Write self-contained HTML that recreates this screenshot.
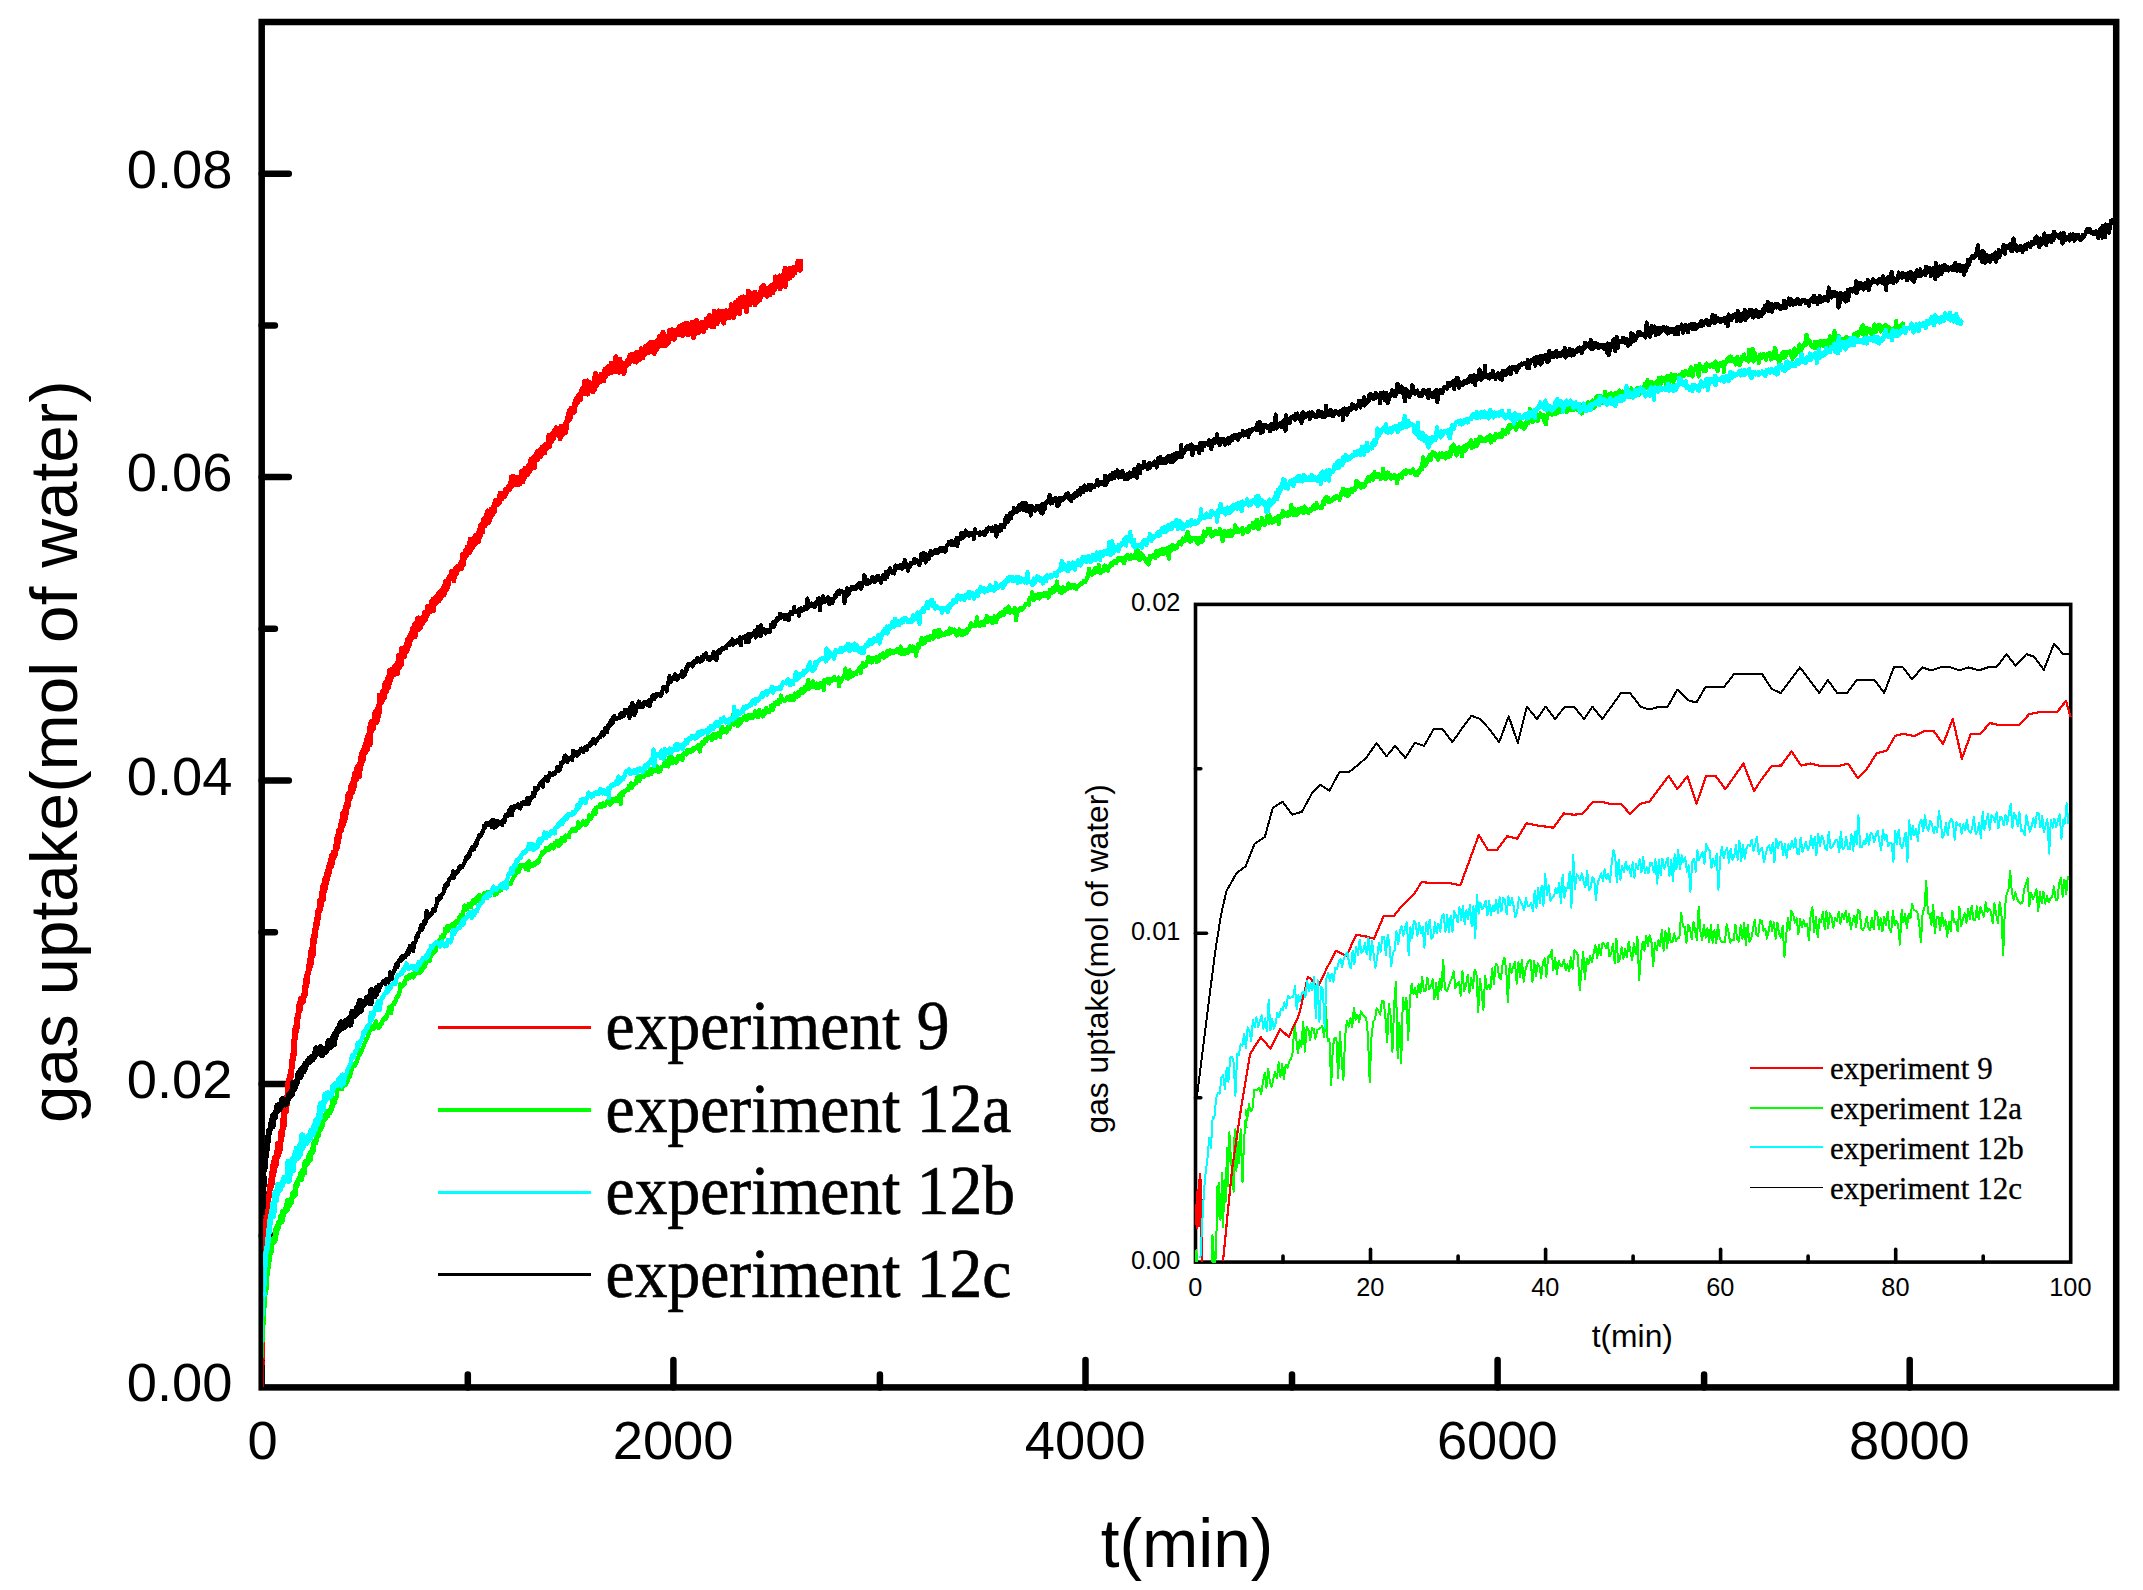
<!DOCTYPE html>
<html lang="en"><head><meta charset="utf-8"><title>gas uptake vs t(min)</title>
<style>html,body{margin:0;padding:0;background:#fff;}body{width:2143px;height:1590px;overflow:hidden;}svg{display:block;}</style>
</head><body>
<svg width="2143" height="1590" viewBox="0 0 2143 1590" role="img" aria-label="gas uptake versus time chart">
<rect x="0" y="0" width="2143" height="1590" fill="#fff"/>
<defs><clipPath id="cm"><rect x="263.2" y="22.0" width="1854.5" height="1366.4"/></clipPath><clipPath id="ci"><rect x="1195.0" y="604.4" width="877.2" height="658.9"/></clipPath></defs>
<g stroke="#000" fill="none" stroke-width="6.5">
<rect x="261.7" y="22.0" width="1854.5" height="1365.4" stroke-linejoin="miter"/>
<g stroke-linecap="round">
<line x1="673.4" y1="1387.4" x2="673.4" y2="1360.0"/>
<line x1="1085.5" y1="1387.4" x2="1085.5" y2="1360.0"/>
<line x1="1497.6" y1="1387.4" x2="1497.6" y2="1360.0"/>
<line x1="1909.7" y1="1387.4" x2="1909.7" y2="1360.0"/>
<line x1="467.8" y1="1387.4" x2="467.8" y2="1374.5"/>
<line x1="879.9" y1="1387.4" x2="879.9" y2="1374.5"/>
<line x1="1292.0" y1="1387.4" x2="1292.0" y2="1374.5"/>
<line x1="1704.1" y1="1387.4" x2="1704.1" y2="1374.5"/>
<line x1="261.7" y1="1084.0" x2="288.8" y2="1084.0"/>
<line x1="261.7" y1="780.6" x2="288.8" y2="780.6"/>
<line x1="261.7" y1="477.1" x2="288.8" y2="477.1"/>
<line x1="261.7" y1="173.7" x2="288.8" y2="173.7"/>
<line x1="261.7" y1="1235.7" x2="274.9" y2="1235.7"/>
<line x1="261.7" y1="932.3" x2="274.9" y2="932.3"/>
<line x1="261.7" y1="628.8" x2="274.9" y2="628.8"/>
<line x1="261.7" y1="325.4" x2="274.9" y2="325.4"/>
</g></g>
<g shape-rendering="crispEdges" clip-path="url(#cm)">
<polyline points="262.0,1387.0 263.2,1384.8 263.2,1380.8 263.3,1376.7 263.3,1372.6 263.3,1368.6 263.4,1364.5 263.4,1360.5 263.5,1356.5 263.5,1352.4 263.5,1348.3 263.6,1344.3 263.6,1340.2 263.6,1336.2 263.7,1332.2 263.7,1328.1 263.7,1324.0 263.8,1320.0 263.8,1316.0 263.9,1311.9 263.9,1307.9 263.9,1303.8 264.8,1299.8 263.8,1295.7 264.1,1291.6" fill="none" stroke="#ff0000" stroke-width="2.2" stroke-linejoin="round" />
<polyline points="265.0,1267.2 264.9,1263.1 264.4,1259.0 264.7,1255.0 265.1,1250.9 264.8,1246.8 264.9,1242.7 264.3,1238.7 265.4,1234.6 265.3,1230.5 265.6,1226.5 264.9,1222.5 266.7,1218.4 266.2,1214.4 271.2,1179.0 271.5,1185.2 271.8,1177.5 272.1,1172.5 272.4,1174.0 272.7,1166.8 273.0,1175.0 273.3,1169.3 273.6,1166.7 273.9,1171.1 274.2,1161.4 274.5,1166.9 274.8,1158.0 275.1,1161.2 275.4,1158.5 275.7,1165.3 276.0,1164.6 276.3,1156.2 276.6,1158.6 276.9,1153.7 277.2,1154.9 277.5,1149.7 277.8,1155.5 278.1,1144.1 278.4,1149.7 278.7,1153.6 279.0,1146.6 279.3,1143.5 279.6,1149.9 279.9,1144.1 280.2,1142.3 280.5,1141.4 280.8,1139.6 281.1,1137.2 281.4,1131.8 281.7,1136.0 282.0,1131.7 282.3,1133.4 282.6,1126.8 282.9,1120.1 283.2,1124.1 283.5,1127.6 283.8,1119.6 284.1,1115.5 284.4,1112.4 284.7,1110.6 285.0,1110.8 285.3,1106.1 285.6,1111.9 285.9,1104.6 286.2,1104.4 286.5,1106.1 286.8,1103.8 287.1,1096.9 287.4,1096.8 287.7,1095.8 288.0,1091.2 288.3,1083.3 288.6,1083.6 288.9,1087.2 289.2,1084.6 289.5,1078.6 289.8,1079.4 290.1,1076.0 290.4,1074.6 290.7,1077.0 291.0,1075.1 291.3,1070.2 291.6,1068.2 291.9,1065.8 292.2,1061.3 292.5,1059.0 292.8,1054.6 293.1,1054.0 293.4,1058.4 293.7,1051.7 294.0,1044.6 294.3,1042.2 294.6,1038.4 294.9,1039.2 295.2,1036.5 295.5,1028.2 295.8,1031.6 296.1,1026.2 296.4,1029.8 296.7,1023.6 297.0,1027.0 297.3,1018.3 297.6,1017.1 297.9,1016.6 298.2,1017.1 298.5,1013.7 298.8,1006.2 299.1,1009.2 299.4,1007.0 299.7,1003.5 300.0,1003.2 300.3,1009.2 300.6,1001.5 300.9,998.7 301.2,1003.1 301.5,1000.9 301.8,999.7 302.1,1002.0 302.4,1000.4 302.7,999.5 303.0,1001.3 303.3,998.5 303.6,995.4 303.9,995.4 304.2,994.2 304.5,996.2 304.8,990.8 305.1,987.0 305.4,990.2 305.7,983.9 306.0,980.1 306.3,985.4 306.6,980.6 306.9,982.7 307.2,977.9 307.5,974.6 307.8,972.7 308.1,973.6 308.4,971.9 308.7,969.0 309.0,969.8 309.3,964.9 309.6,967.6 309.9,960.1 310.2,963.2 310.5,964.8 310.8,964.2 311.1,963.3 311.4,950.3 311.7,955.5 312.0,956.1 312.3,952.9 312.6,945.1 312.9,947.4 313.2,953.8 313.5,938.5 313.8,942.0 314.1,942.1 314.4,934.6 314.7,937.0 315.0,930.4 315.3,929.9 315.6,927.5 315.9,928.2 316.2,923.7 316.5,926.5 316.8,918.7 317.1,919.3 317.4,921.1 317.7,917.9 318.0,911.4 318.3,915.9 318.6,910.7 318.9,912.1 319.2,909.9 319.5,911.0 319.8,907.0 320.1,900.6 320.4,901.0 320.7,905.7 321.0,901.8 321.3,904.8 321.6,901.2 321.9,895.5 322.2,899.6 322.5,891.5 322.8,888.1 323.1,898.7 323.4,885.8 323.7,892.2 324.0,891.4 324.3,887.7 324.6,881.3 324.9,888.2 325.2,879.6 325.5,878.8 325.8,880.6 326.1,883.1 326.4,880.4 326.7,880.2 327.0,875.2 327.3,875.0 327.6,871.6 327.9,872.5 328.2,874.8 328.5,870.7 328.8,872.6 329.1,867.3 329.4,866.0 329.7,865.9 330.0,863.7 330.3,865.0 330.6,863.0 330.9,866.5 331.2,859.8 331.5,858.5 331.8,855.8 332.1,857.8 332.4,862.9 332.7,855.3 333.0,856.0 333.3,857.5 333.6,853.8 333.9,852.2 334.2,855.9 334.5,853.0 334.8,852.8 335.1,853.9 335.4,852.5 335.7,847.1 336.0,845.7 336.3,847.1 336.6,845.0 336.9,839.0 337.2,847.2 337.5,842.0 337.8,842.5 338.1,835.3 338.4,841.3 338.7,835.0 339.0,835.6 339.3,830.2 339.6,832.9 339.9,831.1 340.2,830.4 340.5,830.4 340.8,828.5 341.1,830.0 341.4,824.6 341.7,821.7 342.0,823.0 342.3,823.8 342.6,825.9 342.9,822.3 343.2,813.7 343.5,819.6 343.8,822.1 344.1,816.4 344.4,814.0 344.7,814.9 345.0,811.2 345.3,817.7 345.6,810.3 345.9,813.4 346.2,810.2 346.5,805.3 346.8,807.9 347.1,807.4 347.4,803.1 347.7,802.4 348.0,795.8 348.3,804.4 348.6,799.5 348.9,793.6 349.2,793.3 349.5,796.8 349.8,798.4 350.1,794.3 350.4,794.3 350.7,788.6 351.0,786.8 351.3,793.3 351.6,790.9 351.9,788.3 352.2,791.9 352.5,783.6 352.8,784.6 353.1,787.7 353.4,788.8 353.7,781.6 354.0,786.7 354.3,778.5 354.6,780.5 354.9,778.8 355.2,774.0 355.5,778.7 355.8,779.8 356.1,775.3 356.4,774.9 356.7,778.2 357.0,769.6 357.3,768.4 357.6,769.5 357.9,767.2 358.2,774.3 358.5,770.3 358.8,765.7 359.1,766.3 359.4,775.9 359.7,764.7 360.0,763.2 360.3,765.5 360.6,765.6 360.9,763.6 361.2,758.7 361.5,756.6 361.8,760.8 362.1,758.0 362.4,752.3 362.7,760.3 363.0,758.4 363.3,754.9 363.6,754.2 363.9,754.0 364.2,750.7 364.5,748.6 364.8,752.9 365.1,746.6 365.4,750.6 365.7,744.3 366.0,746.9 366.3,745.1 366.6,750.1 366.9,741.0 367.2,738.9 367.5,740.1 367.8,737.5 368.1,738.8 368.4,741.1 368.7,741.0 369.0,742.6 369.3,734.5 369.6,744.1 369.9,741.0 370.2,733.0 370.5,726.0 370.8,731.6 371.1,730.4 371.4,722.3 371.7,728.3 372.0,726.4 372.3,723.8 372.6,727.3 372.9,728.3 373.2,723.2 373.5,724.9 373.8,721.1 374.1,719.9 374.4,721.3 374.7,721.4 375.0,717.7 375.3,712.8 375.6,720.5 375.9,713.2 376.2,717.7 376.5,722.1 376.8,715.7 377.1,711.2 377.4,709.7 377.7,717.3 378.0,712.8 378.3,712.8 378.6,713.4 378.9,709.6 379.2,707.5 379.5,704.3 379.8,695.6 380.1,699.2 380.4,702.7 380.7,701.8 381.0,702.7 381.3,700.0 381.6,699.9 381.9,701.0 382.2,695.5 382.5,696.6 382.8,692.3 383.1,698.4 383.4,694.9 383.7,695.6 384.0,697.6 384.3,695.5 384.6,691.1 384.9,692.4 385.2,684.5 385.5,689.6 385.8,688.2 386.1,682.7 386.4,691.1 386.7,684.4 387.0,687.3 387.3,683.2 387.6,686.7 387.9,688.0 388.2,680.6 388.5,677.4 388.8,680.6 389.1,683.4 389.4,678.9 389.7,678.0 390.0,680.5 390.3,670.6 390.6,675.7 390.9,672.8 391.2,677.6 391.5,673.8 391.8,671.7 392.1,674.1 392.4,669.6 392.7,673.0 393.0,671.0 393.3,672.1 393.6,670.5 393.9,674.3 394.2,670.1 394.5,671.1 394.8,670.4 395.1,666.5 395.4,670.5 395.7,669.7 396.0,668.8 396.3,666.4 396.6,666.0 396.9,669.4 397.2,673.0 397.5,663.1 397.8,667.1 398.1,664.4 398.4,667.1 398.7,665.6 399.0,667.3 399.3,655.7 399.6,662.3 399.9,660.5 400.2,663.0 400.5,659.9 400.8,658.5 401.1,661.6 401.4,664.1 401.7,649.3 402.0,656.1 402.3,657.4 402.6,655.9 402.9,654.3 403.2,651.1 403.5,651.6 403.8,655.7 404.1,656.3 404.4,653.1 404.7,649.3 405.0,652.0 405.3,650.5 405.6,652.0 405.9,649.9 406.2,646.6 406.5,648.6 406.8,643.8 407.1,649.8 407.4,649.1 407.7,640.7 408.0,644.6 408.3,639.9 408.6,645.2 408.9,643.7 409.2,639.7 409.5,642.5 409.8,637.7 410.1,636.7 410.4,636.6 410.7,636.5 411.0,635.0 411.3,635.9 411.6,633.0 411.9,636.4 412.2,637.0 412.5,632.0 412.8,629.0 413.1,635.3 413.4,636.0 413.7,632.0 414.0,628.3 414.3,632.5 414.6,636.3 414.9,624.9 415.2,630.8 415.5,627.5 415.8,625.8 416.1,629.4 416.4,623.4 416.7,627.3 417.0,629.2 417.3,625.5 417.6,621.9 417.9,619.0 418.2,620.5 418.5,618.5 418.8,628.9 419.1,622.8 419.4,620.5 419.7,619.5" fill="none" stroke="#ff0000" stroke-width="6.0" stroke-linejoin="round" />
<polyline points="263.8,1295.7 264.1,1291.6 264.4,1287.5 263.8,1283.5 264.3,1279.4 264.4,1275.3 263.6,1271.2 265.0,1267.2 264.9,1263.1 264.4,1259.0 264.7,1255.0 265.1,1250.9 264.8,1246.8 264.9,1242.7 264.3,1238.7 265.4,1234.6 265.3,1230.5 265.6,1226.5 264.9,1222.5 266.7,1218.4 266.2,1214.4 271.2,1179.0 271.5,1185.2 271.8,1177.5 272.1,1172.5 272.4,1174.0 272.7,1166.8 273.0,1175.0 273.3,1169.3 273.6,1166.7 273.9,1171.1 274.2,1161.4 274.5,1166.9 274.8,1158.0 275.1,1161.2 275.4,1158.5 275.7,1165.3 276.0,1164.6 276.3,1156.2 276.6,1158.6 276.9,1153.7 277.2,1154.9 277.5,1149.7 277.8,1155.5 278.1,1144.1 278.4,1149.7 278.7,1153.6 279.0,1146.6 279.3,1143.5 279.6,1149.9 279.9,1144.1 280.2,1142.3 280.5,1141.4 280.8,1139.6 281.1,1137.2 281.4,1131.8 281.7,1136.0 282.0,1131.7 282.3,1133.4 282.6,1126.8 282.9,1120.1 283.2,1124.1 283.5,1127.6 283.8,1119.6 284.1,1115.5 284.4,1112.4 284.7,1110.6 285.0,1110.8 285.3,1106.1 285.6,1111.9 285.9,1104.6 286.2,1104.4 286.5,1106.1 286.8,1103.8 287.1,1096.9 287.4,1096.8 287.7,1095.8 288.0,1091.2 288.3,1083.3 288.6,1083.6 288.9,1087.2 289.2,1084.6 289.5,1078.6 289.8,1079.4 290.1,1076.0 290.4,1074.6 290.7,1077.0 291.0,1075.1 291.3,1070.2 291.6,1068.2 291.9,1065.8 292.2,1061.3 292.5,1059.0 292.8,1054.6 293.1,1054.0 293.4,1058.4 293.7,1051.7 294.0,1044.6 294.3,1042.2 294.6,1038.4 294.9,1039.2 295.2,1036.5 295.5,1028.2 295.8,1031.6 296.1,1026.2 296.4,1029.8 296.7,1023.6 297.0,1027.0 297.3,1018.3 297.6,1017.1 297.9,1016.6 298.2,1017.1 298.5,1013.7 298.8,1006.2 299.1,1009.2 299.4,1007.0 299.7,1003.5 300.0,1003.2 300.3,1009.2 300.6,1001.5 300.9,998.7 301.2,1003.1 301.5,1000.9 301.8,999.7 302.1,1002.0 302.4,1000.4 302.7,999.5 303.0,1001.3 303.3,998.5 303.6,995.4 303.9,995.4 304.2,994.2 304.5,996.2 304.8,990.8 305.1,987.0 305.4,990.2 305.7,983.9 306.0,980.1 306.3,985.4 306.6,980.6 306.9,982.7 307.2,977.9 307.5,974.6 307.8,972.7 308.1,973.6 308.4,971.9 308.7,969.0 309.0,969.8 309.3,964.9 309.6,967.6 309.9,960.1 310.2,963.2 310.5,964.8 310.8,964.2 311.1,963.3 311.4,950.3 311.7,955.5 312.0,956.1 312.3,952.9 312.6,945.1 312.9,947.4 313.2,953.8 313.5,938.5 313.8,942.0 314.1,942.1 314.4,934.6 314.7,937.0 315.0,930.4 315.3,929.9 315.6,927.5 315.9,928.2 316.2,923.7 316.5,926.5 316.8,918.7 317.1,919.3 317.4,921.1 317.7,917.9 318.0,911.4 318.3,915.9 318.6,910.7 318.9,912.1 319.2,909.9 319.5,911.0 319.8,907.0 320.1,900.6 320.4,901.0 320.7,905.7 321.0,901.8 321.3,904.8 321.6,901.2 321.9,895.5 322.2,899.6 322.5,891.5 322.8,888.1 323.1,898.7 323.4,885.8 323.7,892.2 324.0,891.4 324.3,887.7 324.6,881.3 324.9,888.2 325.2,879.6 325.5,878.8 325.8,880.6 326.1,883.1 326.4,880.4 326.7,880.2 327.0,875.2 327.3,875.0 327.6,871.6 327.9,872.5 328.2,874.8 328.5,870.7 328.8,872.6 329.1,867.3 329.4,866.0 329.7,865.9 330.0,863.7 330.3,865.0 330.6,863.0 330.9,866.5 331.2,859.8 331.5,858.5 331.8,855.8 332.1,857.8 332.4,862.9 332.7,855.3 333.0,856.0 333.3,857.5 333.6,853.8 333.9,852.2 334.2,855.9 334.5,853.0 334.8,852.8 335.1,853.9 335.4,852.5 335.7,847.1 336.0,845.7 336.3,847.1 336.6,845.0 336.9,839.0 337.2,847.2 337.5,842.0 337.8,842.5 338.1,835.3 338.4,841.3 338.7,835.0 339.0,835.6 339.3,830.2 339.6,832.9 339.9,831.1 340.2,830.4 340.5,830.4 340.8,828.5 341.1,830.0 341.4,824.6 341.7,821.7 342.0,823.0 342.3,823.8 342.6,825.9 342.9,822.3 343.2,813.7 343.5,819.6 343.8,822.1 344.1,816.4 344.4,814.0 344.7,814.9 345.0,811.2 345.3,817.7 345.6,810.3 345.9,813.4 346.2,810.2 346.5,805.3 346.8,807.9 347.1,807.4 347.4,803.1 347.7,802.4 348.0,795.8 348.3,804.4 348.6,799.5 348.9,793.6 349.2,793.3 349.5,796.8 349.8,798.4 350.1,794.3 350.4,794.3 350.7,788.6 351.0,786.8 351.3,793.3 351.6,790.9 351.9,788.3 352.2,791.9 352.5,783.6 352.8,784.6 353.1,787.7 353.4,788.8 353.7,781.6 354.0,786.7 354.3,778.5 354.6,780.5 354.9,778.8 355.2,774.0 355.5,778.7 355.8,779.8 356.1,775.3 356.4,774.9 356.7,778.2 357.0,769.6 357.3,768.4 357.6,769.5 357.9,767.2 358.2,774.3 358.5,770.3 358.8,765.7 359.1,766.3 359.4,775.9 359.7,764.7 360.0,763.2 360.3,765.5 360.6,765.6 360.9,763.6 361.2,758.7 361.5,756.6 361.8,760.8 362.1,758.0 362.4,752.3 362.7,760.3 363.0,758.4 363.3,754.9 363.6,754.2 363.9,754.0 364.2,750.7 364.5,748.6 364.8,752.9 365.1,746.6 365.4,750.6 365.7,744.3 366.0,746.9 366.3,745.1 366.6,750.1 366.9,741.0 367.2,738.9 367.5,740.1 367.8,737.5 368.1,738.8 368.4,741.1 368.7,741.0 369.0,742.6 369.3,734.5 369.6,744.1 369.9,741.0 370.2,733.0 370.5,726.0 370.8,731.6 371.1,730.4 371.4,722.3 371.7,728.3 372.0,726.4 372.3,723.8 372.6,727.3 372.9,728.3 373.2,723.2 373.5,724.9 373.8,721.1 374.1,719.9 374.4,721.3 374.7,721.4 375.0,717.7 375.3,712.8 375.6,720.5 375.9,713.2 376.2,717.7 376.5,722.1 376.8,715.7 377.1,711.2 377.4,709.7 377.7,717.3 378.0,712.8 378.3,712.8 378.6,713.4 378.9,709.6 379.2,707.5 379.5,704.3 379.8,695.6 380.1,699.2 380.4,702.7 380.7,701.8 381.0,702.7 381.3,700.0 381.6,699.9 381.9,701.0 382.2,695.5 382.5,696.6 382.8,692.3 383.1,698.4 383.4,694.9 383.7,695.6 384.0,697.6 384.3,695.5 384.6,691.1 384.9,692.4 385.2,684.5 385.5,689.6 385.8,688.2 386.1,682.7 386.4,691.1 386.7,684.4 387.0,687.3 387.3,683.2 387.6,686.7 387.9,688.0 388.2,680.6 388.5,677.4 388.8,680.6 389.1,683.4 389.4,678.9 389.7,678.0 390.0,680.5 390.3,670.6 390.6,675.7 390.9,672.8 391.2,677.6 391.5,673.8 391.8,671.7 392.1,674.1 392.4,669.6 392.7,673.0 393.0,671.0 393.3,672.1 393.6,670.5 393.9,674.3 394.2,670.1 394.5,671.1 394.8,670.4 395.1,666.5 395.4,670.5 395.7,669.7 396.0,668.8 396.3,666.4 396.6,666.0 396.9,669.4 397.2,673.0 397.5,663.1 397.8,667.1 398.1,664.4 398.4,667.1 398.7,665.6 399.0,667.3 399.3,655.7 399.6,662.3 399.9,660.5 400.2,663.0 400.5,659.9 400.8,658.5 401.1,661.6 401.4,664.1 401.7,649.3 402.0,656.1 402.3,657.4 402.6,655.9 402.9,654.3 403.2,651.1 403.5,651.6 403.8,655.7 404.1,656.3 404.4,653.1 404.7,649.3 405.0,652.0 405.3,650.5 405.6,652.0 405.9,649.9 406.2,646.6 406.5,648.6 406.8,643.8 407.1,649.8 407.4,649.1 407.7,640.7 408.0,644.6 408.3,639.9 408.6,645.2 408.9,643.7 409.2,639.7 409.5,642.5 409.8,637.7 410.1,636.7 410.4,636.6 410.7,636.5 411.0,635.0 411.3,635.9 411.6,633.0 411.9,636.4 412.2,637.0 412.5,632.0 412.8,629.0 413.1,635.3 413.4,636.0 413.7,632.0 414.0,628.3 414.3,632.5 414.6,636.3 414.9,624.9 415.2,630.8 415.5,627.5 415.8,625.8 416.1,629.4 416.4,623.4 416.7,627.3 417.0,629.2 417.3,625.5 417.6,621.9 417.9,619.0 418.2,620.5 418.5,618.5 418.8,628.9 419.1,622.8 419.4,620.5 419.7,619.5 420.0,619.5 420.3,621.3 420.6,618.9 420.9,626.7 421.2,618.7 421.5,618.0 421.8,620.9 422.1,624.0 422.4,624.0 422.7,618.0 423.0,620.1 423.3,619.1 423.6,619.3 423.9,618.0 424.2,613.9 424.5,612.8 424.8,617.3 425.1,612.5 425.4,620.2 425.7,615.4 426.0,612.5 426.3,613.5 426.6,612.3 426.9,613.1 427.2,615.7 427.5,607.7 427.8,606.3 428.1,612.1 428.4,610.5 428.7,610.5 429.0,611.4 429.3,609.4 429.6,612.1 429.9,607.0 430.2,609.3 430.5,606.1 430.8,605.2 431.1,609.5 431.4,608.8 431.7,600.7 432.0,602.6 432.3,606.3 432.6,607.1 432.9,601.5 433.2,602.6 433.5,599.0 433.8,610.6 434.1,603.8 434.4,604.5 434.7,603.0 435.0,603.2 435.3,601.5 435.6,598.7 435.9,601.7 436.2,599.5 436.5,602.6 436.8,595.9 437.1,596.3 437.4,599.1 437.7,600.7 438.0,597.3 438.3,594.0 438.6,595.3 438.9,593.3 439.2,600.7 439.5,597.5 439.8,598.5 440.1,595.0 440.4,591.6 440.7,596.3 441.0,597.8 441.3,594.8 441.6,592.8 441.9,595.6 442.2,590.9 442.5,594.2 442.8,588.8 443.1,587.9 443.4,591.6 443.7,590.6 444.0,595.1 444.3,588.1 444.6,588.5 444.9,585.1 445.2,582.2 445.5,581.8 445.8,587.6 446.1,582.2 446.4,589.0 446.7,589.3 447.0,582.9 447.3,588.4 447.6,583.9 447.9,585.7 448.2,581.1 448.5,584.2 448.8,577.7 449.1,578.6 449.4,578.4 449.7,578.4 450.0,575.6 450.3,576.9 450.6,576.4 450.9,578.9 451.2,578.6 451.5,571.2 451.8,577.3 452.1,577.5 452.4,573.3 452.7,577.1 453.0,571.6 453.3,579.5 453.6,573.7 453.9,580.7 454.2,576.7 454.5,572.7 454.8,574.4 455.1,569.7 455.4,570.5 455.7,567.7 456.0,570.5 456.3,574.1 456.6,570.9 456.9,572.9 457.2,567.0 457.5,566.1 457.8,566.4 458.1,569.1 458.4,568.0 458.7,567.3 459.0,568.4 459.3,565.6 459.6,565.5 459.9,569.1 460.2,563.8 460.5,565.6 460.8,568.7 461.1,564.4 461.4,565.9 461.7,560.9 462.0,567.9 462.3,554.7 462.6,557.7 462.9,557.8 463.2,565.3 463.5,560.7 463.8,558.0 464.1,554.4 464.4,558.9 464.7,557.9 465.0,554.1 465.3,550.8 465.6,551.8 465.9,556.0 466.2,556.2 466.5,554.0 466.8,553.3 467.1,547.1 467.4,552.1 467.7,548.5 468.0,552.1 468.3,552.4 468.6,549.1 468.9,547.6 469.2,552.9 469.5,549.6 469.8,545.7 470.1,538.9 470.4,547.3 470.7,549.2 471.0,550.5 471.3,544.6 471.6,544.6 471.9,544.8 472.2,548.1 472.5,541.4 472.8,543.8 473.1,541.1 473.4,544.1 473.7,538.6 474.0,543.8 474.3,540.3 474.6,539.9 474.9,542.0 475.2,544.4 475.5,535.4 475.8,542.1 476.1,540.6 476.4,537.2 476.7,542.1 477.0,538.1 477.3,541.1 477.6,535.0 477.9,533.5 478.2,539.7 478.5,541.8 478.8,537.1 479.1,537.1 479.4,532.5 479.7,529.1 480.0,532.2 480.3,536.5 480.6,525.5 480.9,529.5 481.2,524.8 481.5,530.3 481.8,531.6 482.1,527.3 482.4,526.8 482.7,531.7 483.0,526.6 483.3,522.8 483.6,521.3 483.9,518.7 484.2,526.1 484.5,521.3 484.8,526.0 485.1,525.9 485.4,520.8 485.7,520.8 486.0,523.2 486.3,520.2 486.6,520.5 486.9,513.9 487.2,521.5 487.5,515.4 487.8,510.9 488.1,515.0 488.4,517.8 488.7,522.6 489.0,515.1 489.3,511.5 489.6,520.8 489.9,514.7 490.2,513.0 490.5,510.4 490.8,509.6 491.1,516.9 491.4,511.1 491.7,509.4 492.0,508.8 492.3,515.0 492.6,508.1 492.9,511.4 493.2,509.8 493.5,509.1 493.8,505.8 494.1,510.0 494.4,511.7 494.7,505.7 495.0,502.4 495.3,500.7 495.6,505.0 495.9,502.1 496.2,502.5 496.5,502.9 496.8,502.0 497.1,504.7 497.4,502.3 497.7,500.9 498.0,501.1 498.3,503.5 498.6,500.9 498.9,498.1 499.2,503.2 499.5,498.0 499.8,496.1 500.1,493.2 500.4,497.7 500.7,494.7 501.0,495.8 501.3,498.4 501.6,496.7 501.9,498.8 502.2,497.1 502.5,494.7 502.8,495.2 503.1,494.6 503.4,497.1 503.7,494.6 504.0,493.2 504.3,496.9 504.6,494.5 504.9,492.4 505.2,489.7 505.5,494.3 505.8,493.2 506.1,491.7 506.4,490.3 506.7,488.8 507.0,490.6 507.3,491.4 507.6,488.8 507.9,488.1 508.2,486.8 508.5,488.9 508.8,488.6 509.1,485.8 509.4,489.7 509.7,489.8 510.0,488.7 510.3,485.8 510.6,484.3 510.9,481.3 511.2,485.7 511.5,476.9 511.8,482.5 512.1,482.3 512.4,485.8 512.7,483.4 513.0,478.9 513.3,476.4 513.6,478.3 513.9,480.1 514.2,479.6 514.5,479.9 514.8,479.0 515.1,480.5 515.4,483.5 515.7,477.2 516.0,480.6 516.3,485.0 516.6,482.3 516.9,478.1 517.2,481.9 517.5,477.3 517.8,479.8 518.1,484.1 518.4,484.6 518.7,482.9 519.0,480.4 519.3,484.0 519.6,477.6 519.9,480.4 520.2,483.8 520.5,476.9 520.8,479.5 521.1,477.9 521.4,471.3 521.7,477.8 522.0,476.5 522.3,479.4 522.6,481.9 522.9,477.7 523.2,475.0 523.5,477.1 523.8,476.1 524.1,478.8 524.4,471.3 524.7,471.5 525.0,468.5 525.3,476.1 525.6,473.9 525.9,472.3 526.2,471.1 526.5,471.3 526.8,469.6 527.1,470.0 527.4,469.3 527.7,474.5 528.0,470.2 528.3,465.6 528.6,466.2 528.9,471.9 529.2,467.3 529.5,468.1 529.8,469.2 530.1,471.0 530.4,461.9 530.7,463.2 531.0,459.2 531.3,466.0 531.6,463.0 531.9,462.2 532.2,460.6 532.5,465.0 532.8,462.0 533.1,460.6 533.4,465.0 533.7,457.2 534.0,456.6 534.3,467.8 534.6,458.7 534.9,457.9 535.2,457.1 535.5,457.7 535.8,459.8 536.1,459.0 536.4,458.8 536.7,456.4 537.0,451.8 537.3,456.0 537.6,459.5 537.9,457.9 538.2,454.3 538.5,456.1 538.8,452.9 539.1,453.6 539.4,450.3 539.7,452.8 540.0,453.6 540.3,451.9 540.6,455.0 540.9,456.5 541.2,455.0 541.5,450.1 541.8,448.1 542.1,448.4 542.4,447.0 542.7,449.1 543.0,449.8 543.3,449.1 543.6,448.8 543.9,448.0 544.2,447.1 544.5,445.3 544.8,452.9 545.1,450.6 545.4,445.0 545.7,444.3 546.0,444.7 546.3,445.6 546.6,448.9 546.9,447.9 547.2,447.7 547.5,446.8 547.8,444.7 548.1,444.8 548.4,443.3 548.7,439.9 549.0,435.3 549.3,440.2 549.6,446.4 549.9,438.5 550.2,437.4 550.5,441.6 550.8,438.1 551.1,436.3 551.4,442.0 551.7,439.1 552.0,438.7 552.3,433.9 552.6,437.1 552.9,433.2 553.2,437.8 553.5,438.4 553.8,438.2 554.1,434.4 554.4,435.3 554.7,429.7 555.0,434.5 555.3,433.9 555.6,430.1 555.9,429.5 556.2,431.2 556.5,427.7 556.8,432.1 557.1,432.8 557.4,428.8 557.7,432.0 558.0,435.2 558.3,435.1 558.6,434.7 558.9,430.3 559.2,429.7 559.5,430.2 559.8,433.1 560.1,439.0 560.4,434.0 560.7,436.8 561.0,435.5 561.3,426.2 561.6,430.3 561.9,429.7 562.2,434.0 562.5,434.3 562.8,426.8 563.1,428.6 563.4,430.0 563.7,427.3 564.0,426.1 564.3,426.1 564.6,430.4 564.9,424.4 565.2,429.1 565.5,432.4 565.8,428.1 566.1,430.0 566.4,422.9 566.7,421.5 567.0,423.7 567.3,418.3 567.6,418.7 567.9,418.6 568.2,418.4 568.5,413.4 568.8,415.6 569.1,418.5 569.4,420.0 569.7,409.9 570.0,418.9 570.3,416.9 570.6,410.5 570.9,408.5 571.2,413.6 571.5,410.3 571.8,411.0 572.1,412.3 572.4,408.7 572.7,409.8 573.0,409.9 573.3,410.6 573.6,412.3 573.9,411.3 574.2,406.3 574.5,403.7 574.8,411.0 575.1,405.6 575.4,404.7 575.7,399.6 576.0,405.3 576.3,399.8 576.6,400.9 576.9,398.2 577.2,400.3 577.5,402.2 577.8,396.7 578.1,398.2 578.4,400.1 578.7,395.7 579.0,395.1 579.3,396.1 579.6,394.1 579.9,399.9 580.2,394.4 580.5,399.1 580.8,399.1 581.1,392.0 581.4,395.2 581.7,392.3 582.0,389.4 582.3,391.2 582.6,390.9 582.9,393.6 583.2,393.9 583.5,387.9 583.8,388.9 584.1,392.2 584.4,393.6 584.7,381.2 585.0,388.9 585.3,388.0 585.6,392.9 585.9,386.7 586.2,385.6 586.5,386.9 586.8,391.2 587.1,388.2 587.4,381.0 587.7,394.2 588.0,383.3 588.3,385.0 588.6,384.9 588.9,382.2 589.2,384.3 589.5,384.7 589.8,386.0 590.1,387.3 590.4,387.0 590.7,383.5 591.0,387.5 591.3,390.3 591.6,389.4 591.9,386.9 592.2,388.8 592.5,389.5 592.8,390.0 593.1,391.6 593.4,385.1 593.7,390.3 594.0,390.0 594.3,389.8 594.6,389.7 594.9,376.7 595.2,382.5 595.5,373.3 595.8,384.7 596.1,381.9 596.4,382.2 596.7,381.3 597.0,385.3 597.3,379.5 597.6,383.2 597.9,381.8 598.2,381.3 598.5,381.7 598.8,380.3 599.1,376.3 599.4,381.5 599.7,381.5 600.0,378.6 600.3,380.8 600.6,381.2 600.9,374.3 601.2,377.5 601.5,376.4 601.8,374.3 602.1,378.3 602.4,374.8 602.7,375.3 603.0,376.7 603.3,376.5 603.6,375.9 603.9,380.9 604.2,372.5 604.5,374.4 604.8,369.4 605.1,374.8 605.4,376.4 605.7,376.5 606.0,370.1 606.3,370.4 606.6,374.3 606.9,370.4 607.2,373.7 607.5,367.5 607.8,374.2 608.1,373.0 608.4,370.7 608.7,366.5 609.0,368.6 609.3,369.0 609.6,369.5 609.9,368.3 610.2,367.9 610.5,369.0 610.8,372.8 611.1,362.9 611.4,364.9 611.7,363.6 612.0,366.1 612.3,363.3 612.6,369.6 612.9,367.5 613.2,366.2 613.5,365.2 613.8,367.1 614.1,371.7 614.4,367.4 614.7,364.2 615.0,368.4 615.3,361.8 615.6,369.7 615.9,356.7 616.2,364.7 616.5,363.0 616.8,369.1 617.1,361.8 617.4,371.3 617.7,360.6 618.0,371.6 618.3,367.2 618.6,366.0 618.9,367.4 619.2,372.3 619.5,368.1 619.8,359.2 620.1,369.1 620.4,366.5 620.7,361.5 621.0,368.0 621.3,361.6 621.6,366.3 621.9,366.7 622.2,364.6 622.5,369.0 622.8,363.6 623.1,367.9 623.4,366.0 623.7,367.3 624.0,373.5 624.3,367.6 624.6,363.4 624.9,365.5 625.2,367.8 625.5,364.8 625.8,365.1 626.1,364.4 626.4,363.5 626.7,361.6 627.0,363.5 627.3,365.0 627.6,360.1 627.9,360.9 628.2,360.6 628.5,364.0 628.8,363.9 629.1,358.2 629.4,360.3 629.7,355.5 630.0,356.2 630.3,358.3 630.6,360.3 630.9,361.5 631.2,357.8 631.5,354.6 631.8,359.9 632.1,357.2 632.4,358.4 632.7,357.3 633.0,359.3 633.3,359.0 633.6,359.5 633.9,354.9 634.2,359.2 634.5,354.7 634.8,356.6 635.1,361.7 635.4,357.9 635.7,352.7 636.0,360.9 636.3,362.1 636.6,358.4 636.9,355.7 637.2,355.8 637.5,352.2 637.8,352.1 638.1,359.7 638.4,353.6 638.7,352.9 639.0,353.4 639.3,359.9 639.6,357.8 639.9,353.3 640.2,354.0 640.5,355.9 640.8,356.7 641.1,348.8 641.4,355.6 641.7,352.0 642.0,350.8 642.3,351.4 642.6,354.3 642.9,357.7 643.2,353.0 643.5,354.3 643.8,349.9 644.1,353.3 644.4,354.6 644.7,347.5 645.0,350.1 645.3,353.7 645.6,346.1 645.9,350.4 646.2,353.1 646.5,345.9 646.8,349.1 647.1,350.1 647.4,352.4 647.7,345.8 648.0,352.8 648.3,350.0 648.6,352.4 648.9,352.4 649.2,349.7 649.5,349.9 649.8,343.0 650.1,343.8 650.4,344.8 650.7,346.9 651.0,350.5 651.3,342.0 651.6,346.4 651.9,343.6 652.2,343.3 652.5,351.6 652.8,347.6 653.1,351.8 653.4,350.5 653.7,344.8 654.0,342.2 654.3,353.5 654.6,346.3 654.9,345.5 655.2,348.1 655.5,345.3 655.8,342.4 656.1,342.8 656.4,343.5 656.7,343.1 657.0,349.5 657.3,340.7 657.6,340.3 657.9,342.9 658.2,342.2 658.5,344.3 658.8,339.8 659.1,339.4 659.4,336.5 659.7,344.5 660.0,336.1 660.3,340.5 660.6,337.7 660.9,341.5 661.2,343.6 661.5,336.2 661.8,340.7 662.1,336.6 662.4,345.8 662.7,340.1 663.0,332.1 663.3,338.7 663.6,345.0 663.9,345.4 664.2,344.2 664.5,338.9 664.8,340.3 665.1,346.0 665.4,338.8 665.7,340.1 666.0,338.3 666.3,337.8 666.6,345.0 666.9,343.8 667.2,342.7 667.5,342.4 667.8,342.8 668.1,343.2 668.4,338.7 668.7,336.8 669.0,334.0 669.3,340.3 669.6,330.2 669.9,332.3 670.2,334.7 670.5,334.9 670.8,336.7 671.1,337.1 671.4,331.9 671.7,329.7 672.0,333.7 672.3,332.4 672.6,335.4 672.9,337.2 673.2,336.2 673.5,331.1 673.8,331.8 674.1,339.4 674.4,332.8 674.7,338.1 675.0,337.2 675.3,333.2 675.6,330.6 675.9,334.6 676.2,331.6 676.5,333.1 676.8,333.9 677.1,331.8 677.4,333.6 677.7,332.7 678.0,329.7 678.3,332.6 678.6,330.6 678.9,327.6 679.2,331.0 679.5,331.2 679.8,330.5 680.1,326.1 680.4,334.7 680.7,333.2 681.0,333.0 681.3,331.9 681.6,327.1 681.9,330.5 682.2,325.4 682.5,335.9 682.8,328.2 683.1,331.3 683.4,324.4 683.7,325.3 684.0,326.9 684.3,331.2 684.6,331.2 684.9,330.4 685.2,323.6 685.5,332.1 685.8,324.9 686.1,332.4 686.4,333.1 686.7,329.7 687.0,329.6 687.3,323.2 687.6,334.9 687.9,327.7 688.2,330.5 688.5,324.8 688.8,327.7 689.1,324.0 689.4,326.7 689.7,327.0 690.0,327.9 690.3,331.1 690.6,328.4 690.9,327.7 691.2,326.7 691.5,333.5 691.8,326.1 692.1,331.2 692.4,322.0 692.7,325.3 693.0,328.9 693.3,327.9 693.6,337.6 693.9,336.5 694.2,324.3 694.5,325.7 694.8,328.7 695.1,334.3 695.4,332.4 695.7,329.9 696.0,323.9 696.3,325.4 696.6,320.3 696.9,324.3 697.2,330.1 697.5,330.7 697.8,324.8 698.1,328.5 698.4,332.5 698.7,327.4 699.0,325.1 699.3,328.6 699.6,328.3 699.9,325.6 700.2,323.4 700.5,323.0 700.8,324.9 701.1,322.7 701.4,328.0 701.7,327.0 702.0,328.3 702.3,330.7 702.6,329.3 702.9,328.4 703.2,325.7 703.5,324.0 703.8,331.5 704.1,322.2 704.4,323.0 704.7,322.1 705.0,325.8 705.3,326.7 705.6,327.9 705.9,323.9 706.2,319.3 706.5,324.8 706.8,326.6 707.1,323.7 707.4,322.3 707.7,324.2 708.0,325.9 708.3,321.9 708.6,317.5 708.9,319.4 709.2,323.2 709.5,315.5 709.8,323.1 710.1,318.9 710.4,322.6 710.7,321.4 711.0,320.5 711.3,326.5 711.6,320.2 711.9,320.2 712.2,322.7 712.5,323.7 712.8,321.8 713.1,317.8 713.4,322.4 713.7,322.7 714.0,326.7 714.3,311.1 714.6,320.7 714.9,319.2 715.2,316.2 715.5,321.1 715.8,322.6 716.1,317.2 716.4,318.3 716.7,316.4 717.0,324.0 717.3,317.8 717.6,321.4 717.9,316.7 718.2,319.1 718.5,316.3 718.8,310.9 719.1,318.2 719.4,319.1 719.7,311.8 720.0,317.3 720.3,316.3 720.6,313.9 720.9,316.6 721.2,311.4 721.5,317.5 721.8,320.0 722.1,312.8 722.4,316.2 722.7,321.0 723.0,317.3 723.3,316.1 723.6,323.2 723.9,317.3 724.2,316.0 724.5,318.0 724.8,311.3 725.1,318.7 725.4,314.4 725.7,316.8 726.0,312.5 726.3,310.8 726.6,313.2 726.9,311.8 727.2,313.4 727.5,316.2 727.8,317.5 728.1,314.5 728.4,312.4 728.7,312.9 729.0,316.7 729.3,317.9 729.6,313.6 729.9,315.3 730.2,312.0 730.5,314.3 730.8,316.3 731.1,304.7 731.4,313.9 731.7,311.0 732.0,305.9 732.3,313.6 732.6,312.0 732.9,313.3 733.2,307.5 733.5,317.4 733.8,311.3 734.1,309.6 734.4,314.4 734.7,312.0 735.0,312.1 735.3,312.2 735.6,302.3 735.9,313.0 736.2,306.8 736.5,307.9 736.8,309.5 737.1,303.7 737.4,306.0 737.7,307.2 738.0,304.4 738.3,306.5 738.6,299.7 738.9,300.9 739.2,300.3 739.5,305.3 739.8,313.6 740.1,304.0 740.4,297.9 740.7,302.7 741.0,306.7 741.3,306.2 741.6,300.1 741.9,306.7 742.2,303.7 742.5,305.9 742.8,297.1 743.1,298.2 743.4,304.1 743.7,296.9 744.0,303.1 744.3,302.8 744.6,301.9 744.9,302.1 745.2,302.6 745.5,303.1 745.8,300.7 746.1,302.8 746.4,311.4 746.7,305.6 747.0,303.1 747.3,301.7 747.6,298.4 747.9,300.6 748.2,291.4 748.5,301.6 748.8,295.9 749.1,292.2 749.4,296.9 749.7,301.0 750.0,305.1 750.3,301.3 750.6,295.3 750.9,297.1 751.2,295.3 751.5,297.5 751.8,295.5 752.1,293.2 752.4,299.8 752.7,299.2 753.0,297.5 753.3,298.5 753.6,303.1 753.9,297.6 754.2,296.2 754.5,299.9 754.8,292.1 755.1,305.1 755.4,294.4 755.7,294.4 756.0,297.4 756.3,302.6 756.6,295.9 756.9,300.6 757.2,299.8 757.5,294.9 757.8,301.6 758.1,296.3 758.4,294.3 758.7,295.9 759.0,295.5 759.3,299.3 759.6,296.8 759.9,300.1 760.2,296.4 760.5,292.6 760.8,290.7 761.1,295.1 761.4,287.9 761.7,287.6 762.0,291.0 762.3,295.0 762.6,293.6 762.9,293.1 763.2,291.9 763.5,285.6 763.8,290.7 764.1,286.4 764.4,294.3 764.7,291.7 765.0,291.5 765.3,292.5 765.6,292.4 765.9,293.1 766.2,294.0 766.5,290.5 766.8,288.4 767.1,293.2 767.4,296.3 767.7,294.7 768.0,290.5 768.3,292.1 768.6,289.0 768.9,290.9 769.2,287.6 769.5,289.5 769.8,295.0 770.1,291.0 770.4,293.0 770.7,285.9 771.0,286.1 771.3,288.1 771.6,290.4 771.9,288.2 772.2,291.5 772.5,286.9 772.8,292.8 773.1,291.2 773.4,284.5 773.7,288.4 774.0,286.4 774.3,289.9 774.6,285.6 774.9,287.3 775.2,286.7 775.5,276.8 775.8,278.9 776.1,284.8 776.4,283.5 776.7,287.1 777.0,284.4 777.3,279.6 777.6,284.4 777.9,280.8 778.2,282.0 778.5,281.5 778.8,283.9 779.1,278.4 779.4,279.3 779.7,275.9 780.0,289.0 780.3,280.1 780.6,280.7 780.9,279.0 781.2,279.3 781.5,279.4 781.8,281.3 782.1,278.7 782.4,278.6 782.7,275.3 783.0,276.8 783.3,280.7 783.6,277.8 783.9,278.3 784.2,270.9 784.5,278.5 784.8,278.0 785.1,286.5 785.4,268.1 785.7,275.1 786.0,274.8 786.3,275.1 786.6,273.5 786.9,276.5 787.2,278.5 787.5,276.4 787.8,275.5 788.1,274.9 788.4,274.2 788.7,275.0 789.0,272.9 789.3,268.5 789.6,278.2 789.9,268.2 790.2,273.6 790.5,269.7 790.8,272.1 791.1,269.5 791.4,271.5 791.7,269.3 792.0,268.2 792.3,272.7 792.6,275.6 792.9,271.7 793.2,271.3 793.5,267.5 793.8,271.0 794.1,272.0 794.4,268.5 794.7,273.2 795.0,270.3 795.3,271.1 795.6,268.6 795.9,268.3 796.2,269.9 796.5,269.4 796.8,269.4 797.1,264.7 797.4,265.3 797.7,266.9 798.0,261.0 798.3,269.0 798.6,267.4 798.9,266.8 799.2,264.2 799.5,268.3 799.8,264.7 800.1,270.3 800.4,265.5 800.7,259.2" fill="none" stroke="#ff0000" stroke-width="5.0" stroke-linejoin="round" />
<polyline points="262.3,1360.0 262.6,1355.8 262.8,1351.7 263.1,1347.5 263.3,1343.3 263.6,1339.2 263.8,1335.0 264.0,1331.0 264.3,1327.0 264.5,1323.0 264.7,1319.0 265.0,1315.0 265.2,1310.9 265.5,1306.9 265.7,1302.9 265.7,1298.9 265.8,1294.9 266.1,1290.9" fill="none" stroke="#00ff00" stroke-width="2.2" stroke-linejoin="round" />
<polyline points="270.7,1253.3 271.4,1245.5 272.1,1242.8 272.8,1241.4 273.5,1238.9 274.2,1241.5 274.9,1240.5 275.6,1236.6 276.3,1227.8 277.0,1227.4 277.7,1228.5 278.4,1223.3 279.1,1222.4 279.8,1222.5 280.5,1219.4 281.2,1215.9 281.9,1221.5 282.6,1212.1 283.3,1215.6 284.0,1211.6 284.7,1211.7 285.4,1208.9 286.1,1207.9 286.8,1210.3 287.5,1200.7 288.2,1203.0 288.9,1203.7 289.6,1205.0 290.3,1203.2 291.0,1202.4 291.7,1199.1 292.4,1196.6 293.1,1193.2 293.8,1193.3 294.5,1192.2 295.2,1194.8 295.9,1185.6 296.6,1186.3 297.3,1182.3 298.0,1180.9 298.7,1179.6 299.4,1177.8 300.1,1178.5 300.8,1173.4 301.5,1179.2 302.2,1171.6 302.9,1172.7 303.6,1170.2 304.3,1173.1 305.0,1163.2 305.7,1161.8 306.4,1163.3 307.1,1163.9 307.8,1162.4 308.5,1158.7 309.2,1155.3 309.9,1160.2 310.6,1155.0 311.3,1151.7 312.0,1151.3 312.7,1152.0 313.4,1145.9 314.1,1142.7 314.8,1143.0 315.5,1142.9 316.2,1140.3 316.9,1135.8 317.6,1135.3 318.3,1135.4 319.0,1128.9 319.7,1128.3 320.4,1128.8 321.1,1127.4 321.8,1126.1 322.5,1124.7 323.2,1116.7 323.9,1120.0 324.6,1115.9 325.3,1117.6 326.0,1117.4 326.7,1113.5 327.4,1115.8 328.1,1111.3 328.8,1111.2 329.5,1112.1 330.2,1112.1 330.9,1109.8 331.6,1108.0 332.3,1105.1 333.0,1100.5 333.7,1098.6 334.4,1103.4" fill="none" stroke="#00ff00" stroke-width="5.6" stroke-linejoin="round" />
<polyline points="265.8,1294.9 266.1,1290.9 266.9,1286.9 266.9,1282.9 266.8,1278.8 267.6,1274.8 270.7,1253.3 271.4,1245.5 272.1,1242.8 272.8,1241.4 273.5,1238.9 274.2,1241.5 274.9,1240.5 275.6,1236.6 276.3,1227.8 277.0,1227.4 277.7,1228.5 278.4,1223.3 279.1,1222.4 279.8,1222.5 280.5,1219.4 281.2,1215.9 281.9,1221.5 282.6,1212.1 283.3,1215.6 284.0,1211.6 284.7,1211.7 285.4,1208.9 286.1,1207.9 286.8,1210.3 287.5,1200.7 288.2,1203.0 288.9,1203.7 289.6,1205.0 290.3,1203.2 291.0,1202.4 291.7,1199.1 292.4,1196.6 293.1,1193.2 293.8,1193.3 294.5,1192.2 295.2,1194.8 295.9,1185.6 296.6,1186.3 297.3,1182.3 298.0,1180.9 298.7,1179.6 299.4,1177.8 300.1,1178.5 300.8,1173.4 301.5,1179.2 302.2,1171.6 302.9,1172.7 303.6,1170.2 304.3,1173.1 305.0,1163.2 305.7,1161.8 306.4,1163.3 307.1,1163.9 307.8,1162.4 308.5,1158.7 309.2,1155.3 309.9,1160.2 310.6,1155.0 311.3,1151.7 312.0,1151.3 312.7,1152.0 313.4,1145.9 314.1,1142.7 314.8,1143.0 315.5,1142.9 316.2,1140.3 316.9,1135.8 317.6,1135.3 318.3,1135.4 319.0,1128.9 319.7,1128.3 320.4,1128.8 321.1,1127.4 321.8,1126.1 322.5,1124.7 323.2,1116.7 323.9,1120.0 324.6,1115.9 325.3,1117.6 326.0,1117.4 326.7,1113.5 327.4,1115.8 328.1,1111.3 328.8,1111.2 329.5,1112.1 330.2,1112.1 330.9,1109.8 331.6,1108.0 332.3,1105.1 333.0,1100.5 333.7,1098.6 334.4,1103.4 335.1,1100.5 335.8,1098.8 336.5,1096.9 337.2,1092.8 337.9,1086.7 338.6,1084.2 339.3,1086.6 340.0,1085.5 340.7,1083.6 341.4,1082.2 342.1,1089.5 342.8,1086.7 343.5,1083.2 344.2,1083.7 344.9,1084.0 345.6,1082.7 346.3,1084.7 347.0,1081.0 347.7,1081.2 348.4,1077.4 349.1,1077.0 349.8,1077.0 350.5,1074.1 351.2,1070.4 351.9,1069.4 352.6,1066.5 353.3,1065.0 354.0,1064.2 354.7,1065.9 355.4,1062.8 356.1,1063.0 356.8,1061.3 357.5,1058.8 358.2,1057.8 358.9,1055.7 359.6,1052.4 360.3,1054.6 361.0,1049.9 361.7,1051.0 362.4,1048.5 363.1,1047.5 363.8,1045.5 364.5,1043.4 365.2,1042.5 365.9,1039.9 366.6,1039.6 367.3,1038.0 368.0,1036.6 368.7,1033.5 369.4,1032.0 370.1,1029.3 370.8,1028.7 371.5,1027.1 372.2,1029.1 372.9,1028.9 373.6,1029.1 374.3,1025.4 375.0,1027.8 375.7,1021.3 376.4,1025.5 377.1,1025.2 377.8,1027.4 378.5,1025.6 379.2,1027.8 379.9,1025.9 380.6,1023.4 381.3,1023.3 382.0,1024.0 382.7,1019.7 383.4,1018.5 384.1,1020.0 384.8,1017.4 385.5,1016.6 386.2,1018.5 386.9,1014.9 387.6,1014.0 388.3,1012.7 389.0,1007.3 389.7,1011.7 390.4,1008.7 391.1,1013.4 391.8,1008.2 392.5,1004.9 393.2,1004.2 393.9,1002.2 394.6,1003.7 395.3,1000.5 396.0,1000.9 396.7,996.3 397.4,996.7 398.1,996.6 398.8,994.7 399.5,992.2 400.2,984.3 400.9,987.2 401.6,987.1 402.3,986.7 403.0,984.8 403.7,982.6 404.4,983.9 405.1,983.1 405.8,977.8 406.5,977.1 407.2,977.9 407.9,978.7 408.6,976.3 409.3,975.2 410.0,977.8 410.7,977.1 411.4,976.0 412.1,976.2 412.8,973.7 413.5,977.4 414.2,973.6 414.9,973.0 415.6,974.2 416.3,972.6 417.0,971.5 417.7,971.9 418.4,969.4 419.1,971.0 419.8,972.9 420.5,968.7 421.2,969.0 421.9,971.1 422.6,965.0 423.3,964.6 424.0,964.9 424.7,967.4 425.4,961.4 426.1,963.6 426.8,960.1 427.5,961.4 428.2,959.6 428.9,959.7 429.6,961.2 430.3,957.3 431.0,956.9 431.7,954.4 432.4,952.2 433.1,950.9 433.8,953.3 434.5,946.8 435.2,948.2 435.9,951.0 436.6,946.8 437.3,945.7 438.0,943.9 438.7,941.2 439.4,941.2 440.1,940.8 440.8,937.2 441.5,937.6 442.2,939.5 442.9,935.1 443.6,935.1 444.3,936.4 445.0,928.5 445.7,931.1 446.4,928.9 447.1,926.0 447.8,930.7 448.5,929.2 449.2,928.1 449.9,928.2 450.6,926.6 451.3,924.6 452.0,924.6 452.7,924.0 453.4,923.9 454.1,926.9 454.8,926.3 455.5,921.5 456.2,923.4 456.9,922.7 457.6,922.8 458.3,920.5 459.0,917.1 459.7,916.9 460.4,916.9 461.1,914.8 461.8,915.9 462.5,916.3 463.2,911.3 463.9,910.2 464.6,905.6 465.3,909.4 466.0,909.8 466.7,906.2 467.4,908.9 468.1,907.2 468.8,903.9 469.5,905.1 470.2,905.8 470.9,907.2 471.6,903.1 472.3,904.3 473.0,900.3 473.7,902.9 474.4,901.0 475.1,902.9 475.8,898.8 476.5,898.3 477.2,897.2 477.9,901.2 478.6,897.3 479.3,895.0 480.0,895.7 480.7,899.3 481.4,898.0 482.1,897.8 482.8,895.3 483.5,896.5 484.2,893.3 484.9,892.9 485.6,896.3 486.3,896.6 487.0,894.8 487.7,892.3 488.4,893.2 489.1,893.5 489.8,895.9 490.5,891.7 491.2,891.1 491.9,890.8 492.6,890.2 493.3,891.6 494.0,892.1 494.7,894.9 495.4,891.5 496.1,889.5 496.8,893.7 497.5,890.7 498.2,890.7 498.9,890.2 499.6,891.0 500.3,890.0 501.0,890.2 501.7,888.4 502.4,887.8 503.1,885.2 503.8,884.7 504.5,884.9 505.2,885.4 505.9,883.2 506.6,883.1 507.3,885.8 508.0,884.5 508.7,884.4 509.4,884.4 510.1,883.1 510.8,883.6 511.5,881.4 512.2,880.2 512.9,878.8 513.6,877.5 514.3,876.5 515.0,874.5 515.7,874.2 516.4,872.5 517.1,870.3 517.8,872.0 518.5,872.1 519.2,865.7 519.9,869.0 520.6,865.2 521.3,865.8 522.0,864.7 522.7,865.6 523.4,864.8 524.1,866.2 524.8,865.4 525.5,868.9 526.2,864.7 526.9,864.0 527.6,863.2 528.3,870.4 529.0,861.4 529.7,865.1 530.4,865.8 531.1,863.9 531.8,864.9 532.5,865.7 533.2,864.7 533.9,863.2 534.6,864.7 535.3,863.0 536.0,862.6 536.7,863.2 537.4,860.5 538.1,862.9 538.8,861.7 539.5,858.1 540.2,857.6 540.9,855.2 541.6,854.8 542.3,851.8 543.0,853.0 543.7,853.0 544.4,851.0 545.1,851.6 545.8,848.0 546.5,849.2 547.2,849.5 547.9,849.6 548.6,847.5 549.3,849.5 550.0,848.2 550.7,847.7 551.4,844.7 552.1,845.9 552.8,845.1 553.5,848.4 554.2,845.9 554.9,843.1 555.6,844.6 556.3,844.6 557.0,840.8 557.7,842.6 558.4,846.0 559.1,841.9 559.8,840.9 560.5,844.4 561.2,840.1 561.9,837.6 562.6,837.7 563.3,839.6 564.0,840.1 564.7,840.9 565.4,835.6 566.1,837.9 566.8,836.5 567.5,835.7 568.2,834.8 568.9,837.2 569.6,833.1 570.3,832.0 571.0,831.4 571.7,831.3 572.4,828.8 573.1,829.0 573.8,831.2 574.5,830.0 575.2,830.5 575.9,830.8 576.6,829.5 577.3,828.4 578.0,822.2 578.7,828.0 579.4,827.1 580.1,826.1 580.8,825.5 581.5,824.0 582.2,824.2 582.9,821.5 583.6,823.4 584.3,823.9 585.0,822.7 585.7,824.8 586.4,821.4 587.1,823.0 587.8,821.6 588.5,820.1 589.2,815.2 589.9,818.1 590.6,816.8 591.3,818.5 592.0,815.2 592.7,814.7 593.4,811.7 594.1,810.3 594.8,811.4 595.5,813.9 596.2,807.5 596.9,807.2 597.6,807.3 598.3,807.1 599.0,806.9 599.7,807.2 600.4,804.2 601.1,805.8 601.8,806.8 602.5,804.0 603.2,803.3 603.9,804.7 604.6,806.1 605.3,805.1 606.0,803.1 606.7,802.5 607.4,801.4 608.1,801.6 608.8,803.5 609.5,802.6 610.2,804.6 610.9,801.2 611.6,803.2 612.3,801.8 613.0,798.9 613.7,798.7 614.4,800.9 615.1,799.9 615.8,798.5 616.5,800.8 617.2,797.5 617.9,797.3 618.6,798.1 619.3,794.8 620.0,795.9 620.7,803.8 621.4,792.5 622.1,795.7 622.8,795.4 623.5,793.3 624.2,791.4 624.9,791.6 625.6,790.9 626.3,790.0 627.0,790.2 627.7,788.7 628.4,790.3 629.1,785.5 629.8,786.4 630.5,785.2 631.2,783.3 631.9,787.9 632.6,786.5 633.3,784.6 634.0,784.3 634.7,784.3 635.4,783.4 636.1,783.1 636.8,777.4 637.5,781.1 638.2,775.5 638.9,781.3 639.6,779.7 640.3,777.6 641.0,777.2 641.7,777.2 642.4,774.4 643.1,777.0 643.8,772.8 644.5,776.1 645.2,775.5 645.9,773.6 646.6,773.1 647.3,774.6 648.0,775.3 648.7,771.6 649.4,771.1 650.1,769.5 650.8,772.1 651.5,774.0 652.2,769.6 652.9,769.0 653.6,767.4 654.3,768.0 655.0,767.4 655.7,771.1 656.4,769.3 657.1,766.2 657.8,769.7 658.5,771.9 659.2,771.6 659.9,768.8 660.6,770.7 661.3,767.5 662.0,766.9 662.7,766.3 663.4,765.7 664.1,766.2 664.8,760.8 665.5,762.2 666.2,761.1 666.9,766.4 667.6,761.6 668.3,766.6 669.0,762.9 669.7,754.8 670.4,763.4 671.1,762.5 671.8,757.2 672.5,760.0 673.2,762.9 673.9,758.5 674.6,760.5 675.3,760.2 676.0,762.8 676.7,761.5 677.4,758.4 678.1,755.9 678.8,758.6 679.5,758.3 680.2,758.0 680.9,757.6 681.6,756.0 682.3,760.4 683.0,754.9 683.7,753.5 684.4,754.1 685.1,752.8 685.8,752.3 686.5,754.5 687.2,750.4 687.9,751.0 688.6,752.4 689.3,750.1 690.0,751.6 690.7,752.3 691.4,751.6 692.1,751.0 692.8,748.3 693.5,748.4 694.2,749.7 694.9,748.4 695.6,748.2 696.3,747.8 697.0,746.4 697.7,748.6 698.4,744.9 699.1,749.5 699.8,751.4 700.5,747.1 701.2,745.6 701.9,744.0 702.6,741.8 703.3,741.7 704.0,743.8 704.7,742.3 705.4,738.7 706.1,741.2 706.8,738.6 707.5,737.3 708.2,738.7 708.9,737.6 709.6,737.4 710.3,738.4 711.0,737.5 711.7,739.8 712.4,735.2 713.1,738.5 713.8,733.6 714.5,735.0 715.2,737.1 715.9,737.9 716.6,734.9 717.3,735.5 718.0,733.1 718.7,732.7 719.4,734.1 720.1,737.1 720.8,731.2 721.5,728.9 722.2,726.9 722.9,730.6 723.6,731.9 724.3,730.1 725.0,730.6 725.7,729.1 726.4,732.6 727.1,731.6 727.8,726.7 728.5,727.6 729.2,729.3 729.9,726.6 730.6,721.7 731.3,723.7 732.0,723.4 732.7,714.5 733.4,723.7 734.1,724.8 734.8,721.4 735.5,720.4 736.2,721.4 736.9,722.2 737.6,725.8 738.3,723.3 739.0,719.3 739.7,720.8 740.4,723.7 741.1,718.7 741.8,719.5 742.5,720.0 743.2,718.4 743.9,717.0 744.6,719.0 745.3,718.9 746.0,716.0 746.7,720.3 747.4,715.4 748.1,716.6 748.8,716.2 749.5,715.2 750.2,715.0 750.9,718.2 751.6,716.3 752.3,715.0 753.0,717.7 753.7,716.9 754.4,714.6 755.1,711.3 755.8,712.0 756.5,715.3 757.2,712.3 757.9,717.4 758.6,713.3 759.3,709.9 760.0,711.2 760.7,714.4 761.4,711.8 762.1,712.9 762.8,716.5 763.5,711.2 764.2,713.5 764.9,714.0 765.6,712.0 766.3,707.8 767.0,711.5 767.7,711.7 768.4,711.2 769.1,712.4 769.8,709.4 770.5,708.7 771.2,705.5 771.9,707.1 772.6,710.3 773.3,705.9 774.0,706.1 774.7,703.3 775.4,704.7 776.1,702.5 776.8,704.0 777.5,703.8 778.2,704.0 778.9,699.6 779.6,700.9 780.3,701.9 781.0,695.5 781.7,699.3 782.4,700.3 783.1,699.2 783.8,700.3 784.5,700.9 785.2,699.9 785.9,700.0 786.6,698.3 787.3,699.1 788.0,696.7 788.7,698.6 789.4,698.1 790.1,700.2 790.8,696.0 791.5,698.2 792.2,696.7 792.9,696.4 793.6,700.2 794.3,695.0 795.0,693.6 795.7,695.9 796.4,697.1 797.1,695.6 797.8,695.6 798.5,692.0 799.2,695.5 799.9,692.2 800.6,690.2 801.3,693.1 802.0,688.8 802.7,690.6 803.4,692.8 804.1,688.9 804.8,687.2 805.5,690.3 806.2,689.1 806.9,689.3 807.6,683.3 808.3,680.1 809.0,688.9 809.7,684.5 810.4,685.4 811.1,686.3 811.8,686.7 812.5,685.1 813.2,681.2 813.9,686.7 814.6,684.0 815.3,687.0 816.0,688.0 816.7,683.6 817.4,685.1 818.1,687.5 818.8,687.8 819.5,685.7 820.2,683.2 820.9,685.3 821.6,683.3 822.3,686.8 823.0,684.3 823.7,689.8 824.4,679.9 825.1,682.1 825.8,681.4 826.5,680.8 827.2,679.5 827.9,681.8 828.6,678.8 829.3,683.6 830.0,679.5 830.7,679.8 831.4,678.7 832.1,680.6 832.8,680.4 833.5,678.3 834.2,676.9 834.9,679.4 835.6,678.5 836.3,680.0 837.0,678.8 837.7,679.9 838.4,677.5 839.1,686.4 839.8,679.9 840.5,682.6 841.2,679.9 841.9,679.6 842.6,677.6 843.3,677.0 844.0,675.4 844.7,675.5 845.4,668.6 846.1,676.5 846.8,678.3 847.5,676.6 848.2,678.6 848.9,678.0 849.6,670.3 850.3,677.1 851.0,675.1 851.7,676.2 852.4,674.1 853.1,675.6 853.8,672.8 854.5,672.7 855.2,674.1 855.9,674.4 856.6,672.1 857.3,671.7 858.0,670.6 858.7,669.3 859.4,670.8 860.1,667.5 860.8,673.4 861.5,668.4 862.2,666.0 862.9,662.8 863.6,663.9 864.3,666.6 865.0,664.1 865.7,666.2 866.4,663.2 867.1,661.2 867.8,662.2 868.5,656.8 869.2,662.4 869.9,660.2 870.6,661.9 871.3,658.3 872.0,662.5 872.7,661.1 873.4,659.9 874.1,657.6 874.8,658.2 875.5,659.5 876.2,656.8 876.9,662.0 877.6,659.3 878.3,660.0 879.0,660.5 879.7,655.6 880.4,655.9 881.1,656.1 881.8,656.5 882.5,653.4 883.2,653.3 883.9,657.8 884.6,654.5 885.3,655.4 886.0,655.6 886.7,655.8 887.4,651.2 888.1,653.2 888.8,653.3 889.5,653.7 890.2,650.3 890.9,653.3 891.6,652.7 892.3,652.2 893.0,652.5 893.7,650.9 894.4,652.7 895.1,651.1 895.8,652.1 896.5,650.7 897.2,648.7 897.9,650.4 898.6,650.9 899.3,652.9 900.0,649.9 900.7,646.5 901.4,654.2 902.1,652.2 902.8,654.2 903.5,650.3 904.2,649.8 904.9,653.7 905.6,651.6 906.3,651.4 907.0,651.2 907.7,652.9 908.4,648.7 909.1,651.4 909.8,646.3 910.5,647.7 911.2,651.3 911.9,650.8 912.6,646.6 913.3,648.5 914.0,651.4 914.7,647.5 915.4,649.2 916.1,655.6 916.8,649.0 917.5,646.9 918.2,644.1 918.9,648.1 919.6,645.3 920.3,643.6 921.0,641.9 921.7,637.8 922.4,644.0 923.1,642.2 923.8,638.9 924.5,643.3 925.2,641.1 925.9,637.9 926.6,637.5 927.3,639.8 928.0,639.5 928.7,637.0 929.4,640.1 930.1,638.0 930.8,635.7 931.5,636.9 932.2,636.9 932.9,638.7 933.6,637.2 934.3,631.4 935.0,632.8 935.7,636.5 936.4,630.7 937.1,632.9 937.8,633.0 938.5,636.8 939.2,629.6 939.9,636.5 940.6,635.8 941.3,632.6 942.0,633.6 942.7,634.8 943.4,634.1 944.1,634.3 944.8,635.2 945.5,632.4 946.2,632.1 946.9,632.7 947.6,631.3 948.3,631.2 949.0,634.0 949.7,628.6 950.4,632.9 951.1,630.7 951.8,629.4 952.5,631.2 953.2,631.9 953.9,631.9 954.6,629.5 955.3,632.4 956.0,634.2 956.7,635.5 957.4,634.2 958.1,632.8 958.8,632.6 959.5,629.3 960.2,634.0 960.9,633.0 961.6,635.3 962.3,634.3 963.0,630.8 963.7,634.5 964.4,634.0 965.1,632.9 965.8,630.9 966.5,629.7 967.2,632.5 967.9,628.7 968.6,630.4 969.3,628.9 970.0,625.9 970.7,624.4 971.4,623.3 972.1,625.9 972.8,624.6 973.5,625.6 974.2,625.3 974.9,625.7 975.6,626.2 976.3,621.6 977.0,617.3 977.7,623.4 978.4,623.2 979.1,623.1 979.8,626.0 980.5,625.2 981.2,622.2 981.9,622.3 982.6,624.3 983.3,622.7 984.0,625.4 984.7,620.3 985.4,622.7 986.1,620.3 986.8,616.1 987.5,622.4 988.2,619.2 988.9,621.0 989.6,619.0 990.3,621.5 991.0,617.8 991.7,617.7 992.4,623.3 993.1,621.8 993.8,619.5 994.5,616.3 995.2,619.5 995.9,622.3 996.6,619.8 997.3,617.3 998.0,615.3 998.7,617.0 999.4,615.9 1000.1,613.0 1000.8,613.6 1001.5,615.6 1002.2,612.1 1002.9,614.2 1003.6,615.2 1004.3,614.4 1005.0,609.3 1005.7,609.0 1006.4,609.8 1007.1,608.2 1007.8,611.7 1008.5,606.6 1009.2,609.0 1009.9,612.6 1010.6,611.1 1011.3,609.8 1012.0,611.5 1012.7,610.5 1013.4,612.0 1014.1,612.4 1014.8,608.1 1015.5,613.4 1016.2,620.4 1016.9,610.1 1017.6,610.0 1018.3,609.5 1019.0,609.2 1019.7,610.5 1020.4,608.0 1021.1,609.5 1021.8,610.3 1022.5,607.8 1023.2,607.8 1023.9,607.7 1024.6,606.2 1025.3,605.5 1026.0,603.6 1026.7,604.0 1027.4,603.5 1028.1,603.7 1028.8,604.8 1029.5,598.0 1030.2,598.9 1030.9,598.5 1031.6,597.3 1032.3,592.2 1033.0,599.9 1033.7,600.2 1034.4,596.6 1035.1,595.2 1035.8,598.5 1036.5,597.9 1037.2,595.2 1037.9,597.4 1038.6,594.1 1039.3,598.5 1040.0,595.6 1040.7,596.8 1041.4,594.3 1042.1,595.7 1042.8,595.5 1043.5,596.0 1044.2,593.4 1044.9,593.2 1045.6,594.7 1046.3,596.3 1047.0,593.4 1047.7,593.8 1048.4,597.7 1049.1,595.5 1049.8,589.6 1050.5,590.4 1051.2,591.8 1051.9,592.8 1052.6,588.0 1053.3,587.9 1054.0,591.6 1054.7,586.7 1055.4,589.6 1056.1,589.9 1056.8,581.5 1057.5,589.0 1058.2,588.8 1058.9,587.3 1059.6,591.9 1060.3,589.2 1061.0,590.2 1061.7,593.2 1062.4,590.5 1063.1,587.4 1063.8,591.4 1064.5,589.6 1065.2,590.3 1065.9,587.9 1066.6,588.2 1067.3,588.9 1068.0,584.7 1068.7,583.7 1069.4,587.8 1070.1,585.8 1070.8,588.2 1071.5,585.2 1072.2,585.7 1072.9,587.0 1073.6,586.3 1074.3,585.4 1075.0,588.1 1075.7,585.4 1076.4,589.3 1077.1,586.3 1077.8,587.0 1078.5,585.5 1079.2,585.2 1079.9,584.9 1080.6,584.0 1081.3,582.8 1082.0,583.9 1082.7,583.3 1083.4,581.4 1084.1,581.8 1084.8,582.3 1085.5,581.0 1086.2,580.8 1086.9,578.0 1087.6,577.0 1088.3,575.6 1089.0,568.9 1089.7,574.1 1090.4,573.5 1091.1,574.0 1091.8,574.7 1092.5,571.8 1093.2,571.7 1093.9,571.0 1094.6,572.7 1095.3,568.2 1096.0,571.8 1096.7,570.5 1097.4,571.4 1098.1,570.4 1098.8,564.8 1099.5,571.8 1100.2,571.0 1100.9,572.9 1101.6,571.9 1102.3,571.5 1103.0,569.9 1103.7,570.9 1104.4,565.4 1105.1,567.5 1105.8,566.1 1106.5,569.5 1107.2,568.8 1107.9,570.7 1108.6,567.9 1109.3,566.6 1110.0,565.9 1110.7,565.9 1111.4,563.0 1112.1,565.4 1112.8,563.6 1113.5,563.4 1114.2,561.2 1114.9,563.3 1115.6,560.7 1116.3,562.9 1117.0,561.2 1117.7,560.4 1118.4,557.7 1119.1,559.6 1119.8,560.0 1120.5,559.1 1121.2,558.4 1121.9,560.5 1122.6,560.9 1123.3,558.2 1124.0,563.5 1124.7,560.2 1125.4,559.9 1126.1,556.7 1126.8,557.1 1127.5,555.0 1128.2,557.2 1128.9,557.8 1129.6,558.8 1130.3,555.5 1131.0,555.4 1131.7,558.5 1132.4,556.9 1133.1,558.0 1133.8,557.3 1134.5,555.4 1135.2,556.3 1135.9,551.1 1136.6,558.2 1137.3,548.8 1138.0,553.5 1138.7,555.8 1139.4,560.3 1140.1,558.0 1140.8,552.8 1141.5,553.8 1142.2,557.8 1142.9,555.1 1143.6,557.6 1144.3,557.7 1145.0,558.0 1145.7,561.6 1146.4,559.9 1147.1,560.3 1147.8,559.0 1148.5,564.5 1149.2,559.3 1149.9,556.2 1150.6,558.7 1151.3,555.8 1152.0,556.5 1152.7,556.7 1153.4,555.2 1154.1,554.8 1154.8,554.8 1155.5,558.0 1156.2,551.3 1156.9,556.4 1157.6,551.1 1158.3,552.5 1159.0,552.5 1159.7,554.5 1160.4,553.2 1161.1,549.7 1161.8,549.4 1162.5,551.7 1163.2,554.2 1163.9,551.9 1164.6,549.3 1165.3,549.5 1166.0,552.8 1166.7,548.4 1167.4,550.3 1168.1,551.2 1168.8,558.7 1169.5,546.8 1170.2,551.3 1170.9,550.9 1171.6,549.6 1172.3,544.8 1173.0,547.0 1173.7,547.9 1174.4,548.9 1175.1,545.7 1175.8,546.8 1176.5,548.1 1177.2,545.1 1177.9,544.4 1178.6,544.0 1179.3,542.0 1180.0,542.9 1180.7,542.4 1181.4,544.4 1182.1,540.3 1182.8,538.5 1183.5,540.1 1184.2,539.0 1184.9,540.7 1185.6,538.7 1186.3,535.7 1187.0,539.0 1187.7,531.7 1188.4,539.5 1189.1,540.0 1189.8,541.6 1190.5,537.4 1191.2,541.0 1191.9,538.7 1192.6,538.6 1193.3,538.3 1194.0,537.9 1194.7,538.5 1195.4,538.0 1196.1,540.3 1196.8,542.5 1197.5,538.2 1198.2,543.6 1198.9,542.5 1199.6,538.0 1200.3,540.0 1201.0,540.0 1201.7,541.7 1202.4,537.0 1203.1,540.7 1203.8,531.5 1204.5,535.3 1205.2,536.0 1205.9,534.5 1206.6,533.8 1207.3,533.6 1208.0,528.7 1208.7,532.5 1209.4,531.8 1210.1,529.0 1210.8,533.2 1211.5,536.6 1212.2,536.2 1212.9,535.4 1213.6,532.1 1214.3,534.3 1215.0,531.9 1215.7,530.8 1216.4,532.0 1217.1,534.1 1217.8,532.0 1218.5,531.7 1219.2,532.4 1219.9,528.9 1220.6,534.0 1221.3,535.1 1222.0,535.7 1222.7,541.0 1223.4,531.9 1224.1,532.9 1224.8,530.9 1225.5,532.7 1226.2,536.0 1226.9,531.6 1227.6,534.8 1228.3,535.7 1229.0,530.7 1229.7,536.1 1230.4,530.4 1231.1,531.1 1231.8,535.9 1232.5,533.3 1233.2,533.2 1233.9,531.0 1234.6,529.2 1235.3,525.2 1236.0,528.8 1236.7,531.8 1237.4,528.3 1238.1,532.0 1238.8,532.2 1239.5,530.9 1240.2,530.2 1240.9,530.1 1241.6,530.8 1242.3,527.9 1243.0,533.9 1243.7,530.2 1244.4,530.5 1245.1,529.6 1245.8,529.5 1246.5,530.5 1247.2,532.1 1247.9,528.9 1248.6,530.9 1249.3,526.1 1250.0,527.0 1250.7,527.1 1251.4,526.0 1252.1,527.2 1252.8,523.2 1253.5,527.9 1254.2,526.3 1254.9,523.9 1255.6,522.2 1256.3,524.2 1257.0,519.8 1257.7,523.4 1258.4,529.4 1259.1,526.6 1259.8,522.6 1260.5,525.4 1261.2,523.4 1261.9,518.0 1262.6,519.7 1263.3,521.0 1264.0,524.6 1264.7,525.3 1265.4,521.6 1266.1,521.4 1266.8,521.4 1267.5,515.6 1268.2,522.0 1268.9,522.9 1269.6,515.3 1270.3,517.6 1271.0,518.5 1271.7,519.8 1272.4,522.7 1273.1,522.0 1273.8,518.7 1274.5,521.0 1275.2,517.8 1275.9,518.1 1276.6,518.2 1277.3,518.1 1278.0,516.1 1278.7,524.1 1279.4,517.7 1280.1,516.5 1280.8,517.1 1281.5,514.2 1282.2,516.5 1282.9,511.2 1283.6,512.7 1284.3,515.6 1285.0,513.9 1285.7,513.2 1286.4,513.0 1287.1,514.8 1287.8,516.2 1288.5,512.3 1289.2,514.0 1289.9,514.5 1290.6,510.1 1291.3,505.1 1292.0,513.6 1292.7,514.7 1293.4,510.8 1294.1,508.8 1294.8,514.5 1295.5,514.7 1296.2,510.8 1296.9,513.0 1297.6,514.6 1298.3,508.7 1299.0,509.7 1299.7,510.4 1300.4,512.3 1301.1,508.4 1301.8,508.9 1302.5,512.4 1303.2,512.5 1303.9,512.6 1304.6,506.5 1305.3,511.1 1306.0,508.6 1306.7,511.3 1307.4,510.1 1308.1,513.1 1308.8,509.9 1309.5,510.4 1310.2,511.0 1310.9,509.1 1311.6,510.2 1312.3,508.1 1313.0,507.0 1313.7,505.4 1314.4,507.5 1315.1,508.8 1315.8,507.8 1316.5,503.2 1317.2,507.5 1317.9,507.3 1318.6,506.7 1319.3,507.1 1320.0,507.0 1320.7,508.3 1321.4,507.7 1322.1,507.5 1322.8,503.6 1323.5,500.9 1324.2,504.4 1324.9,498.2 1325.6,501.6 1326.3,497.1 1327.0,498.2 1327.7,501.2 1328.4,498.2 1329.1,502.4 1329.8,501.2 1330.5,499.9 1331.2,501.2 1331.9,501.0 1332.6,499.8 1333.3,497.7 1334.0,499.4 1334.7,496.7 1335.4,497.6 1336.1,498.0 1336.8,496.2 1337.5,496.7 1338.2,497.6 1338.9,497.5 1339.6,499.7 1340.3,497.5 1341.0,493.9 1341.7,492.6 1342.4,491.5 1343.1,488.8 1343.8,494.3 1344.5,493.5 1345.2,495.2 1345.9,490.1 1346.6,490.1 1347.3,490.1 1348.0,495.9 1348.7,495.2 1349.4,491.8 1350.1,491.6 1350.8,492.3 1351.5,488.9 1352.2,492.0 1352.9,489.0 1353.6,490.2 1354.3,490.2 1355.0,489.5 1355.7,485.9 1356.4,481.2 1357.1,486.9 1357.8,484.4 1358.5,482.5 1359.2,484.7 1359.9,485.6 1360.6,486.6 1361.3,487.8 1362.0,486.4 1362.7,484.3 1363.4,487.1 1364.1,486.4 1364.8,486.1 1365.5,483.0 1366.2,481.6 1366.9,481.8 1367.6,477.9 1368.3,477.4 1369.0,481.3 1369.7,478.0 1370.4,476.6 1371.1,476.2 1371.8,478.9 1372.5,475.2 1373.2,479.6 1373.9,476.8 1374.6,472.3 1375.3,475.3 1376.0,474.1 1376.7,476.8 1377.4,476.3 1378.1,474.0 1378.8,474.1 1379.5,476.8 1380.2,475.2 1380.9,478.9 1381.6,475.6 1382.3,478.1 1383.0,468.8 1383.7,477.9 1384.4,476.1 1385.1,477.3 1385.8,479.0 1386.5,476.9 1387.2,472.5 1387.9,472.8 1388.6,476.9 1389.3,475.4 1390.0,474.7 1390.7,478.7 1391.4,476.2 1392.1,477.7 1392.8,477.8 1393.5,476.2 1394.2,477.3 1394.9,475.0 1395.6,477.9 1396.3,477.1 1397.0,483.1 1397.7,478.7 1398.4,476.0 1399.1,475.0 1399.8,476.7 1400.5,476.8 1401.2,477.2 1401.9,477.5 1402.6,472.6 1403.3,472.0 1404.0,474.4 1404.7,471.1 1405.4,474.1 1406.1,470.5 1406.8,473.1 1407.5,471.8 1408.2,471.3 1408.9,470.8 1409.6,472.5 1410.3,473.1 1411.0,472.6 1411.7,471.8 1412.4,470.4 1413.1,469.4 1413.8,471.5 1414.5,473.6 1415.2,474.5 1415.9,475.2 1416.6,475.0 1417.3,475.0 1418.0,471.4 1418.7,471.0 1419.4,471.8 1420.1,470.5 1420.8,467.8 1421.5,466.5 1422.2,469.3 1422.9,457.3 1423.6,465.9 1424.3,460.9 1425.0,465.8 1425.7,460.0 1426.4,464.4 1427.1,460.6 1427.8,459.6 1428.5,458.0 1429.2,456.2 1429.9,454.9 1430.6,460.0 1431.3,454.3 1432.0,454.6 1432.7,452.0 1433.4,453.9 1434.1,454.3 1434.8,453.1 1435.5,456.3 1436.2,455.5 1436.9,455.7 1437.6,458.2 1438.3,459.7 1439.0,456.1 1439.7,453.4 1440.4,457.4 1441.1,453.9 1441.8,454.4 1442.5,453.4 1443.2,456.9 1443.9,453.6 1444.6,453.7 1445.3,458.5 1446.0,454.8 1446.7,453.2 1447.4,456.2 1448.1,457.4 1448.8,452.5 1449.5,452.0 1450.2,456.4 1450.9,454.0 1451.6,446.5 1452.3,451.2 1453.0,450.5 1453.7,444.5 1454.4,451.6 1455.1,450.7 1455.8,450.8 1456.5,455.4 1457.2,448.3 1457.9,449.7 1458.6,451.1 1459.3,447.3 1460.0,447.6 1460.7,447.6 1461.4,452.3 1462.1,456.2 1462.8,449.9 1463.5,447.4 1464.2,446.3 1464.9,449.3 1465.6,450.3 1466.3,444.9 1467.0,445.0 1467.7,447.0 1468.4,444.0 1469.1,443.3 1469.8,442.5 1470.5,445.7 1471.2,440.4 1471.9,447.9 1472.6,447.4 1473.3,446.8 1474.0,444.0 1474.7,442.6 1475.4,444.2 1476.1,439.8 1476.8,446.1 1477.5,439.8 1478.2,443.3 1478.9,441.8 1479.6,436.7 1480.3,439.5 1481.0,437.4 1481.7,438.6 1482.4,440.7 1483.1,441.0 1483.8,439.6 1484.5,440.8 1485.2,439.2 1485.9,441.0 1486.6,440.2 1487.3,437.2 1488.0,437.2 1488.7,439.5 1489.4,437.8 1490.1,435.3 1490.8,442.5 1491.5,439.9 1492.2,439.8 1492.9,437.4 1493.6,438.7 1494.3,440.2 1495.0,438.1 1495.7,434.1 1496.4,435.6 1497.1,436.5 1497.8,435.2 1498.5,437.1 1499.2,434.3 1499.9,436.0 1500.6,437.3 1501.3,435.2 1502.0,436.8 1502.7,430.2 1503.4,432.0 1504.1,434.2 1504.8,434.4 1505.5,432.8 1506.2,432.0 1506.9,432.2 1507.6,428.2 1508.3,432.5 1509.0,425.4 1509.7,425.7 1510.4,425.5 1511.1,427.9 1511.8,425.2 1512.5,427.0 1513.2,425.0 1513.9,423.4 1514.6,424.5 1515.3,426.1 1516.0,429.6 1516.7,427.1 1517.4,424.4 1518.1,426.9 1518.8,425.7 1519.5,425.7 1520.2,421.0 1520.9,425.3 1521.6,422.9 1522.3,427.4 1523.0,427.9 1523.7,425.9 1524.4,428.8 1525.1,425.1 1525.8,425.9 1526.5,421.6 1527.2,422.1 1527.9,423.3 1528.6,419.2 1529.3,421.2 1530.0,409.1 1530.7,418.6 1531.4,419.4 1532.1,421.1 1532.8,422.1 1533.5,415.8 1534.2,418.7 1534.9,418.8 1535.6,418.8 1536.3,418.8 1537.0,420.2 1537.7,421.0 1538.4,414.8 1539.1,415.7 1539.8,417.3 1540.5,413.3 1541.2,416.9 1541.9,415.3 1542.6,417.1 1543.3,414.8 1544.0,415.6 1544.7,422.6 1545.4,416.6 1546.1,424.3 1546.8,415.4 1547.5,415.3 1548.2,411.2 1548.9,414.2 1549.6,412.0 1550.3,407.5 1551.0,407.0 1551.7,413.2 1552.4,414.7 1553.1,411.3 1553.8,409.5 1554.5,409.4 1555.2,414.0 1555.9,407.6 1556.6,412.9 1557.3,413.3 1558.0,408.6 1558.7,409.0 1559.4,410.3 1560.1,409.3 1560.8,412.2 1561.5,410.5 1562.2,408.9 1562.9,411.3 1563.6,411.5 1564.3,407.5 1565.0,407.0 1565.7,410.9 1566.4,412.3 1567.1,411.5 1567.8,410.6 1568.5,408.4 1569.2,409.9 1569.9,408.6 1570.6,408.3 1571.3,407.6 1572.0,410.0 1572.7,409.1 1573.4,404.6 1574.1,409.6 1574.8,406.3 1575.5,408.5 1576.2,408.7 1576.9,409.5 1577.6,407.7 1578.3,408.3 1579.0,407.4 1579.7,407.0 1580.4,405.1 1581.1,409.0 1581.8,413.5 1582.5,407.4 1583.2,406.5 1583.9,407.2 1584.6,407.8 1585.3,404.7 1586.0,406.6 1586.7,406.5 1587.4,402.9 1588.1,402.1 1588.8,404.3 1589.5,405.5 1590.2,402.8 1590.9,403.1 1591.6,401.5 1592.3,405.0 1593.0,400.5 1593.7,402.9 1594.4,407.7 1595.1,400.5 1595.8,399.7 1596.5,396.6 1597.2,396.1 1597.9,403.5 1598.6,399.0 1599.3,397.3 1600.0,397.9 1600.7,396.1 1601.4,403.2 1602.1,397.8 1602.8,400.7 1603.5,402.5 1604.2,400.0 1604.9,391.7 1605.6,398.1 1606.3,401.3 1607.0,395.0 1607.7,396.0 1608.4,396.9 1609.1,394.5 1609.8,396.6 1610.5,394.3 1611.2,393.4 1611.9,395.9 1612.6,394.1 1613.3,395.2 1614.0,396.1 1614.7,393.4 1615.4,401.1 1616.1,395.8 1616.8,393.2 1617.5,396.6 1618.2,395.5 1618.9,393.6 1619.6,390.6 1620.3,395.9 1621.0,392.8 1621.7,394.2 1622.4,391.5 1623.1,395.2 1623.8,393.2 1624.5,394.5 1625.2,394.9 1625.9,392.5 1626.6,391.8 1627.3,393.1 1628.0,391.6 1628.7,392.7 1629.4,397.4 1630.1,395.6 1630.8,394.3 1631.5,388.3 1632.2,395.6 1632.9,394.0 1633.6,392.6 1634.3,392.3 1635.0,392.2 1635.7,395.4 1636.4,388.8 1637.1,389.8 1637.8,388.0 1638.5,395.2 1639.2,394.9 1639.9,392.0 1640.6,390.2 1641.3,390.3 1642.0,389.9 1642.7,388.2 1643.4,387.1 1644.1,390.9 1644.8,383.7 1645.5,387.9 1646.2,385.3 1646.9,387.2 1647.6,380.2 1648.3,385.7 1649.0,387.8 1649.7,386.8 1650.4,385.5 1651.1,381.6 1651.8,383.8 1652.5,383.1 1653.2,383.7 1653.9,386.5 1654.6,384.6 1655.3,382.6 1656.0,384.4 1656.7,384.3 1657.4,384.1 1658.1,382.0 1658.8,378.1 1659.5,379.9 1660.2,382.3 1660.9,383.7 1661.6,377.4 1662.3,379.2 1663.0,378.3 1663.7,380.1 1664.4,381.3 1665.1,378.5 1665.8,381.5 1666.5,389.3 1667.2,376.1 1667.9,380.5 1668.6,385.8 1669.3,380.4 1670.0,381.1 1670.7,380.7 1671.4,374.3 1672.1,374.7 1672.8,378.5 1673.5,381.8 1674.2,374.7 1674.9,376.6 1675.6,377.8 1676.3,375.5 1677.0,376.0 1677.7,376.1 1678.4,377.6 1679.1,375.2 1679.8,375.1 1680.5,378.7 1681.2,377.2 1681.9,373.7 1682.6,372.1 1683.3,374.7 1684.0,376.0 1684.7,374.0 1685.4,371.3 1686.1,371.2 1686.8,372.0 1687.5,373.8 1688.2,374.4 1688.9,375.2 1689.6,370.6 1690.3,369.8 1691.0,367.4 1691.7,369.3 1692.4,376.5 1693.1,370.3 1693.8,370.3 1694.5,370.6 1695.2,368.9 1695.9,366.0 1696.6,369.9 1697.3,370.5 1698.0,367.7 1698.7,376.6 1699.4,364.2 1700.1,366.0 1700.8,368.4 1701.5,368.4 1702.2,366.9 1702.9,369.5 1703.6,370.9 1704.3,369.5 1705.0,369.0 1705.7,370.8 1706.4,363.6 1707.1,365.9 1707.8,365.7 1708.5,365.8 1709.2,366.5 1709.9,366.6 1710.6,366.4 1711.3,364.4 1712.0,364.4 1712.7,365.5 1713.4,366.8 1714.1,366.7 1714.8,367.3 1715.5,361.4 1716.2,365.1 1716.9,364.0 1717.6,370.9 1718.3,366.1 1719.0,366.6 1719.7,364.3 1720.4,363.4 1721.1,364.1 1721.8,364.1 1722.5,363.7 1723.2,361.9 1723.9,371.9 1724.6,364.1 1725.3,364.2 1726.0,362.2 1726.7,361.1 1727.4,358.5 1728.1,360.6 1728.8,357.8 1729.5,356.9 1730.2,361.3 1730.9,356.5 1731.6,357.9 1732.3,358.6 1733.0,360.5 1733.7,360.2 1734.4,359.3 1735.1,362.2 1735.8,364.5 1736.5,360.5 1737.2,356.8 1737.9,362.5 1738.6,364.6 1739.3,360.1 1740.0,364.7 1740.7,360.8 1741.4,357.4 1742.1,358.9 1742.8,357.3 1743.5,357.7 1744.2,354.5 1744.9,359.0 1745.6,358.3 1746.3,359.8 1747.0,357.8 1747.7,358.6 1748.4,361.4 1749.1,349.8 1749.8,356.6 1750.5,357.9 1751.2,356.5 1751.9,359.9 1752.6,348.7 1753.3,361.5 1754.0,360.0 1754.7,353.3 1755.4,359.6 1756.1,356.5 1756.8,356.5 1757.5,358.4 1758.2,358.4 1758.9,363.1 1759.6,356.6 1760.3,354.5 1761.0,356.6 1761.7,358.3 1762.4,354.5 1763.1,356.3 1763.8,354.4 1764.5,355.1 1765.2,356.9 1765.9,359.6 1766.6,355.0 1767.3,354.3 1768.0,355.6 1768.7,353.5 1769.4,354.3 1770.1,353.2 1770.8,359.5 1771.5,355.2 1772.2,354.9 1772.9,354.6 1773.6,358.3 1774.3,352.1 1775.0,348.0 1775.7,350.3 1776.4,358.0 1777.1,357.4 1777.8,355.7 1778.5,360.6 1779.2,362.8 1779.9,359.5 1780.6,359.0 1781.3,355.9 1782.0,353.7 1782.7,352.7 1783.4,358.0 1784.1,352.0 1784.8,355.0 1785.5,356.7 1786.2,355.5 1786.9,351.7 1787.6,352.2 1788.3,351.9 1789.0,351.7 1789.7,352.8 1790.4,351.4 1791.1,355.3 1791.8,354.7 1792.5,358.9 1793.2,353.6 1793.9,354.3 1794.6,348.6 1795.3,355.8 1796.0,354.9 1796.7,351.5 1797.4,350.8 1798.1,350.8 1798.8,351.5 1799.5,344.4 1800.2,346.5 1800.9,353.0 1801.6,348.9 1802.3,347.0 1803.0,345.1 1803.7,345.8 1804.4,345.5 1805.1,345.2 1805.8,340.2 1806.5,334.8 1807.2,343.6 1807.9,343.3 1808.6,339.8 1809.3,342.6 1810.0,341.5 1810.7,344.1 1811.4,346.1 1812.1,347.1 1812.8,347.3 1813.5,347.5 1814.2,345.6 1814.9,342.2 1815.6,348.2 1816.3,343.9 1817.0,342.0 1817.7,344.4 1818.4,347.0 1819.1,348.3 1819.8,344.8 1820.5,341.0 1821.2,343.7 1821.9,341.5 1822.6,344.7 1823.3,341.1 1824.0,346.3 1824.7,343.4 1825.4,344.0 1826.1,341.1 1826.8,347.7 1827.5,341.6 1828.2,344.5 1828.9,339.4 1829.6,339.5 1830.3,336.3 1831.0,342.6 1831.7,340.2 1832.4,343.5 1833.1,337.3 1833.8,343.9 1834.5,331.1 1835.2,339.8 1835.9,341.9 1836.6,338.4 1837.3,337.8 1838.0,343.6 1838.7,336.2 1839.4,340.7 1840.1,343.5 1840.8,340.8 1841.5,343.8 1842.2,339.1 1842.9,339.1 1843.6,342.6 1844.3,342.2 1845.0,339.3 1845.7,342.5 1846.4,336.7 1847.1,342.0 1847.8,338.2 1848.5,339.5 1849.2,341.0 1849.9,340.1 1850.6,340.3 1851.3,341.6 1852.0,341.9 1852.7,338.1 1853.4,337.1 1854.1,334.1 1854.8,339.6 1855.5,336.6 1856.2,333.0 1856.9,334.0 1857.6,336.5 1858.3,332.0 1859.0,333.6 1859.7,332.5 1860.4,331.4 1861.1,330.2 1861.8,326.8 1862.5,334.4 1863.2,325.2 1863.9,332.2 1864.6,328.4 1865.3,336.9 1866.0,333.6 1866.7,328.0 1867.4,331.7 1868.1,332.1 1868.8,330.0 1869.5,329.1 1870.2,329.4 1870.9,330.9 1871.6,334.3 1872.3,336.0 1873.0,335.0 1873.7,331.0 1874.4,324.5 1875.1,329.9 1875.8,332.3 1876.5,326.2 1877.2,328.8 1877.9,328.1 1878.6,324.7 1879.3,326.7 1880.0,325.3 1880.7,331.5 1881.4,328.4 1882.1,327.6 1882.8,329.8 1883.5,329.7 1884.2,326.9 1884.9,325.4 1885.6,324.9 1886.3,325.8 1887.0,330.2 1887.7,331.4 1888.4,333.6 1889.1,327.2 1889.8,330.3 1890.5,333.1 1891.2,335.2 1891.9,329.6 1892.6,329.3 1893.3,328.6 1894.0,330.4 1894.7,330.9 1895.4,331.6 1896.1,321.1 1896.8,332.2 1897.5,325.8 1898.2,329.3 1898.9,330.5 1899.6,329.8 1900.3,327.3 1901.0,325.5 1901.7,326.2 1902.4,323.6 1903.1,323.8 1903.8,331.1 1904.5,327.8" fill="none" stroke="#00ff00" stroke-width="4.2" stroke-linejoin="round" />
<polyline points="262.3,1345.0 262.5,1340.9 262.6,1336.8 262.8,1332.7 263.0,1328.6 263.1,1324.5 263.3,1320.5 263.4,1316.4 263.6,1312.3 263.8,1308.2 263.9,1304.1 264.1,1300.0 264.6,1295.8 264.4,1291.7" fill="none" stroke="#00ffff" stroke-width="2.2" stroke-linejoin="round" />
<polyline points="265.2,1266.5 265.4,1262.2 265.0,1257.9 265.6,1253.5 266.9,1249.2 267.5,1244.9 270.7,1215.6 271.4,1214.3 272.1,1211.4 272.8,1203.3 273.5,1216.3 274.2,1207.0 274.9,1193.4 275.6,1191.5 276.3,1200.5 277.0,1193.6 277.7,1185.0 278.4,1190.4 279.1,1190.2 279.8,1190.0 280.5,1185.0 281.2,1184.8 281.9,1185.7 282.6,1184.1 283.3,1180.3 284.0,1177.9 284.7,1181.4 285.4,1177.8 286.1,1178.0 286.8,1176.7 287.5,1175.3 288.2,1161.3 288.9,1181.1 289.6,1178.8 290.3,1163.2 291.0,1163.3 291.7,1170.9 292.4,1158.9 293.1,1170.8 293.8,1160.2 294.5,1161.5 295.2,1154.0 295.9,1151.8 296.6,1148.4 297.3,1156.0 298.0,1158.0 298.7,1155.0 299.4,1146.1 300.1,1154.5 300.8,1150.3 301.5,1138.7 302.2,1134.9 302.9,1147.6 303.6,1140.0 304.3,1138.9 305.0,1141.3 305.7,1139.0 306.4,1143.6 307.1,1140.7 307.8,1136.1 308.5,1138.7 309.2,1139.2 309.9,1134.0 310.6,1137.5 311.3,1130.4 312.0,1132.4 312.7,1134.6 313.4,1127.5 314.1,1125.6 314.8,1130.2 315.5,1123.9 316.2,1119.9 316.9,1122.2 317.6,1124.0 318.3,1117.6 319.0,1118.4 319.7,1107.4 320.4,1116.8 321.1,1103.4 321.8,1109.4 322.5,1107.4 323.2,1109.4 323.9,1101.4 324.6,1099.4 325.3,1094.7 326.0,1099.7 326.7,1093.9 327.4,1093.9 328.1,1093.2 328.8,1094.4 329.5,1096.9 330.2,1093.7 330.9,1095.6 331.6,1093.0 332.3,1091.7 333.0,1086.1 333.7,1088.1 334.4,1085.1" fill="none" stroke="#00ffff" stroke-width="5.6" stroke-linejoin="round" />
<polyline points="264.6,1295.8 264.4,1291.7 264.2,1287.5 264.9,1283.3 265.3,1279.1 265.2,1275.0 264.4,1270.8 265.2,1266.5 265.4,1262.2 265.0,1257.9 265.6,1253.5 266.9,1249.2 267.5,1244.9 270.7,1215.6 271.4,1214.3 272.1,1211.4 272.8,1203.3 273.5,1216.3 274.2,1207.0 274.9,1193.4 275.6,1191.5 276.3,1200.5 277.0,1193.6 277.7,1185.0 278.4,1190.4 279.1,1190.2 279.8,1190.0 280.5,1185.0 281.2,1184.8 281.9,1185.7 282.6,1184.1 283.3,1180.3 284.0,1177.9 284.7,1181.4 285.4,1177.8 286.1,1178.0 286.8,1176.7 287.5,1175.3 288.2,1161.3 288.9,1181.1 289.6,1178.8 290.3,1163.2 291.0,1163.3 291.7,1170.9 292.4,1158.9 293.1,1170.8 293.8,1160.2 294.5,1161.5 295.2,1154.0 295.9,1151.8 296.6,1148.4 297.3,1156.0 298.0,1158.0 298.7,1155.0 299.4,1146.1 300.1,1154.5 300.8,1150.3 301.5,1138.7 302.2,1134.9 302.9,1147.6 303.6,1140.0 304.3,1138.9 305.0,1141.3 305.7,1139.0 306.4,1143.6 307.1,1140.7 307.8,1136.1 308.5,1138.7 309.2,1139.2 309.9,1134.0 310.6,1137.5 311.3,1130.4 312.0,1132.4 312.7,1134.6 313.4,1127.5 314.1,1125.6 314.8,1130.2 315.5,1123.9 316.2,1119.9 316.9,1122.2 317.6,1124.0 318.3,1117.6 319.0,1118.4 319.7,1107.4 320.4,1116.8 321.1,1103.4 321.8,1109.4 322.5,1107.4 323.2,1109.4 323.9,1101.4 324.6,1099.4 325.3,1094.7 326.0,1099.7 326.7,1093.9 327.4,1093.9 328.1,1093.2 328.8,1094.4 329.5,1096.9 330.2,1093.7 330.9,1095.6 331.6,1093.0 332.3,1091.7 333.0,1086.1 333.7,1088.1 334.4,1085.1 335.1,1083.4 335.8,1083.3 336.5,1086.2 337.2,1083.4 337.9,1079.5 338.6,1085.6 339.3,1077.5 340.0,1082.2 340.7,1078.7 341.4,1086.6 342.1,1074.5 342.8,1081.3 343.5,1084.2 344.2,1080.4 344.9,1076.9 345.6,1075.4 346.3,1074.2 347.0,1072.1 347.7,1068.5 348.4,1068.3 349.1,1067.1 349.8,1064.6 350.5,1064.4 351.2,1059.9 351.9,1055.4 352.6,1058.2 353.3,1057.0 354.0,1057.4 354.7,1052.2 355.4,1053.1 356.1,1050.4 356.8,1050.2 357.5,1043.3 358.2,1046.9 358.9,1046.1 359.6,1043.7 360.3,1041.2 361.0,1040.7 361.7,1039.0 362.4,1038.2 363.1,1032.0 363.8,1034.0 364.5,1033.7 365.2,1030.4 365.9,1030.5 366.6,1026.8 367.3,1025.9 368.0,1027.9 368.7,1024.5 369.4,1024.2 370.1,1022.1 370.8,1012.7 371.5,1020.0 372.2,1019.8 372.9,1015.1 373.6,1015.6 374.3,1012.1 375.0,1008.7 375.7,1006.5 376.4,1009.9 377.1,1003.9 377.8,1001.4 378.5,1006.8 379.2,1001.5 379.9,1010.1 380.6,1002.5 381.3,1000.0 382.0,997.5 382.7,997.8 383.4,996.8 384.1,994.9 384.8,993.5 385.5,993.1 386.2,992.6 386.9,988.0 387.6,992.4 388.3,990.2 389.0,986.2 389.7,988.7 390.4,988.1 391.1,986.8 391.8,984.6 392.5,983.8 393.2,984.0 393.9,982.0 394.6,981.6 395.3,983.9 396.0,982.9 396.7,977.0 397.4,977.2 398.1,974.8 398.8,975.3 399.5,974.5 400.2,974.6 400.9,972.8 401.6,973.8 402.3,971.1 403.0,969.6 403.7,970.7 404.4,967.5 405.1,966.0 405.8,964.9 406.5,963.4 407.2,967.2 407.9,967.9 408.6,969.2 409.3,968.6 410.0,967.0 410.7,968.1 411.4,966.8 412.1,965.8 412.8,968.6 413.5,968.4 414.2,969.0 414.9,968.3 415.6,966.3 416.3,970.1 417.0,967.1 417.7,967.4 418.4,962.3 419.1,963.2 419.8,964.6 420.5,962.9 421.2,961.5 421.9,960.5 422.6,958.3 423.3,957.8 424.0,957.7 424.7,957.4 425.4,956.5 426.1,958.5 426.8,954.8 427.5,953.4 428.2,956.9 428.9,952.9 429.6,949.6 430.3,950.7 431.0,945.8 431.7,947.1 432.4,947.9 433.1,945.6 433.8,944.8 434.5,944.0 435.2,942.8 435.9,942.3 436.6,942.3 437.3,942.9 438.0,943.8 438.7,944.0 439.4,945.2 440.1,946.5 440.8,942.7 441.5,945.7 442.2,941.3 442.9,944.0 443.6,944.1 444.3,946.5 445.0,946.2 445.7,945.2 446.4,943.2 447.1,945.7 447.8,939.7 448.5,940.7 449.2,941.9 449.9,941.1 450.6,942.5 451.3,940.6 452.0,937.8 452.7,929.9 453.4,932.9 454.1,934.1 454.8,933.2 455.5,929.7 456.2,929.5 456.9,929.6 457.6,928.2 458.3,928.3 459.0,927.0 459.7,927.7 460.4,924.9 461.1,924.7 461.8,922.0 462.5,924.9 463.2,919.3 463.9,924.1 464.6,920.2 465.3,919.4 466.0,917.6 466.7,916.7 467.4,917.4 468.1,913.9 468.8,915.5 469.5,913.2 470.2,915.9 470.9,912.0 471.6,917.9 472.3,914.1 473.0,911.1 473.7,910.7 474.4,914.9 475.1,913.1 475.8,910.5 476.5,911.6 477.2,911.2 477.9,905.8 478.6,907.2 479.3,905.8 480.0,904.9 480.7,902.9 481.4,903.6 482.1,902.5 482.8,902.2 483.5,898.5 484.2,897.5 484.9,898.3 485.6,898.2 486.3,895.4 487.0,898.1 487.7,893.6 488.4,895.7 489.1,895.9 489.8,893.1 490.5,893.6 491.2,893.5 491.9,890.2 492.6,888.3 493.3,886.6 494.0,888.1 494.7,890.1 495.4,888.2 496.1,888.7 496.8,890.0 497.5,888.4 498.2,887.5 498.9,887.5 499.6,887.1 500.3,885.0 501.0,885.7 501.7,884.3 502.4,888.1 503.1,886.6 503.8,883.2 504.5,887.6 505.2,884.1 505.9,881.7 506.6,888.5 507.3,879.0 508.0,876.6 508.7,873.9 509.4,873.7 510.1,874.1 510.8,870.5 511.5,868.0 512.2,869.1 512.9,873.1 513.6,867.9 514.3,865.1 515.0,865.8 515.7,866.0 516.4,860.3 517.1,860.8 517.8,861.1 518.5,858.5 519.2,858.2 519.9,857.6 520.6,857.8 521.3,855.0 522.0,854.9 522.7,854.1 523.4,852.4 524.1,851.6 524.8,852.9 525.5,851.2 526.2,851.4 526.9,849.2 527.6,849.4 528.3,846.1 529.0,843.6 529.7,846.8 530.4,845.6 531.1,849.2 531.8,847.7 532.5,843.9 533.2,848.4 533.9,850.1 534.6,846.7 535.3,845.3 536.0,847.7 536.7,844.4 537.4,847.5 538.1,841.3 538.8,842.0 539.5,838.9 540.2,843.1 540.9,842.0 541.6,840.7 542.3,839.3 543.0,838.2 543.7,835.4 544.4,832.3 545.1,835.4 545.8,836.7 546.5,838.0 547.2,833.4 547.9,834.6 548.6,835.4 549.3,835.8 550.0,833.9 550.7,834.1 551.4,830.9 552.1,831.1 552.8,830.8 553.5,830.4 554.2,830.6 554.9,833.5 555.6,827.3 556.3,827.5 557.0,826.8 557.7,826.8 558.4,824.0 559.1,825.5 559.8,823.1 560.5,823.2 561.2,821.2 561.9,820.9 562.6,823.7 563.3,819.3 564.0,820.4 564.7,819.0 565.4,817.0 566.1,816.5 566.8,819.2 567.5,817.1 568.2,814.4 568.9,814.1 569.6,815.0 570.3,815.0 571.0,814.6 571.7,814.8 572.4,812.4 573.1,811.9 573.8,811.9 574.5,813.5 575.2,811.1 575.9,810.0 576.6,810.2 577.3,805.2 578.0,806.6 578.7,808.3 579.4,807.3 580.1,802.7 580.8,800.1 581.5,803.0 582.2,798.8 582.9,802.3 583.6,800.4 584.3,798.7 585.0,799.0 585.7,802.8 586.4,797.5 587.1,798.6 587.8,795.8 588.5,792.5 589.2,794.0 589.9,795.7 590.6,796.2 591.3,797.4 592.0,794.3 592.7,793.9 593.4,796.0 594.1,793.5 594.8,794.5 595.5,793.2 596.2,794.3 596.9,792.0 597.6,792.0 598.3,792.6 599.0,794.0 599.7,790.6 600.4,789.1 601.1,793.3 601.8,791.5 602.5,793.4 603.2,789.6 603.9,791.9 604.6,791.3 605.3,794.3 606.0,790.9 606.7,792.5 607.4,791.1 608.1,788.5 608.8,797.9 609.5,789.2 610.2,787.9 610.9,785.8 611.6,784.8 612.3,786.3 613.0,784.2 613.7,784.7 614.4,783.7 615.1,784.6 615.8,783.9 616.5,781.0 617.2,781.7 617.9,784.1 618.6,776.6 619.3,781.2 620.0,781.6 620.7,781.1 621.4,778.4 622.1,778.0 622.8,779.5 623.5,778.6 624.2,776.7 624.9,775.4 625.6,771.8 626.3,771.6 627.0,770.7 627.7,772.1 628.4,769.7 629.1,769.2 629.8,773.1 630.5,774.0 631.2,773.5 631.9,771.2 632.6,773.0 633.3,773.0 634.0,770.3 634.7,771.4 635.4,769.7 636.1,772.3 636.8,773.4 637.5,769.1 638.2,771.5 638.9,771.4 639.6,769.2 640.3,768.3 641.0,769.6 641.7,770.1 642.4,772.6 643.1,770.1 643.8,767.9 644.5,766.2 645.2,769.3 645.9,765.0 646.6,764.4 647.3,765.5 648.0,766.9 648.7,762.5 649.4,763.1 650.1,762.0 650.8,760.7 651.5,758.8 652.2,763.5 652.9,760.3 653.6,749.6 654.3,766.0 655.0,757.6 655.7,756.2 656.4,754.7 657.1,754.2 657.8,756.0 658.5,754.3 659.2,754.1 659.9,755.5 660.6,757.8 661.3,750.5 662.0,756.9 662.7,755.4 663.4,759.2 664.1,754.4 664.8,749.2 665.5,754.8 666.2,753.5 666.9,752.8 667.6,751.0 668.3,753.5 669.0,749.6 669.7,748.7 670.4,749.3 671.1,753.1 671.8,751.6 672.5,751.1 673.2,749.6 673.9,750.1 674.6,746.9 675.3,744.6 676.0,750.1 676.7,746.2 677.4,744.2 678.1,749.8 678.8,746.6 679.5,746.9 680.2,747.4 680.9,745.0 681.6,747.4 682.3,744.8 683.0,749.0 683.7,743.8 684.4,744.0 685.1,744.8 685.8,740.1 686.5,742.7 687.2,743.0 687.9,740.5 688.6,739.5 689.3,737.8 690.0,739.3 690.7,739.1 691.4,736.9 692.1,735.7 692.8,737.7 693.5,737.5 694.2,736.4 694.9,738.6 695.6,736.8 696.3,734.9 697.0,737.9 697.7,733.2 698.4,732.2 699.1,735.5 699.8,735.4 700.5,734.6 701.2,731.4 701.9,730.9 702.6,733.8 703.3,732.5 704.0,731.4 704.7,732.2 705.4,731.4 706.1,730.1 706.8,732.5 707.5,733.3 708.2,729.0 708.9,727.9 709.6,731.2 710.3,728.9 711.0,726.0 711.7,728.5 712.4,725.8 713.1,729.4 713.8,726.7 714.5,727.1 715.2,722.7 715.9,726.0 716.6,722.0 717.3,722.2 718.0,723.2 718.7,726.0 719.4,722.8 720.1,722.5 720.8,719.1 721.5,722.1 722.2,721.2 722.9,718.1 723.6,717.4 724.3,720.1 725.0,720.2 725.7,722.5 726.4,720.9 727.1,719.7 727.8,721.5 728.5,723.6 729.2,721.9 729.9,718.5 730.6,718.5 731.3,719.6 732.0,720.0 732.7,719.2 733.4,719.6 734.1,706.7 734.8,712.8 735.5,717.7 736.2,716.6 736.9,716.4 737.6,712.3 738.3,711.4 739.0,713.8 739.7,714.3 740.4,711.9 741.1,712.3 741.8,710.3 742.5,709.4 743.2,712.1 743.9,706.6 744.6,708.2 745.3,708.7 746.0,706.1 746.7,707.7 747.4,705.8 748.1,705.9 748.8,706.5 749.5,705.9 750.2,704.4 750.9,705.4 751.6,703.4 752.3,701.4 753.0,700.6 753.7,700.1 754.4,701.5 755.1,703.5 755.8,699.0 756.5,700.7 757.2,699.2 757.9,701.1 758.6,700.1 759.3,698.7 760.0,697.7 760.7,696.8 761.4,695.4 762.1,693.3 762.8,697.2 763.5,695.5 764.2,694.7 764.9,692.5 765.6,691.6 766.3,691.0 767.0,694.7 767.7,691.7 768.4,691.6 769.1,691.5 769.8,691.2 770.5,691.1 771.2,688.6 771.9,686.8 772.6,689.3 773.3,692.8 774.0,688.3 774.7,689.3 775.4,688.6 776.1,688.5 776.8,689.2 777.5,688.8 778.2,688.2 778.9,687.4 779.6,688.8 780.3,687.4 781.0,688.5 781.7,685.4 782.4,684.3 783.1,682.2 783.8,683.2 784.5,682.8 785.2,683.2 785.9,683.4 786.6,683.5 787.3,680.3 788.0,679.6 788.7,681.9 789.4,680.3 790.1,685.2 790.8,682.4 791.5,681.6 792.2,682.6 792.9,684.2 793.6,680.4 794.3,680.1 795.0,679.7 795.7,672.3 796.4,680.1 797.1,676.1 797.8,678.7 798.5,675.4 799.2,674.2 799.9,676.6 800.6,673.8 801.3,674.4 802.0,673.4 802.7,674.4 803.4,675.1 804.1,670.8 804.8,672.0 805.5,670.6 806.2,671.7 806.9,670.5 807.6,668.8 808.3,665.5 809.0,667.7 809.7,662.3 810.4,664.9 811.1,669.2 811.8,668.7 812.5,670.9 813.2,667.3 813.9,668.1 814.6,669.4 815.3,662.2 816.0,665.2 816.7,663.6 817.4,662.2 818.1,661.4 818.8,660.3 819.5,659.5 820.2,659.4 820.9,658.8 821.6,658.4 822.3,659.2 823.0,658.4 823.7,658.3 824.4,659.5 825.1,658.3 825.8,661.6 826.5,648.5 827.2,659.0 827.9,654.8 828.6,658.5 829.3,651.3 830.0,657.0 830.7,653.0 831.4,655.5 832.1,653.7 832.8,655.6 833.5,654.5 834.2,658.8 834.9,651.4 835.6,650.3 836.3,651.9 837.0,651.8 837.7,651.8 838.4,651.4 839.1,651.2 839.8,650.3 840.5,648.2 841.2,652.4 841.9,651.8 842.6,650.3 843.3,647.7 844.0,650.3 844.7,648.3 845.4,647.4 846.1,648.6 846.8,645.8 847.5,649.4 848.2,643.7 848.9,648.4 849.6,651.2 850.3,647.8 851.0,644.9 851.7,645.3 852.4,648.9 853.1,646.3 853.8,645.8 854.5,643.5 855.2,650.4 855.9,645.3 856.6,645.0 857.3,649.2 858.0,650.3 858.7,650.8 859.4,647.9 860.1,652.5 860.8,652.6 861.5,650.5 862.2,647.8 862.9,650.5 863.6,652.9 864.3,649.4 865.0,646.6 865.7,645.0 866.4,646.3 867.1,644.6 867.8,642.8 868.5,645.6 869.2,641.9 869.9,639.9 870.6,643.0 871.3,640.6 872.0,643.7 872.7,642.8 873.4,638.5 874.1,640.2 874.8,638.6 875.5,641.0 876.2,640.7 876.9,641.0 877.6,637.4 878.3,634.8 879.0,636.0 879.7,643.5 880.4,640.6 881.1,635.0 881.8,635.4 882.5,632.7 883.2,631.5 883.9,633.5 884.6,629.3 885.3,630.5 886.0,631.5 886.7,626.4 887.4,633.5 888.1,627.2 888.8,626.4 889.5,629.1 890.2,626.4 890.9,625.3 891.6,624.9 892.3,622.4 893.0,624.5 893.7,626.9 894.4,626.0 895.1,618.9 895.8,622.4 896.5,625.3 897.2,622.6 897.9,622.5 898.6,621.2 899.3,624.9 900.0,623.8 900.7,620.7 901.4,622.3 902.1,619.5 902.8,622.5 903.5,621.5 904.2,617.8 904.9,618.8 905.6,619.8 906.3,618.6 907.0,619.5 907.7,622.0 908.4,620.6 909.1,620.2 909.8,620.8 910.5,622.3 911.2,618.9 911.9,622.0 912.6,621.5 913.3,615.3 914.0,616.6 914.7,618.2 915.4,619.0 916.1,617.3 916.8,617.9 917.5,612.6 918.2,614.8 918.9,615.5 919.6,623.8 920.3,614.4 921.0,611.4 921.7,611.6 922.4,609.8 923.1,608.0 923.8,612.2 924.5,609.0 925.2,607.6 925.9,605.7 926.6,604.6 927.3,601.9 928.0,608.1 928.7,603.4 929.4,604.8 930.1,601.5 930.8,605.2 931.5,605.6 932.2,599.6 932.9,605.8 933.6,605.9 934.3,602.9 935.0,608.7 935.7,606.8 936.4,607.3 937.1,606.4 937.8,608.0 938.5,607.7 939.2,608.5 939.9,608.1 940.6,607.8 941.3,608.8 942.0,612.7 942.7,607.8 943.4,610.2 944.1,607.8 944.8,608.7 945.5,609.0 946.2,609.4 946.9,609.6 947.6,611.9 948.3,606.3 949.0,605.5 949.7,607.7 950.4,603.9 951.1,605.1 951.8,603.7 952.5,604.4 953.2,599.8 953.9,601.9 954.6,599.8 955.3,599.7 956.0,602.2 956.7,599.9 957.4,596.4 958.1,595.4 958.8,598.4 959.5,599.0 960.2,599.4 960.9,599.4 961.6,595.7 962.3,596.3 963.0,596.8 963.7,599.5 964.4,599.9 965.1,595.3 965.8,594.7 966.5,595.0 967.2,597.2 967.9,595.7 968.6,591.9 969.3,598.2 970.0,592.2 970.7,594.7 971.4,594.9 972.1,593.0 972.8,595.9 973.5,595.2 974.2,598.6 974.9,595.1 975.6,594.3 976.3,592.9 977.0,591.1 977.7,595.7 978.4,590.9 979.1,591.9 979.8,591.8 980.5,587.2 981.2,590.9 981.9,589.3 982.6,589.3 983.3,587.8 984.0,589.5 984.7,592.5 985.4,588.8 986.1,589.1 986.8,590.3 987.5,591.2 988.2,588.3 988.9,590.2 989.6,589.8 990.3,585.2 991.0,590.5 991.7,589.1 992.4,587.5 993.1,587.5 993.8,588.8 994.5,590.6 995.2,588.8 995.9,583.0 996.6,587.3 997.3,587.8 998.0,588.0 998.7,587.3 999.4,586.4 1000.1,585.1 1000.8,586.3 1001.5,584.0 1002.2,584.1 1002.9,588.0 1003.6,583.3 1004.3,581.7 1005.0,585.0 1005.7,581.4 1006.4,579.8 1007.1,581.7 1007.8,578.1 1008.5,581.1 1009.2,577.3 1009.9,577.4 1010.6,579.9 1011.3,579.2 1012.0,580.6 1012.7,577.1 1013.4,577.8 1014.1,581.2 1014.8,578.7 1015.5,578.7 1016.2,577.2 1016.9,577.2 1017.6,583.1 1018.3,577.2 1019.0,577.2 1019.7,578.7 1020.4,582.0 1021.1,578.4 1021.8,579.6 1022.5,579.4 1023.2,580.0 1023.9,579.5 1024.6,582.5 1025.3,580.3 1026.0,579.6 1026.7,582.7 1027.4,572.2 1028.1,579.9 1028.8,581.6 1029.5,581.5 1030.2,581.7 1030.9,582.4 1031.6,582.4 1032.3,585.0 1033.0,581.7 1033.7,578.4 1034.4,583.6 1035.1,580.7 1035.8,578.9 1036.5,577.7 1037.2,576.4 1037.9,579.6 1038.6,578.3 1039.3,577.3 1040.0,579.4 1040.7,581.3 1041.4,578.3 1042.1,579.2 1042.8,583.5 1043.5,579.6 1044.2,577.9 1044.9,577.4 1045.6,576.4 1046.3,581.4 1047.0,575.3 1047.7,575.5 1048.4,576.0 1049.1,577.2 1049.8,575.3 1050.5,577.5 1051.2,576.0 1051.9,576.8 1052.6,574.7 1053.3,575.7 1054.0,574.9 1054.7,573.1 1055.4,573.2 1056.1,573.3 1056.8,576.1 1057.5,572.1 1058.2,571.8 1058.9,570.6 1059.6,570.8 1060.3,568.2 1061.0,570.3 1061.7,560.6 1062.4,569.2 1063.1,568.1 1063.8,568.7 1064.5,564.3 1065.2,569.1 1065.9,569.5 1066.6,569.7 1067.3,570.7 1068.0,571.3 1068.7,562.7 1069.4,566.8 1070.1,568.6 1070.8,566.2 1071.5,567.9 1072.2,566.7 1072.9,562.5 1073.6,566.7 1074.3,565.1 1075.0,569.7 1075.7,565.5 1076.4,562.7 1077.1,565.2 1077.8,560.4 1078.5,562.3 1079.2,563.4 1079.9,562.2 1080.6,565.4 1081.3,559.8 1082.0,560.5 1082.7,557.2 1083.4,561.6 1084.1,558.6 1084.8,559.2 1085.5,557.3 1086.2,562.2 1086.9,558.5 1087.6,558.9 1088.3,555.6 1089.0,557.2 1089.7,560.5 1090.4,562.0 1091.1,561.4 1091.8,557.0 1092.5,555.4 1093.2,559.7 1093.9,558.3 1094.6,554.8 1095.3,559.9 1096.0,557.9 1096.7,552.5 1097.4,558.6 1098.1,553.1 1098.8,552.7 1099.5,553.5 1100.2,560.1 1100.9,551.8 1101.6,553.5 1102.3,553.7 1103.0,555.6 1103.7,553.4 1104.4,550.9 1105.1,553.9 1105.8,552.4 1106.5,553.5 1107.2,550.0 1107.9,553.7 1108.6,548.6 1109.3,542.3 1110.0,551.7 1110.7,555.0 1111.4,551.7 1112.1,541.3 1112.8,546.0 1113.5,552.9 1114.2,548.8 1114.9,549.2 1115.6,547.6 1116.3,548.1 1117.0,546.8 1117.7,546.4 1118.4,551.2 1119.1,544.8 1119.8,546.6 1120.5,545.2 1121.2,545.2 1121.9,543.0 1122.6,544.0 1123.3,543.0 1124.0,541.0 1124.7,538.4 1125.4,541.4 1126.1,545.5 1126.8,536.9 1127.5,541.0 1128.2,540.8 1128.9,539.6 1129.6,541.1 1130.3,532.1 1131.0,541.7 1131.7,540.1 1132.4,543.2 1133.1,545.5 1133.8,539.6 1134.5,543.5 1135.2,547.7 1135.9,545.5 1136.6,545.3 1137.3,545.0 1138.0,545.2 1138.7,546.4 1139.4,544.8 1140.1,545.9 1140.8,544.6 1141.5,545.4 1142.2,547.6 1142.9,541.5 1143.6,544.3 1144.3,540.4 1145.0,541.9 1145.7,539.7 1146.4,545.3 1147.1,541.4 1147.8,540.6 1148.5,538.4 1149.2,539.2 1149.9,534.2 1150.6,537.3 1151.3,541.3 1152.0,538.1 1152.7,536.3 1153.4,536.1 1154.1,537.6 1154.8,536.5 1155.5,536.0 1156.2,535.5 1156.9,533.1 1157.6,533.1 1158.3,536.1 1159.0,531.6 1159.7,535.6 1160.4,533.8 1161.1,532.5 1161.8,528.3 1162.5,530.8 1163.2,532.1 1163.9,528.7 1164.6,527.2 1165.3,531.9 1166.0,529.9 1166.7,528.7 1167.4,530.6 1168.1,525.0 1168.8,527.6 1169.5,529.2 1170.2,527.5 1170.9,525.8 1171.6,529.3 1172.3,523.2 1173.0,525.7 1173.7,525.0 1174.4,523.3 1175.1,525.8 1175.8,522.4 1176.5,519.9 1177.2,522.4 1177.9,529.0 1178.6,525.8 1179.3,527.4 1180.0,521.4 1180.7,528.0 1181.4,527.6 1182.1,523.4 1182.8,529.4 1183.5,527.8 1184.2,527.8 1184.9,524.8 1185.6,526.4 1186.3,525.9 1187.0,526.3 1187.7,522.0 1188.4,525.4 1189.1,525.1 1189.8,524.3 1190.5,525.4 1191.2,520.1 1191.9,523.7 1192.6,523.8 1193.3,522.9 1194.0,521.7 1194.7,523.7 1195.4,521.4 1196.1,523.5 1196.8,522.4 1197.5,522.9 1198.2,521.9 1198.9,519.5 1199.6,519.5 1200.3,519.5 1201.0,509.4 1201.7,517.3 1202.4,518.3 1203.1,517.3 1203.8,516.5 1204.5,515.6 1205.2,517.6 1205.9,515.8 1206.6,513.5 1207.3,517.3 1208.0,517.1 1208.7,516.4 1209.4,516.0 1210.1,517.3 1210.8,515.5 1211.5,511.0 1212.2,512.1 1212.9,512.6 1213.6,513.5 1214.3,513.1 1215.0,513.3 1215.7,514.3 1216.4,515.1 1217.1,521.9 1217.8,513.5 1218.5,509.7 1219.2,511.0 1219.9,510.8 1220.6,503.9 1221.3,512.0 1222.0,511.8 1222.7,509.4 1223.4,508.8 1224.1,510.6 1224.8,511.6 1225.5,514.4 1226.2,508.9 1226.9,508.6 1227.6,507.7 1228.3,512.1 1229.0,508.7 1229.7,513.0 1230.4,508.6 1231.1,507.4 1231.8,506.6 1232.5,510.5 1233.2,505.4 1233.9,506.9 1234.6,505.1 1235.3,507.3 1236.0,504.4 1236.7,507.1 1237.4,508.7 1238.1,503.2 1238.8,505.6 1239.5,506.3 1240.2,507.0 1240.9,502.6 1241.6,511.0 1242.3,501.4 1243.0,504.8 1243.7,504.8 1244.4,503.2 1245.1,504.1 1245.8,503.2 1246.5,504.2 1247.2,499.3 1247.9,502.9 1248.6,505.6 1249.3,503.7 1250.0,503.9 1250.7,504.7 1251.4,501.0 1252.1,502.7 1252.8,500.9 1253.5,499.9 1254.2,502.5 1254.9,501.6 1255.6,503.6 1256.3,496.4 1257.0,500.1 1257.7,505.9 1258.4,495.9 1259.1,504.8 1259.8,499.5 1260.5,503.4 1261.2,500.7 1261.9,499.9 1262.6,501.8 1263.3,504.3 1264.0,503.7 1264.7,501.9 1265.4,504.9 1266.1,512.0 1266.8,503.2 1267.5,502.4 1268.2,511.3 1268.9,500.9 1269.6,499.5 1270.3,504.7 1271.0,504.6 1271.7,501.5 1272.4,503.3 1273.1,501.6 1273.8,501.7 1274.5,497.6 1275.2,498.1 1275.9,493.1 1276.6,495.7 1277.3,499.0 1278.0,490.0 1278.7,492.4 1279.4,493.2 1280.1,487.9 1280.8,490.0 1281.5,485.7 1282.2,487.6 1282.9,479.2 1283.6,484.0 1284.3,480.0 1285.0,480.3 1285.7,487.9 1286.4,486.2 1287.1,488.2 1287.8,488.8 1288.5,484.7 1289.2,484.0 1289.9,481.6 1290.6,484.2 1291.3,481.7 1292.0,480.4 1292.7,480.6 1293.4,486.0 1294.1,479.2 1294.8,480.9 1295.5,479.3 1296.2,477.9 1296.9,480.6 1297.6,479.5 1298.3,475.9 1299.0,481.5 1299.7,476.3 1300.4,478.2 1301.1,478.8 1301.8,477.7 1302.5,481.4 1303.2,477.1 1303.9,474.9 1304.6,478.5 1305.3,476.8 1306.0,479.2 1306.7,479.9 1307.4,478.7 1308.1,480.1 1308.8,477.3 1309.5,479.7 1310.2,478.9 1310.9,476.3 1311.6,475.2 1312.3,479.9 1313.0,478.2 1313.7,479.6 1314.4,478.6 1315.1,477.4 1315.8,478.1 1316.5,479.3 1317.2,480.8 1317.9,479.8 1318.6,477.2 1319.3,478.1 1320.0,475.1 1320.7,484.2 1321.4,473.1 1322.1,474.8 1322.8,471.5 1323.5,472.6 1324.2,472.8 1324.9,479.7 1325.6,472.2 1326.3,470.6 1327.0,474.0 1327.7,472.9 1328.4,470.8 1329.1,480.6 1329.8,470.1 1330.5,472.1 1331.2,470.9 1331.9,470.8 1332.6,471.8 1333.3,470.8 1334.0,469.1 1334.7,464.8 1335.4,468.6 1336.1,466.5 1336.8,465.9 1337.5,461.9 1338.2,461.4 1338.9,467.9 1339.6,461.1 1340.3,465.7 1341.0,461.8 1341.7,462.2 1342.4,465.2 1343.1,457.2 1343.8,462.1 1344.5,460.1 1345.2,460.4 1345.9,454.9 1346.6,458.3 1347.3,459.3 1348.0,459.6 1348.7,459.6 1349.4,457.8 1350.1,456.7 1350.8,458.1 1351.5,457.1 1352.2,454.7 1352.9,455.9 1353.6,456.3 1354.3,454.8 1355.0,451.9 1355.7,454.9 1356.4,454.8 1357.1,451.4 1357.8,452.9 1358.5,454.1 1359.2,451.1 1359.9,452.9 1360.6,454.8 1361.3,450.1 1362.0,446.7 1362.7,446.7 1363.4,453.1 1364.1,454.7 1364.8,449.9 1365.5,448.6 1366.2,446.5 1366.9,442.7 1367.6,451.2 1368.3,447.1 1369.0,448.3 1369.7,448.2 1370.4,448.0 1371.1,446.9 1371.8,448.5 1372.5,442.5 1373.2,443.4 1373.9,440.3 1374.6,444.9 1375.3,444.4 1376.0,441.3 1376.7,438.3 1377.4,428.4 1378.1,433.2 1378.8,436.1 1379.5,434.4 1380.2,431.0 1380.9,432.0 1381.6,431.6 1382.3,429.1 1383.0,428.4 1383.7,429.8 1384.4,428.9 1385.1,429.1 1385.8,424.3 1386.5,432.4 1387.2,430.3 1387.9,432.8 1388.6,428.8 1389.3,431.6 1390.0,428.2 1390.7,429.6 1391.4,432.4 1392.1,430.3 1392.8,428.1 1393.5,426.9 1394.2,428.8 1394.9,429.0 1395.6,426.0 1396.3,428.9 1397.0,428.1 1397.7,431.8 1398.4,425.5 1399.1,427.6 1399.8,423.9 1400.5,426.8 1401.2,428.9 1401.9,423.3 1402.6,424.9 1403.3,427.7 1404.0,422.8 1404.7,415.9 1405.4,422.4 1406.1,425.8 1406.8,427.1 1407.5,424.2 1408.2,420.9 1408.9,425.6 1409.6,423.1 1410.3,423.4 1411.0,424.7 1411.7,424.5 1412.4,424.5 1413.1,425.8 1413.8,425.5 1414.5,432.3 1415.2,432.6 1415.9,429.5 1416.6,431.8 1417.3,434.6 1418.0,422.9 1418.7,434.4 1419.4,437.8 1420.1,432.7 1420.8,438.2 1421.5,439.1 1422.2,436.0 1422.9,433.1 1423.6,436.7 1424.3,440.9 1425.0,438.4 1425.7,436.4 1426.4,437.8 1427.1,442.3 1427.8,445.4 1428.5,447.5 1429.2,438.1 1429.9,443.5 1430.6,443.6 1431.3,441.2 1432.0,441.1 1432.7,436.9 1433.4,440.5 1434.1,437.2 1434.8,440.3 1435.5,439.5 1436.2,435.9 1436.9,427.2 1437.6,432.8 1438.3,433.1 1439.0,436.1 1439.7,436.0 1440.4,437.5 1441.1,431.4 1441.8,433.3 1442.5,435.7 1443.2,432.4 1443.9,431.2 1444.6,431.2 1445.3,431.3 1446.0,430.9 1446.7,432.6 1447.4,432.2 1448.1,433.1 1448.8,429.9 1449.5,438.0 1450.2,438.0 1450.9,428.5 1451.6,428.2 1452.3,425.0 1453.0,425.3 1453.7,428.7 1454.4,426.1 1455.1,424.7 1455.8,422.9 1456.5,421.8 1457.2,421.7 1457.9,421.4 1458.6,420.9 1459.3,422.7 1460.0,424.3 1460.7,420.6 1461.4,424.5 1462.1,421.0 1462.8,423.9 1463.5,423.0 1464.2,422.5 1464.9,419.6 1465.6,421.3 1466.3,419.0 1467.0,419.3 1467.7,422.6 1468.4,418.7 1469.1,418.6 1469.8,418.2 1470.5,419.0 1471.2,419.0 1471.9,415.8 1472.6,414.9 1473.3,416.6 1474.0,413.9 1474.7,415.0 1475.4,415.4 1476.1,417.5 1476.8,412.0 1477.5,414.0 1478.2,417.9 1478.9,412.6 1479.6,416.2 1480.3,417.5 1481.0,414.3 1481.7,412.0 1482.4,416.5 1483.1,416.8 1483.8,414.0 1484.5,411.4 1485.2,413.1 1485.9,417.1 1486.6,414.5 1487.3,415.2 1488.0,413.6 1488.7,418.5 1489.4,416.1 1490.1,410.0 1490.8,416.3 1491.5,416.3 1492.2,412.5 1492.9,416.3 1493.6,417.6 1494.3,412.5 1495.0,416.0 1495.7,415.7 1496.4,412.7 1497.1,414.3 1497.8,412.7 1498.5,414.3 1499.2,415.5 1499.9,412.0 1500.6,414.2 1501.3,414.4 1502.0,410.6 1502.7,415.5 1503.4,414.2 1504.1,414.8 1504.8,416.5 1505.5,418.5 1506.2,414.9 1506.9,416.6 1507.6,416.3 1508.3,416.4 1509.0,410.7 1509.7,417.1 1510.4,417.3 1511.1,418.8 1511.8,414.9 1512.5,417.5 1513.2,419.0 1513.9,423.7 1514.6,414.3 1515.3,413.3 1516.0,418.0 1516.7,419.5 1517.4,415.5 1518.1,418.5 1518.8,415.6 1519.5,415.3 1520.2,418.0 1520.9,416.8 1521.6,416.8 1522.3,416.5 1523.0,418.0 1523.7,415.6 1524.4,414.9 1525.1,413.9 1525.8,415.2 1526.5,415.4 1527.2,418.6 1527.9,418.4 1528.6,418.1 1529.3,412.0 1530.0,413.4 1530.7,412.2 1531.4,414.6 1532.1,415.6 1532.8,414.5 1533.5,410.8 1534.2,410.3 1534.9,418.4 1535.6,409.5 1536.3,411.2 1537.0,408.6 1537.7,409.0 1538.4,406.4 1539.1,408.0 1539.8,404.4 1540.5,402.4 1541.2,405.3 1541.9,405.5 1542.6,405.2 1543.3,408.4 1544.0,408.7 1544.7,407.5 1545.4,400.6 1546.1,405.5 1546.8,410.0 1547.5,405.0 1548.2,406.6 1548.9,408.3 1549.6,408.8 1550.3,406.6 1551.0,406.8 1551.7,409.3 1552.4,410.7 1553.1,409.2 1553.8,408.6 1554.5,406.5 1555.2,402.4 1555.9,406.7 1556.6,405.4 1557.3,398.9 1558.0,403.3 1558.7,405.0 1559.4,400.9 1560.1,402.7 1560.8,401.1 1561.5,403.0 1562.2,402.9 1562.9,412.0 1563.6,403.0 1564.3,407.1 1565.0,405.7 1565.7,405.4 1566.4,400.4 1567.1,404.6 1567.8,404.3 1568.5,404.6 1569.2,402.6 1569.9,401.4 1570.6,400.5 1571.3,403.9 1572.0,402.1 1572.7,405.4 1573.4,408.2 1574.1,407.2 1574.8,402.9 1575.5,402.4 1576.2,406.9 1576.9,405.4 1577.6,405.4 1578.3,405.6 1579.0,403.8 1579.7,412.3 1580.4,406.7 1581.1,407.5 1581.8,410.0 1582.5,409.2 1583.2,408.3 1583.9,403.5 1584.6,408.0 1585.3,408.3 1586.0,411.3 1586.7,406.7 1587.4,407.0 1588.1,407.5 1588.8,410.3 1589.5,405.7 1590.2,404.6 1590.9,410.2 1591.6,404.0 1592.3,406.4 1593.0,403.7 1593.7,405.1 1594.4,402.6 1595.1,402.7 1595.8,401.9 1596.5,403.2 1597.2,401.6 1597.9,403.9 1598.6,399.7 1599.3,405.1 1600.0,396.8 1600.7,400.7 1601.4,401.3 1602.1,400.9 1602.8,399.4 1603.5,400.0 1604.2,399.5 1604.9,403.0 1605.6,400.3 1606.3,403.3 1607.0,404.5 1607.7,401.5 1608.4,401.6 1609.1,400.6 1609.8,403.3 1610.5,398.0 1611.2,402.4 1611.9,404.1 1612.6,401.9 1613.3,401.0 1614.0,401.3 1614.7,399.5 1615.4,406.2 1616.1,400.4 1616.8,397.7 1617.5,400.3 1618.2,399.9 1618.9,398.3 1619.6,401.3 1620.3,396.0 1621.0,398.1 1621.7,401.3 1622.4,400.3 1623.1,396.0 1623.8,399.8 1624.5,396.2 1625.2,396.1 1625.9,394.8 1626.6,386.2 1627.3,393.2 1628.0,397.3 1628.7,391.3 1629.4,392.6 1630.1,393.1 1630.8,395.5 1631.5,392.8 1632.2,395.5 1632.9,397.7 1633.6,393.4 1634.3,395.3 1635.0,390.0 1635.7,396.1 1636.4,391.9 1637.1,389.7 1637.8,395.2 1638.5,390.4 1639.2,388.7 1639.9,390.3 1640.6,387.6 1641.3,390.4 1642.0,391.5 1642.7,393.3 1643.4,389.5 1644.1,391.8 1644.8,392.6 1645.5,396.6 1646.2,394.9 1646.9,393.5 1647.6,394.1 1648.3,394.7 1649.0,390.3 1649.7,395.7 1650.4,394.6 1651.1,387.2 1651.8,388.8 1652.5,389.3 1653.2,392.5 1653.9,399.8 1654.6,390.7 1655.3,387.3 1656.0,388.2 1656.7,388.8 1657.4,391.6 1658.1,391.8 1658.8,387.8 1659.5,387.4 1660.2,389.6 1660.9,387.7 1661.6,389.5 1662.3,389.4 1663.0,389.5 1663.7,388.3 1664.4,387.9 1665.1,389.8 1665.8,389.2 1666.5,389.6 1667.2,388.2 1667.9,383.7 1668.6,387.4 1669.3,390.6 1670.0,387.3 1670.7,386.2 1671.4,389.5 1672.1,386.5 1672.8,388.9 1673.5,390.9 1674.2,386.1 1674.9,388.2 1675.6,389.1 1676.3,389.7 1677.0,385.0 1677.7,385.1 1678.4,385.0 1679.1,377.8 1679.8,383.8 1680.5,383.1 1681.2,379.5 1681.9,384.3 1682.6,384.6 1683.3,382.4 1684.0,383.6 1684.7,385.6 1685.4,383.3 1686.1,381.1 1686.8,387.9 1687.5,386.1 1688.2,388.5 1688.9,387.3 1689.6,389.8 1690.3,386.7 1691.0,388.1 1691.7,390.5 1692.4,391.1 1693.1,384.7 1693.8,386.3 1694.5,385.2 1695.2,386.5 1695.9,386.4 1696.6,385.8 1697.3,388.4 1698.0,390.3 1698.7,390.6 1699.4,387.9 1700.1,387.1 1700.8,381.3 1701.5,386.1 1702.2,383.5 1702.9,384.1 1703.6,386.5 1704.3,382.5 1705.0,385.7 1705.7,385.0 1706.4,379.1 1707.1,380.6 1707.8,390.2 1708.5,382.2 1709.2,384.6 1709.9,378.7 1710.6,378.7 1711.3,382.1 1712.0,379.1 1712.7,380.6 1713.4,381.0 1714.1,380.4 1714.8,375.6 1715.5,385.3 1716.2,381.4 1716.9,380.1 1717.6,378.4 1718.3,380.3 1719.0,379.1 1719.7,379.6 1720.4,380.4 1721.1,378.2 1721.8,379.5 1722.5,376.8 1723.2,378.8 1723.9,381.6 1724.6,376.7 1725.3,379.1 1726.0,377.0 1726.7,375.9 1727.4,376.0 1728.1,380.6 1728.8,380.9 1729.5,376.4 1730.2,372.3 1730.9,374.2 1731.6,372.5 1732.3,377.8 1733.0,373.1 1733.7,375.3 1734.4,375.6 1735.1,375.4 1735.8,375.5 1736.5,373.8 1737.2,374.3 1737.9,374.0 1738.6,373.4 1739.3,371.2 1740.0,372.3 1740.7,375.4 1741.4,370.4 1742.1,371.3 1742.8,373.0 1743.5,375.1 1744.2,370.1 1744.9,374.8 1745.6,371.0 1746.3,370.8 1747.0,372.4 1747.7,373.3 1748.4,372.1 1749.1,369.0 1749.8,372.2 1750.5,377.0 1751.2,372.2 1751.9,378.0 1752.6,375.1 1753.3,373.0 1754.0,371.8 1754.7,372.9 1755.4,374.5 1756.1,373.7 1756.8,373.5 1757.5,373.3 1758.2,372.1 1758.9,374.9 1759.6,373.4 1760.3,372.7 1761.0,372.8 1761.7,372.4 1762.4,371.5 1763.1,373.8 1763.8,374.2 1764.5,371.8 1765.2,376.0 1765.9,373.8 1766.6,369.9 1767.3,370.7 1768.0,371.7 1768.7,369.6 1769.4,370.7 1770.1,372.7 1770.8,370.7 1771.5,368.7 1772.2,371.6 1772.9,369.9 1773.6,370.2 1774.3,373.1 1775.0,371.9 1775.7,368.5 1776.4,374.6 1777.1,367.8 1777.8,374.1 1778.5,367.9 1779.2,364.7 1779.9,366.1 1780.6,367.4 1781.3,365.0 1782.0,366.1 1782.7,369.9 1783.4,367.1 1784.1,369.5 1784.8,371.2 1785.5,370.1 1786.2,362.0 1786.9,365.5 1787.6,361.6 1788.3,366.4 1789.0,367.5 1789.7,364.1 1790.4,364.3 1791.1,363.1 1791.8,366.1 1792.5,363.6 1793.2,363.7 1793.9,363.7 1794.6,366.1 1795.3,365.9 1796.0,364.0 1796.7,360.3 1797.4,362.6 1798.1,360.1 1798.8,363.6 1799.5,359.7 1800.2,362.8 1800.9,360.3 1801.6,354.1 1802.3,359.6 1803.0,362.3 1803.7,359.3 1804.4,359.8 1805.1,360.3 1805.8,363.1 1806.5,358.0 1807.2,356.7 1807.9,358.9 1808.6,357.3 1809.3,359.9 1810.0,353.5 1810.7,359.7 1811.4,357.1 1812.1,355.6 1812.8,357.2 1813.5,357.1 1814.2,353.8 1814.9,354.3 1815.6,353.2 1816.3,356.6 1817.0,362.9 1817.7,357.1 1818.4,353.1 1819.1,349.5 1819.8,355.5 1820.5,357.4 1821.2,355.8 1821.9,354.0 1822.6,352.9 1823.3,355.7 1824.0,352.5 1824.7,352.7 1825.4,354.5 1826.1,348.0 1826.8,351.9 1827.5,352.3 1828.2,349.9 1828.9,350.2 1829.6,349.4 1830.3,352.1 1831.0,347.0 1831.7,347.6 1832.4,349.1 1833.1,347.1 1833.8,348.0 1834.5,343.4 1835.2,352.0 1835.9,348.3 1836.6,349.9 1837.3,347.9 1838.0,353.3 1838.7,336.9 1839.4,346.4 1840.1,350.3 1840.8,342.2 1841.5,345.1 1842.2,347.2 1842.9,341.7 1843.6,343.9 1844.3,347.6 1845.0,342.4 1845.7,349.5 1846.4,342.3 1847.1,340.9 1847.8,345.0 1848.5,344.4 1849.2,345.6 1849.9,341.6 1850.6,338.1 1851.3,342.7 1852.0,344.5 1852.7,342.4 1853.4,337.9 1854.1,345.1 1854.8,340.2 1855.5,338.6 1856.2,340.0 1856.9,341.0 1857.6,342.0 1858.3,340.1 1859.0,339.8 1859.7,341.6 1860.4,340.4 1861.1,341.4 1861.8,340.6 1862.5,341.0 1863.2,339.1 1863.9,343.4 1864.6,339.8 1865.3,343.0 1866.0,337.5 1866.7,343.6 1867.4,340.9 1868.1,339.9 1868.8,339.8 1869.5,337.8 1870.2,337.8 1870.9,340.3 1871.6,338.4 1872.3,338.5 1873.0,340.5 1873.7,338.1 1874.4,336.4 1875.1,340.7 1875.8,341.6 1876.5,342.1 1877.2,342.5 1877.9,336.9 1878.6,342.1 1879.3,343.4 1880.0,338.9 1880.7,339.6 1881.4,338.9 1882.1,340.7 1882.8,337.8 1883.5,338.8 1884.2,334.6 1884.9,333.4 1885.6,329.9 1886.3,334.5 1887.0,335.2 1887.7,336.3 1888.4,337.2 1889.1,336.0 1889.8,335.0 1890.5,337.5 1891.2,336.2 1891.9,340.2 1892.6,329.7 1893.3,335.1 1894.0,336.0 1894.7,335.6 1895.4,333.7 1896.1,334.0 1896.8,331.1 1897.5,336.3 1898.2,332.2 1898.9,332.0 1899.6,331.4 1900.3,333.5 1901.0,330.9 1901.7,329.9 1902.4,329.6 1903.1,331.5 1903.8,326.9 1904.5,328.3 1905.2,333.2 1905.9,331.5 1906.6,327.7 1907.3,328.0 1908.0,328.2 1908.7,328.1 1909.4,328.6 1910.1,327.9 1910.8,326.0 1911.5,323.6 1912.2,327.0 1912.9,331.9 1913.6,332.5 1914.3,328.2 1915.0,326.9 1915.7,327.7 1916.4,324.3 1917.1,324.8 1917.8,329.9 1918.5,331.3 1919.2,328.3 1919.9,323.5 1920.6,324.2 1921.3,326.1 1922.0,325.7 1922.7,324.7 1923.4,323.4 1924.1,325.0 1924.8,323.5 1925.5,328.0 1926.2,325.0 1926.9,320.6 1927.6,324.5 1928.3,321.0 1929.0,323.6 1929.7,322.0 1930.4,320.4 1931.1,319.5 1931.8,317.2 1932.5,321.4 1933.2,322.9 1933.9,325.3 1934.6,322.8 1935.3,315.4 1936.0,319.8 1936.7,319.5 1937.4,317.6 1938.1,317.8 1938.8,320.4 1939.5,322.6 1940.2,320.3 1940.9,322.0 1941.6,317.3 1942.3,318.2 1943.0,317.7 1943.7,321.0 1944.4,318.4 1945.1,313.1 1945.8,318.1 1946.5,315.5 1947.2,314.9 1947.9,318.6 1948.6,315.8 1949.3,317.6 1950.0,313.0 1950.7,320.5 1951.4,319.8 1952.1,317.5 1952.8,319.4 1953.5,321.4 1954.2,315.6 1954.9,319.6 1955.6,318.4 1956.3,313.8 1957.0,322.7 1957.7,317.6 1958.4,322.6 1959.1,323.0 1959.8,320.7 1960.5,324.1 1961.2,322.4 1961.9,320.7 1962.6,320.3" fill="none" stroke="#00ffff" stroke-width="4.2" stroke-linejoin="round" />

<polyline points="262.0,1215.0 262.2,1210.6 262.8,1206.2 263.3,1201.9 262.9,1197.5 263.6,1193.1 263.3,1188.8 263.9,1184.4 264.0,1180.0 263.4,1176.0 263.5,1172.0 264.7,1168.0 264.7,1164.0 265.1,1159.9 265.8,1155.9 266.4,1151.9 269.1,1130.3 269.8,1129.9 270.5,1128.7 271.2,1124.3 271.9,1119.6 272.6,1126.5 273.3,1115.7 274.0,1116.4 274.7,1118.0 275.4,1112.9 276.1,1112.1 276.8,1110.4 277.5,1105.3 278.2,1108.3 278.9,1105.6 279.6,1109.7 280.3,1104.3 281.0,1106.0 281.7,1102.0 282.4,1099.2 283.1,1101.0 283.8,1103.1 284.5,1101.9 285.2,1101.7 285.9,1104.5 286.6,1100.1 287.3,1101.5 288.0,1099.4 288.7,1098.3 289.4,1094.0 290.1,1094.0 290.8,1094.9 291.5,1095.0 292.2,1094.0 292.9,1082.9 293.6,1089.8 294.3,1088.7 295.0,1087.1 295.7,1084.0 296.4,1083.6 297.1,1082.6 297.8,1076.5 298.5,1073.8 299.2,1075.8 299.9,1072.0 300.6,1076.9 301.3,1069.4 302.0,1070.0 302.7,1068.0 303.4,1071.8 304.1,1067.9 304.8,1069.2 305.5,1063.3 306.2,1063.1 306.9,1064.0 307.6,1062.1 308.3,1060.2 309.0,1062.4 309.7,1058.5 310.4,1058.3 311.1,1057.6 311.8,1057.0 312.5,1059.5 313.2,1057.7 313.9,1055.7 314.6,1056.5 315.3,1053.2 316.0,1048.2 316.7,1052.0 317.4,1050.6 318.1,1049.6 318.8,1052.2 319.5,1053.4 320.2,1051.6 320.9,1047.0 321.6,1053.7 322.3,1055.3 323.0,1052.9 323.7,1052.0 324.4,1050.5 325.1,1052.5 325.8,1051.3 326.5,1048.2 327.2,1049.4 327.9,1045.9 328.6,1040.9 329.3,1045.5 330.0,1047.0 330.7,1041.3 331.4,1043.5 332.1,1043.1 332.8,1044.7 333.5,1036.4 334.2,1044.5 334.9,1033.8 335.6,1036.3 336.3,1035.0 337.0,1030.9 337.7,1029.1 338.4,1028.1 339.1,1030.1 339.8,1025.1 340.5,1028.1 341.2,1022.3 341.9,1028.1 342.6,1026.9 343.3,1027.4 344.0,1025.3 344.7,1027.1 345.4,1021.4 346.1,1025.3 346.8,1023.3 347.5,1023.1 348.2,1023.1 348.9,1018.3 349.6,1020.8 350.3,1024.8 351.0,1022.2 351.7,1014.6 352.4,1011.7 353.1,1013.2 353.8,1014.3 354.5,1016.3 355.2,1013.2 355.9,1012.3 356.6,1014.1 357.3,1007.5 358.0,1010.6 358.7,1003.8 359.4,1005.3 360.1,1000.6 360.8,1011.0 361.5,1005.4 362.2,1003.0 362.9,1002.2 363.6,1004.9 364.3,1001.5 365.0,1003.4 365.7,1001.5 366.4,1000.8 367.1,997.5 367.8,997.6 368.5,1001.8 369.2,997.1 369.9,995.5 370.6,1003.4 371.3,990.1 372.0,992.6 372.7,994.5 373.4,991.2 374.1,993.0 374.8,996.2 375.5,994.2 376.2,994.4 376.9,988.1 377.6,988.9 378.3,990.0 379.0,986.1 379.7,986.6" fill="none" stroke="#000000" stroke-width="6.0" stroke-linejoin="round" />
<polyline points="262.0,1215.0 262.2,1210.6 262.8,1206.2 263.3,1201.9 262.9,1197.5 263.6,1193.1 263.3,1188.8 263.9,1184.4 264.0,1180.0 263.4,1176.0 263.5,1172.0 264.7,1168.0 264.7,1164.0 265.1,1159.9 265.8,1155.9 266.4,1151.9 269.1,1130.3 269.8,1129.9 270.5,1128.7 271.2,1124.3 271.9,1119.6 272.6,1126.5 273.3,1115.7 274.0,1116.4 274.7,1118.0 275.4,1112.9 276.1,1112.1 276.8,1110.4 277.5,1105.3 278.2,1108.3 278.9,1105.6 279.6,1109.7 280.3,1104.3 281.0,1106.0 281.7,1102.0 282.4,1099.2 283.1,1101.0 283.8,1103.1 284.5,1101.9 285.2,1101.7 285.9,1104.5 286.6,1100.1 287.3,1101.5 288.0,1099.4 288.7,1098.3 289.4,1094.0 290.1,1094.0 290.8,1094.9 291.5,1095.0 292.2,1094.0 292.9,1082.9 293.6,1089.8 294.3,1088.7 295.0,1087.1 295.7,1084.0 296.4,1083.6 297.1,1082.6 297.8,1076.5 298.5,1073.8 299.2,1075.8 299.9,1072.0 300.6,1076.9 301.3,1069.4 302.0,1070.0 302.7,1068.0 303.4,1071.8 304.1,1067.9 304.8,1069.2 305.5,1063.3 306.2,1063.1 306.9,1064.0 307.6,1062.1 308.3,1060.2 309.0,1062.4 309.7,1058.5 310.4,1058.3 311.1,1057.6 311.8,1057.0 312.5,1059.5 313.2,1057.7 313.9,1055.7 314.6,1056.5 315.3,1053.2 316.0,1048.2 316.7,1052.0 317.4,1050.6 318.1,1049.6 318.8,1052.2 319.5,1053.4 320.2,1051.6 320.9,1047.0 321.6,1053.7 322.3,1055.3 323.0,1052.9 323.7,1052.0 324.4,1050.5 325.1,1052.5 325.8,1051.3 326.5,1048.2 327.2,1049.4 327.9,1045.9 328.6,1040.9 329.3,1045.5 330.0,1047.0 330.7,1041.3 331.4,1043.5 332.1,1043.1 332.8,1044.7 333.5,1036.4 334.2,1044.5 334.9,1033.8 335.6,1036.3 336.3,1035.0 337.0,1030.9 337.7,1029.1 338.4,1028.1 339.1,1030.1 339.8,1025.1 340.5,1028.1 341.2,1022.3 341.9,1028.1 342.6,1026.9 343.3,1027.4 344.0,1025.3 344.7,1027.1 345.4,1021.4 346.1,1025.3 346.8,1023.3 347.5,1023.1 348.2,1023.1 348.9,1018.3 349.6,1020.8 350.3,1024.8 351.0,1022.2 351.7,1014.6 352.4,1011.7 353.1,1013.2 353.8,1014.3 354.5,1016.3 355.2,1013.2 355.9,1012.3 356.6,1014.1 357.3,1007.5 358.0,1010.6 358.7,1003.8 359.4,1005.3 360.1,1000.6 360.8,1011.0 361.5,1005.4 362.2,1003.0 362.9,1002.2 363.6,1004.9 364.3,1001.5 365.0,1003.4 365.7,1001.5 366.4,1000.8 367.1,997.5 367.8,997.6 368.5,1001.8 369.2,997.1 369.9,995.5 370.6,1003.4 371.3,990.1 372.0,992.6 372.7,994.5 373.4,991.2 374.1,993.0 374.8,996.2 375.5,994.2 376.2,994.4 376.9,988.1 377.6,988.9 378.3,990.0 379.0,986.1 379.7,986.6 380.4,987.5 381.1,984.3 381.8,983.4 382.5,983.6 383.2,980.7 383.9,981.6 384.6,981.5 385.3,984.0 386.0,979.7 386.7,979.0 387.4,979.3 388.1,982.5 388.8,978.5 389.5,980.8 390.2,972.3 390.9,973.7 391.6,979.3 392.3,975.0 393.0,972.8 393.7,970.6 394.4,971.3 395.1,967.2 395.8,967.2 396.5,963.4 397.2,967.4 397.9,964.4 398.6,960.5 399.3,960.1 400.0,961.2 400.7,958.6 401.4,956.9 402.1,959.8 402.8,955.6 403.5,956.8 404.2,955.9 404.9,957.5 405.6,955.0 406.3,955.2 407.0,952.6 407.7,951.1 408.4,954.2 409.1,949.6 409.8,945.6 410.5,948.1 411.2,950.0 411.9,945.1 412.6,944.2 413.3,951.3 414.0,942.8 414.7,942.2 415.4,942.5 416.1,938.9 416.8,935.6 417.5,937.3 418.2,932.9 418.9,933.0 419.6,931.4 420.3,928.5 421.0,925.3 421.7,925.6 422.4,929.5 423.1,925.3 423.8,921.4 424.5,923.6 425.2,923.6 425.9,920.1 426.6,910.6 427.3,916.5 428.0,918.0 428.7,915.1 429.4,916.8 430.1,914.0 430.8,913.6 431.5,914.2 432.2,913.9 432.9,909.3 433.6,911.5 434.3,911.3 435.0,911.0 435.7,906.0 436.4,905.7 437.1,898.8 437.8,900.6 438.5,897.9 439.2,899.3 439.9,895.9 440.6,898.4 441.3,896.8 442.0,893.9 442.7,893.5 443.4,893.2 444.1,888.8 444.8,885.9 445.5,887.9 446.2,884.0 446.9,884.6 447.6,885.2 448.3,882.3 449.0,879.7 449.7,879.5 450.4,878.1 451.1,877.0 451.8,877.4 452.5,874.9 453.2,871.2 453.9,878.2 454.6,873.9 455.3,873.5 456.0,874.1 456.7,873.4 457.4,870.5 458.1,871.2 458.8,867.9 459.5,869.5 460.2,866.4 460.9,867.6 461.6,867.4 462.3,867.0 463.0,865.2 463.7,864.0 464.4,862.5 465.1,860.7 465.8,859.5 466.5,856.8 467.2,858.0 467.9,857.3 468.6,853.6 469.3,856.3 470.0,852.3 470.7,850.3 471.4,849.0 472.1,847.4 472.8,850.0 473.5,847.4 474.2,849.2 474.9,846.3 475.6,843.1 476.3,845.3 477.0,842.1 477.7,838.3 478.4,839.1 479.1,835.5 479.8,835.0 480.5,835.1 481.2,835.7 481.9,833.6 482.6,831.0 483.3,831.1 484.0,825.5 484.7,826.9 485.4,826.9 486.1,822.8 486.8,824.7 487.5,822.9 488.2,824.3 488.9,824.5 489.6,822.5 490.3,824.3 491.0,824.8 491.7,827.1 492.4,820.0 493.1,819.9 493.8,827.7 494.5,821.7 495.2,822.4 495.9,821.0 496.6,826.5 497.3,820.8 498.0,824.5 498.7,824.3 499.4,822.4 500.1,822.3 500.8,823.4 501.5,822.7 502.2,825.4 502.9,820.5 503.6,820.9 504.3,822.1 505.0,819.1 505.7,814.7 506.4,816.6 507.1,815.3 507.8,815.7 508.5,813.0 509.2,810.5 509.9,809.9 510.6,809.7 511.3,807.0 512.0,815.4 512.7,810.5 513.4,806.8 514.1,808.9 514.8,805.8 515.5,807.3 516.2,806.5 516.9,805.6 517.6,806.1 518.3,804.2 519.0,807.8 519.7,807.6 520.4,808.4 521.1,804.1 521.8,803.1 522.5,802.6 523.2,803.6 523.9,804.3 524.6,801.9 525.3,801.5 526.0,802.5 526.7,804.0 527.4,797.8 528.1,800.9 528.8,804.3 529.5,799.5 530.2,800.6 530.9,797.5 531.6,796.4 532.3,797.2 533.0,792.8 533.7,795.7 534.4,796.0 535.1,787.8 535.8,790.0 536.5,789.6 537.2,789.7 537.9,789.2 538.6,785.6 539.3,785.5 540.0,783.5 540.7,785.1 541.4,782.3 542.1,782.7 542.8,786.7 543.5,779.6 544.2,780.7 544.9,779.9 545.6,777.0 546.3,777.9 547.0,779.3 547.7,780.8 548.4,778.7 549.1,776.3 549.8,772.7 550.5,773.8 551.2,774.5 551.9,775.3 552.6,774.7 553.3,773.4 554.0,774.4 554.7,772.9 555.4,773.3 556.1,771.3 556.8,771.0 557.5,766.8 558.2,767.8 558.9,771.0 559.6,770.1 560.3,768.9 561.0,762.9 561.7,762.8 562.4,763.4 563.1,762.2 563.8,760.1 564.5,756.6 565.2,755.6 565.9,759.8 566.6,757.1 567.3,762.1 568.0,757.6 568.7,758.6 569.4,759.5 570.1,758.4 570.8,757.7 571.5,756.6 572.2,760.0 572.9,750.6 573.6,755.3 574.3,755.6 575.0,754.4 575.7,752.2 576.4,754.9 577.1,755.9 577.8,754.0 578.5,754.1 579.2,751.4 579.9,750.9 580.6,749.7 581.3,748.5 582.0,750.4 582.7,749.4 583.4,752.2 584.1,749.5 584.8,749.8 585.5,746.6 586.2,748.7 586.9,750.0 587.6,745.8 588.3,745.5 589.0,746.2 589.7,745.7 590.4,742.4 591.1,743.0 591.8,743.6 592.5,742.7 593.2,738.9 593.9,742.1 594.6,741.8 595.3,743.5 596.0,739.8 596.7,740.6 597.4,739.9 598.1,738.2 598.8,737.4 599.5,736.9 600.2,737.2 600.9,735.2 601.6,733.8 602.3,732.4 603.0,734.1 603.7,735.6 604.4,732.4 605.1,728.2 605.8,729.2 606.5,731.8 607.2,732.0 607.9,725.4 608.6,726.2 609.3,724.9 610.0,722.0 610.7,725.5 611.4,719.6 612.1,721.2 612.8,722.8 613.5,716.5 614.2,715.9 614.9,718.2 615.6,718.1 616.3,719.0 617.0,718.2 617.7,718.1 618.4,717.7 619.1,717.5 619.8,718.2 620.5,713.5 621.2,717.0 621.9,713.2 622.6,714.8 623.3,714.5 624.0,715.6 624.7,710.2 625.4,710.8 626.1,713.4 626.8,709.7 627.5,711.3 628.2,710.8 628.9,709.9 629.6,717.8 630.3,707.0 631.0,709.1 631.7,709.5 632.4,702.6 633.1,709.9 633.8,709.6 634.5,715.2 635.2,707.1 635.9,711.3 636.6,706.0 637.3,706.3 638.0,706.6 638.7,701.4 639.4,702.4 640.1,707.3 640.8,707.3 641.5,704.7 642.2,703.8 642.9,706.6 643.6,702.3 644.3,703.2 645.0,702.0 645.7,702.7 646.4,703.1 647.1,704.7 647.8,704.0 648.5,700.9 649.2,699.9 649.9,706.1 650.6,701.9 651.3,699.6 652.0,696.6 652.7,697.7 653.4,695.2 654.1,699.4 654.8,698.0 655.5,694.5 656.2,693.8 656.9,696.1 657.6,695.2 658.3,695.0 659.0,693.8 659.7,694.7 660.4,696.2 661.1,694.9 661.8,694.1 662.5,691.0 663.2,686.7 663.9,689.2 664.6,688.6 665.3,688.4 666.0,689.4 666.7,691.5 667.4,686.3 668.1,682.5 668.8,681.1 669.5,676.2 670.2,677.7 670.9,681.7 671.6,680.5 672.3,677.6 673.0,679.0 673.7,677.3 674.4,678.0 675.1,674.4 675.8,678.9 676.5,676.8 677.2,679.6 677.9,678.5 678.6,675.7 679.3,675.4 680.0,675.7 680.7,675.3 681.4,675.8 682.1,671.1 682.8,677.1 683.5,674.7 684.2,671.6 684.9,674.6 685.6,672.7 686.3,668.1 687.0,669.2 687.7,664.5 688.4,665.9 689.1,664.2 689.8,665.1 690.5,664.3 691.2,664.4 691.9,666.0 692.6,666.4 693.3,662.2 694.0,663.2 694.7,661.0 695.4,662.1 696.1,662.2 696.8,660.9 697.5,657.6 698.2,660.1 698.9,660.9 699.6,659.1 700.3,661.8 701.0,659.5 701.7,657.0 702.4,660.7 703.1,657.7 703.8,654.8 704.5,656.0 705.2,655.5 705.9,653.3 706.6,657.4 707.3,656.2 708.0,659.4 708.7,658.4 709.4,660.3 710.1,657.5 710.8,656.8 711.5,658.6 712.2,658.1 712.9,655.6 713.6,651.6 714.3,658.1 715.0,658.6 715.7,653.9 716.4,660.1 717.1,656.5 717.8,651.9 718.5,653.6 719.2,650.3 719.9,653.1 720.6,650.8 721.3,648.7 722.0,649.8 722.7,647.9 723.4,649.3 724.1,648.4 724.8,648.4 725.5,646.9 726.2,648.1 726.9,645.0 727.6,644.6 728.3,645.3 729.0,643.8 729.7,644.7 730.4,641.9 731.1,641.6 731.8,643.2 732.5,639.3 733.2,644.9 733.9,641.4 734.6,640.9 735.3,643.4 736.0,642.3 736.7,641.7 737.4,640.2 738.1,641.6 738.8,642.6 739.5,642.1 740.2,637.1 740.9,645.5 741.6,637.6 742.3,637.8 743.0,637.1 743.7,638.3 744.4,637.6 745.1,636.1 745.8,642.3 746.5,637.6 747.2,642.3 747.9,634.3 748.6,642.1 749.3,633.9 750.0,636.7 750.7,637.1 751.4,634.3 752.1,635.5 752.8,635.4 753.5,632.8 754.2,633.8 754.9,630.6 755.6,637.6 756.3,635.5 757.0,634.6 757.7,626.9 758.4,630.9 759.1,635.5 759.8,633.4 760.5,636.4 761.2,625.3 761.9,630.5 762.6,630.7 763.3,629.8 764.0,628.9 764.7,631.9 765.4,633.6 766.1,632.2 766.8,631.3 767.5,630.2 768.2,632.4 768.9,630.5 769.6,632.2 770.3,630.5 771.0,624.9 771.7,626.3 772.4,625.4 773.1,622.0 773.8,626.7 774.5,626.0 775.2,623.6 775.9,620.4 776.6,619.8 777.3,617.9 778.0,619.8 778.7,619.3 779.4,617.8 780.1,613.5 780.8,618.1 781.5,616.2 782.2,617.3 782.9,614.7 783.6,617.3 784.3,616.1 785.0,619.1 785.7,615.6 786.4,615.7 787.1,614.7 787.8,616.7 788.5,620.3 789.2,614.2 789.9,614.8 790.6,612.3 791.3,614.0 792.0,614.4 792.7,612.4 793.4,611.2 794.1,606.8 794.8,611.8 795.5,612.3 796.2,612.0 796.9,610.8 797.6,610.5 798.3,612.8 799.0,616.0 799.7,609.0 800.4,609.1 801.1,608.4 801.8,610.9 802.5,609.5 803.2,610.1 803.9,609.2 804.6,607.2 805.3,608.0 806.0,607.9 806.7,608.9 807.4,598.5 808.1,605.0 808.8,606.8 809.5,604.0 810.2,605.2 810.9,605.9 811.6,603.5 812.3,604.5 813.0,604.3 813.7,605.8 814.4,607.3 815.1,606.4 815.8,602.4 816.5,604.0 817.2,601.4 817.9,599.1 818.6,600.0 819.3,598.4 820.0,610.1 820.7,601.8 821.4,600.3 822.1,602.0 822.8,596.3 823.5,597.7 824.2,602.4 824.9,600.6 825.6,600.8 826.3,601.3 827.0,598.8 827.7,597.3 828.4,600.1 829.1,604.0 829.8,601.5 830.5,599.3 831.2,598.8 831.9,601.0 832.6,602.7 833.3,600.5 834.0,598.3 834.7,597.4 835.4,595.1 836.1,596.7 836.8,593.0 837.5,593.1 838.2,591.4 838.9,594.4 839.6,590.3 840.3,592.6 841.0,590.7 841.7,591.8 842.4,591.5 843.1,591.9 843.8,592.7 844.5,603.0 845.2,592.6 845.9,593.8 846.6,596.5 847.3,588.3 848.0,590.7 848.7,594.0 849.4,591.0 850.1,588.8 850.8,589.9 851.5,587.0 852.2,587.8 852.9,586.6 853.6,589.1 854.3,587.4 855.0,587.3 855.7,588.9 856.4,588.8 857.1,585.3 857.8,586.4 858.5,585.9 859.2,583.3 859.9,584.5 860.6,584.8 861.3,588.9 862.0,583.0 862.7,583.6 863.4,583.3 864.1,575.3 864.8,576.5 865.5,583.7 866.2,580.8 866.9,584.3 867.6,579.9 868.3,583.2 869.0,582.6 869.7,583.0 870.4,580.5 871.1,580.7 871.8,579.0 872.5,576.9 873.2,578.5 873.9,580.0 874.6,582.4 875.3,580.0 876.0,580.5 876.7,576.7 877.4,579.9 878.1,575.6 878.8,577.6 879.5,577.8 880.2,581.0 880.9,582.8 881.6,580.1 882.3,578.8 883.0,575.4 883.7,576.8 884.4,577.3 885.1,579.2 885.8,572.0 886.5,576.1 887.2,577.1 887.9,573.2 888.6,571.2 889.3,570.2 890.0,568.4 890.7,570.3 891.4,572.5 892.1,571.9 892.8,572.1 893.5,570.6 894.2,573.5 894.9,568.8 895.6,565.4 896.3,565.7 897.0,567.0 897.7,565.9 898.4,568.0 899.1,566.3 899.8,566.8 900.5,565.0 901.2,568.0 901.9,568.7 902.6,565.1 903.3,567.0 904.0,566.8 904.7,560.1 905.4,567.2 906.1,563.5 906.8,564.4 907.5,566.4 908.2,570.7 908.9,565.5 909.6,566.7 910.3,565.9 911.0,562.8 911.7,563.6 912.4,563.5 913.1,563.0 913.8,561.3 914.5,559.0 915.2,562.7 915.9,560.8 916.6,560.4 917.3,562.4 918.0,561.5 918.7,563.3 919.4,565.4 920.1,561.6 920.8,561.2 921.5,553.8 922.2,560.3 922.9,556.2 923.6,552.9 924.3,554.3 925.0,553.6 925.7,562.5 926.4,558.0 927.1,554.8 927.8,555.0 928.5,559.3 929.2,554.1 929.9,554.4 930.6,551.2 931.3,554.3 932.0,554.6 932.7,552.2 933.4,551.8 934.1,551.7 934.8,553.4 935.5,549.6 936.2,552.2 936.9,550.0 937.6,553.0 938.3,550.3 939.0,551.3 939.7,550.9 940.4,547.7 941.1,547.8 941.8,548.5 942.5,550.8 943.2,548.8 943.9,549.0 944.6,547.9 945.3,551.8 946.0,549.6 946.7,545.6 947.4,545.2 948.1,545.0 948.8,541.7 949.5,543.6 950.2,544.5 950.9,543.7 951.6,541.1 952.3,544.3 953.0,545.3 953.7,542.2 954.4,542.6 955.1,545.2 955.8,539.5 956.5,538.2 957.2,546.2 957.9,542.1 958.6,538.6 959.3,538.3 960.0,539.5 960.7,535.7 961.4,533.0 962.1,535.7 962.8,538.0 963.5,534.8 964.2,535.3 964.9,535.9 965.6,530.4 966.3,533.6 967.0,533.9 967.7,534.3 968.4,533.4 969.1,535.8 969.8,532.6 970.5,534.8 971.2,534.3 971.9,533.1 972.6,534.0 973.3,533.3 974.0,539.0 974.7,529.2 975.4,532.9 976.1,532.7 976.8,533.4 977.5,533.4 978.2,533.0 978.9,533.7 979.6,534.9 980.3,532.4 981.0,532.7 981.7,533.1 982.4,533.5 983.1,532.9 983.8,531.8 984.5,534.9 985.2,533.9 985.9,530.8 986.6,529.3 987.3,531.5 988.0,529.2 988.7,527.4 989.4,528.3 990.1,528.3 990.8,529.3 991.5,530.9 992.2,530.9 992.9,527.5 993.6,528.2 994.3,529.2 995.0,531.3 995.7,525.6 996.4,536.5 997.1,529.3 997.8,531.8 998.5,528.0 999.2,531.4 999.9,529.7 1000.6,525.2 1001.3,530.1 1002.0,525.4 1002.7,525.7 1003.4,527.3 1004.1,527.2 1004.8,523.9 1005.5,518.2 1006.2,518.8 1006.9,515.6 1007.6,522.3 1008.3,520.7 1009.0,519.0 1009.7,516.8 1010.4,513.0 1011.1,518.0 1011.8,513.1 1012.5,513.3 1013.2,513.4 1013.9,507.7 1014.6,511.0 1015.3,510.1 1016.0,510.5 1016.7,512.2 1017.4,508.1 1018.1,510.1 1018.8,505.3 1019.5,510.2 1020.2,506.1 1020.9,505.8 1021.6,506.7 1022.3,502.6 1023.0,508.3 1023.7,509.9 1024.4,506.6 1025.1,509.2 1025.8,503.0 1026.5,511.0 1027.2,507.8 1027.9,510.4 1028.6,507.0 1029.3,505.6 1030.0,507.0 1030.7,515.5 1031.4,506.1 1032.1,506.5 1032.8,510.1 1033.5,509.4 1034.2,509.6 1034.9,510.6 1035.6,509.5 1036.3,507.2 1037.0,505.7 1037.7,508.2 1038.4,506.0 1039.1,510.2 1039.8,509.9 1040.5,507.7 1041.2,513.0 1041.9,504.3 1042.6,513.5 1043.3,506.1 1044.0,504.5 1044.7,509.4 1045.4,505.3 1046.1,502.5 1046.8,501.4 1047.5,501.0 1048.2,501.1 1048.9,501.7 1049.6,495.0 1050.3,503.5 1051.0,498.2 1051.7,499.5 1052.4,503.2 1053.1,500.6 1053.8,499.5 1054.5,500.1 1055.2,498.0 1055.9,499.6 1056.6,500.0 1057.3,506.4 1058.0,503.4 1058.7,505.2 1059.4,497.9 1060.1,498.5 1060.8,501.2 1061.5,498.0 1062.2,499.5 1062.9,498.6 1063.6,499.6 1064.3,497.9 1065.0,496.3 1065.7,494.6 1066.4,495.7 1067.1,497.3 1067.8,493.3 1068.5,497.3 1069.2,499.1 1069.9,497.3 1070.6,499.7 1071.3,501.1 1072.0,495.5 1072.7,495.6 1073.4,495.7 1074.1,497.7 1074.8,495.1 1075.5,492.7 1076.2,494.7 1076.9,495.8 1077.6,490.7 1078.3,494.9 1079.0,490.4 1079.7,491.9 1080.4,494.5 1081.1,487.6 1081.8,492.0 1082.5,489.8 1083.2,492.3 1083.9,488.3 1084.6,485.5 1085.3,489.2 1086.0,490.0 1086.7,490.1 1087.4,486.5 1088.1,488.1 1088.8,485.0 1089.5,487.0 1090.2,490.1 1090.9,488.2 1091.6,485.1 1092.3,487.5 1093.0,486.4 1093.7,486.8 1094.4,486.9 1095.1,485.7 1095.8,484.3 1096.5,484.1 1097.2,480.0 1097.9,483.6 1098.6,485.6 1099.3,483.2 1100.0,482.5 1100.7,482.9 1101.4,484.0 1102.1,482.3 1102.8,484.4 1103.5,482.9 1104.2,485.4 1104.9,475.8 1105.6,476.0 1106.3,484.5 1107.0,479.7 1107.7,481.2 1108.4,479.2 1109.1,476.6 1109.8,475.5 1110.5,477.0 1111.2,475.3 1111.9,479.0 1112.6,472.8 1113.3,478.1 1114.0,478.3 1114.7,477.5 1115.4,471.7 1116.1,471.7 1116.8,474.5 1117.5,470.3 1118.2,473.0 1118.9,477.6 1119.6,472.3 1120.3,474.7 1121.0,477.5 1121.7,474.9 1122.4,471.0 1123.1,474.9 1123.8,476.9 1124.5,478.9 1125.2,475.4 1125.9,476.9 1126.6,478.2 1127.3,474.3 1128.0,479.2 1128.7,477.2 1129.4,472.4 1130.1,477.4 1130.8,475.6 1131.5,475.8 1132.2,472.8 1132.9,472.6 1133.6,474.2 1134.3,469.1 1135.0,476.2 1135.7,474.7 1136.4,474.2 1137.1,477.8 1137.8,470.4 1138.5,465.1 1139.2,470.4 1139.9,473.4 1140.6,469.3 1141.3,466.3 1142.0,468.1 1142.7,468.4 1143.4,464.5 1144.1,461.6 1144.8,464.8 1145.5,464.6 1146.2,464.7 1146.9,466.9 1147.6,469.3 1148.3,464.1 1149.0,463.3 1149.7,468.0 1150.4,463.3 1151.1,465.5 1151.8,464.6 1152.5,464.5 1153.2,465.4 1153.9,465.4 1154.6,461.3 1155.3,464.6 1156.0,463.4 1156.7,467.6 1157.4,461.4 1158.1,458.0 1158.8,462.7 1159.5,462.5 1160.2,456.9 1160.9,460.0 1161.6,463.3 1162.3,460.8 1163.0,462.8 1163.7,458.6 1164.4,461.0 1165.1,461.3 1165.8,463.0 1166.5,457.8 1167.2,459.2 1167.9,457.2 1168.6,455.9 1169.3,460.0 1170.0,461.9 1170.7,461.1 1171.4,457.0 1172.1,455.0 1172.8,461.9 1173.5,461.2 1174.2,453.8 1174.9,459.8 1175.6,453.5 1176.3,458.2 1177.0,452.8 1177.7,455.1 1178.4,455.3 1179.1,456.9 1179.8,455.2 1180.5,454.3 1181.2,444.8 1181.9,457.1 1182.6,453.4 1183.3,453.2 1184.0,452.7 1184.7,449.7 1185.4,450.2 1186.1,447.2 1186.8,446.2 1187.5,449.3 1188.2,447.5 1188.9,447.0 1189.6,449.2 1190.3,445.0 1191.0,446.4 1191.7,444.6 1192.4,455.0 1193.1,448.7 1193.8,449.7 1194.5,447.5 1195.2,447.4 1195.9,448.0 1196.6,449.3 1197.3,447.1 1198.0,448.6 1198.7,451.1 1199.4,453.3 1200.1,443.0 1200.8,445.1 1201.5,445.1 1202.2,450.0 1202.9,442.7 1203.6,443.8 1204.3,446.0 1205.0,443.1 1205.7,444.3 1206.4,443.6 1207.1,443.6 1207.8,442.6 1208.5,444.7 1209.2,440.2 1209.9,442.0 1210.6,443.0 1211.3,449.3 1212.0,443.5 1212.7,440.5 1213.4,439.4 1214.1,438.9 1214.8,442.8 1215.5,442.1 1216.2,442.4 1216.9,434.2 1217.6,439.3 1218.3,439.9 1219.0,440.7 1219.7,445.4 1220.4,438.7 1221.1,442.2 1221.8,440.5 1222.5,439.4 1223.2,438.6 1223.9,441.4 1224.6,440.2 1225.3,444.8 1226.0,440.3 1226.7,442.8 1227.4,442.0 1228.1,438.1 1228.8,443.6 1229.5,439.4 1230.2,440.6 1230.9,441.0 1231.6,436.3 1232.3,440.0 1233.0,436.0 1233.7,435.7 1234.4,435.5 1235.1,434.6 1235.8,438.1 1236.5,436.9 1237.2,436.8 1237.9,439.7 1238.6,434.5 1239.3,435.3 1240.0,433.7 1240.7,436.6 1241.4,434.8 1242.1,434.0 1242.8,430.9 1243.5,435.5 1244.2,433.4 1244.9,434.6 1245.6,432.2 1246.3,433.6 1247.0,432.3 1247.7,430.8 1248.4,436.9 1249.1,430.1 1249.8,429.7 1250.5,432.1 1251.2,430.4 1251.9,429.0 1252.6,430.2 1253.3,428.6 1254.0,429.4 1254.7,429.3 1255.4,427.9 1256.1,428.2 1256.8,430.1 1257.5,423.1 1258.2,430.2 1258.9,429.6 1259.6,421.9 1260.3,426.4 1261.0,433.0 1261.7,427.3 1262.4,431.7 1263.1,432.0 1263.8,425.0 1264.5,425.5 1265.2,425.4 1265.9,426.8 1266.6,425.5 1267.3,427.7 1268.0,425.6 1268.7,426.2 1269.4,428.1 1270.1,431.3 1270.8,425.6 1271.5,423.6 1272.2,426.2 1272.9,427.6 1273.6,428.8 1274.3,425.3 1275.0,424.7 1275.7,414.4 1276.4,428.5 1277.1,424.6 1277.8,424.3 1278.5,426.5 1279.2,425.5 1279.9,426.3 1280.6,423.1 1281.3,423.9 1282.0,427.2 1282.7,423.4 1283.4,420.4 1284.1,422.0 1284.8,423.0 1285.5,430.8 1286.2,415.3 1286.9,422.4 1287.6,420.9 1288.3,422.5 1289.0,421.2 1289.7,423.1 1290.4,417.6 1291.1,418.6 1291.8,417.0 1292.5,418.3 1293.2,416.2 1293.9,418.3 1294.6,417.2 1295.3,419.8 1296.0,413.7 1296.7,415.1 1297.4,413.6 1298.1,416.7 1298.8,417.6 1299.5,419.5 1300.2,415.8 1300.9,415.0 1301.6,422.9 1302.3,413.3 1303.0,412.3 1303.7,418.2 1304.4,416.8 1305.1,417.1 1305.8,413.9 1306.5,416.6 1307.2,413.5 1307.9,415.5 1308.6,415.9 1309.3,412.5 1310.0,419.1 1310.7,416.4 1311.4,413.6 1312.1,412.1 1312.8,414.6 1313.5,413.5 1314.2,416.2 1314.9,416.6 1315.6,415.8 1316.3,416.9 1317.0,414.9 1317.7,416.5 1318.4,410.6 1319.1,414.5 1319.8,415.8 1320.5,411.7 1321.2,411.7 1321.9,416.6 1322.6,416.8 1323.3,413.3 1324.0,415.9 1324.7,417.3 1325.4,412.5 1326.1,405.7 1326.8,413.4 1327.5,412.4 1328.2,412.2 1328.9,414.9 1329.6,413.3 1330.3,409.7 1331.0,413.7 1331.7,410.6 1332.4,415.9 1333.1,416.3 1333.8,411.6 1334.5,414.8 1335.2,410.6 1335.9,411.6 1336.6,411.7 1337.3,412.2 1338.0,412.0 1338.7,414.7 1339.4,411.4 1340.1,413.7 1340.8,413.2 1341.5,410.5 1342.2,411.0 1342.9,420.0 1343.6,408.6 1344.3,411.6 1345.0,408.5 1345.7,409.1 1346.4,411.1 1347.1,414.8 1347.8,412.4 1348.5,411.4 1349.2,407.7 1349.9,410.4 1350.6,409.6 1351.3,409.1 1352.0,404.4 1352.7,406.9 1353.4,407.4 1354.1,405.5 1354.8,406.1 1355.5,407.9 1356.2,408.6 1356.9,406.9 1357.6,405.5 1358.3,405.5 1359.0,400.7 1359.7,406.8 1360.4,407.4 1361.1,401.5 1361.8,405.4 1362.5,400.8 1363.2,401.3 1363.9,397.2 1364.6,405.6 1365.3,400.0 1366.0,400.2 1366.7,402.8 1367.4,399.6 1368.1,402.0 1368.8,400.6 1369.5,394.8 1370.2,394.1 1370.9,394.3 1371.6,398.2 1372.3,398.0 1373.0,396.5 1373.7,398.9 1374.4,397.5 1375.1,394.1 1375.8,392.7 1376.5,397.5 1377.2,396.5 1377.9,395.5 1378.6,396.0 1379.3,395.9 1380.0,403.3 1380.7,393.1 1381.4,397.9 1382.1,396.3 1382.8,393.4 1383.5,392.6 1384.2,395.3 1384.9,400.1 1385.6,394.6 1386.3,392.8 1387.0,400.8 1387.7,402.8 1388.4,396.7 1389.1,399.9 1389.8,395.6 1390.5,394.0 1391.2,395.1 1391.9,390.2 1392.6,392.3 1393.3,395.1 1394.0,395.9 1394.7,391.7 1395.4,396.0 1396.1,394.1 1396.8,386.9 1397.5,383.9 1398.2,385.5 1398.9,392.0 1399.6,392.4 1400.3,391.6 1401.0,391.2 1401.7,386.5 1402.4,389.4 1403.1,389.1 1403.8,397.3 1404.5,389.8 1405.2,401.5 1405.9,388.7 1406.6,391.2 1407.3,392.6 1408.0,391.3 1408.7,393.3 1409.4,397.3 1410.1,394.4 1410.8,392.1 1411.5,393.3 1412.2,385.2 1412.9,386.1 1413.6,391.2 1414.3,391.3 1415.0,393.7 1415.7,391.9 1416.4,392.6 1417.1,390.5 1417.8,392.5 1418.5,394.7 1419.2,395.9 1419.9,392.9 1420.6,395.4 1421.3,396.4 1422.0,395.6 1422.7,393.0 1423.4,390.1 1424.1,391.2 1424.8,391.4 1425.5,391.0 1426.2,393.8 1426.9,391.6 1427.6,394.0 1428.3,398.2 1429.0,389.5 1429.7,394.9 1430.4,393.5 1431.1,393.9 1431.8,393.4 1432.5,397.4 1433.2,393.4 1433.9,394.0 1434.6,396.6 1435.3,390.8 1436.0,392.5 1436.7,389.7 1437.4,402.2 1438.1,390.9 1438.8,393.4 1439.5,392.4 1440.2,390.4 1440.9,392.4 1441.6,391.9 1442.3,393.4 1443.0,390.9 1443.7,387.6 1444.4,386.8 1445.1,387.8 1445.8,388.2 1446.5,387.0 1447.2,388.7 1447.9,382.6 1448.6,382.9 1449.3,386.3 1450.0,385.5 1450.7,385.5 1451.4,383.1 1452.1,383.9 1452.8,381.5 1453.5,382.2 1454.2,389.4 1454.9,380.6 1455.6,380.2 1456.3,384.7 1457.0,377.9 1457.7,383.9 1458.4,379.1 1459.1,387.9 1459.8,385.6 1460.5,384.5 1461.2,382.6 1461.9,384.8 1462.6,382.6 1463.3,384.6 1464.0,381.0 1464.7,382.4 1465.4,381.7 1466.1,381.2 1466.8,382.9 1467.5,379.4 1468.2,379.9 1468.9,381.6 1469.6,377.1 1470.3,377.4 1471.0,375.7 1471.7,381.7 1472.4,382.1 1473.1,377.3 1473.8,378.5 1474.5,375.3 1475.2,385.2 1475.9,376.0 1476.6,378.1 1477.3,379.5 1478.0,375.4 1478.7,374.6 1479.4,369.5 1480.1,371.5 1480.8,379.8 1481.5,372.7 1482.2,374.4 1482.9,377.8 1483.6,375.7 1484.3,375.3 1485.0,366.0 1485.7,377.2 1486.4,375.3 1487.1,375.8 1487.8,377.1 1488.5,377.5 1489.2,378.5 1489.9,374.7 1490.6,373.9 1491.3,375.0 1492.0,376.6 1492.7,371.1 1493.4,375.4 1494.1,376.4 1494.8,376.5 1495.5,379.0 1496.2,377.1 1496.9,374.7 1497.6,374.0 1498.3,373.4 1499.0,375.1 1499.7,378.5 1500.4,374.9 1501.1,376.6 1501.8,379.7 1502.5,371.1 1503.2,372.1 1503.9,372.5 1504.6,374.5 1505.3,371.1 1506.0,374.7 1506.7,371.9 1507.4,373.7 1508.1,369.8 1508.8,368.8 1509.5,367.6 1510.2,369.3 1510.9,374.0 1511.6,368.0 1512.3,366.9 1513.0,367.7 1513.7,369.1 1514.4,367.3 1515.1,367.0 1515.8,366.8 1516.5,372.0 1517.2,366.6 1517.9,366.4 1518.6,368.4 1519.3,365.0 1520.0,365.9 1520.7,364.4 1521.4,363.5 1522.1,364.7 1522.8,364.0 1523.5,363.8 1524.2,363.0 1524.9,363.4 1525.6,363.2 1526.3,364.2 1527.0,367.6 1527.7,360.2 1528.4,362.7 1529.1,368.0 1529.8,362.2 1530.5,361.0 1531.2,361.5 1531.9,359.8 1532.6,361.3 1533.3,358.4 1534.0,361.1 1534.7,362.8 1535.4,365.8 1536.1,356.9 1536.8,357.7 1537.5,359.4 1538.2,362.1 1538.9,361.3 1539.6,357.1 1540.3,364.6 1541.0,355.6 1541.7,363.3 1542.4,360.2 1543.1,358.9 1543.8,356.1 1544.5,357.1 1545.2,354.8 1545.9,355.5 1546.6,355.4 1547.3,361.9 1548.0,357.0 1548.7,361.1 1549.4,350.6 1550.1,355.6 1550.8,356.5 1551.5,357.1 1552.2,352.8 1552.9,354.6 1553.6,357.0 1554.3,356.6 1555.0,354.3 1555.7,351.7 1556.4,351.0 1557.1,356.8 1557.8,353.2 1558.5,354.4 1559.2,355.6 1559.9,353.2 1560.6,356.1 1561.3,355.7 1562.0,352.4 1562.7,354.1 1563.4,354.5 1564.1,352.0 1564.8,347.9 1565.5,357.6 1566.2,353.3 1566.9,353.5 1567.6,352.6 1568.3,354.5 1569.0,351.8 1569.7,348.9 1570.4,355.1 1571.1,355.5 1571.8,355.0 1572.5,350.1 1573.2,350.9 1573.9,355.0 1574.6,352.1 1575.3,351.3 1576.0,350.5 1576.7,352.2 1577.4,351.7 1578.1,348.2 1578.8,351.0 1579.5,347.4 1580.2,351.3 1580.9,350.2 1581.6,353.1 1582.3,347.5 1583.0,349.9 1583.7,348.5 1584.4,348.3 1585.1,342.8 1585.8,343.6 1586.5,346.7 1587.2,346.1 1587.9,346.1 1588.6,345.1 1589.3,345.8 1590.0,347.7 1590.7,339.8 1591.4,341.9 1592.1,349.5 1592.8,349.4 1593.5,345.6 1594.2,347.6 1594.9,342.7 1595.6,346.1 1596.3,346.2 1597.0,343.9 1597.7,347.2 1598.4,348.1 1599.1,345.0 1599.8,346.9 1600.5,347.3 1601.2,344.9 1601.9,346.8 1602.6,346.7 1603.3,345.4 1604.0,348.8 1604.7,347.6 1605.4,347.0 1606.1,344.6 1606.8,352.6 1607.5,343.3 1608.2,344.1 1608.9,355.0 1609.6,349.4 1610.3,350.5 1611.0,344.8 1611.7,343.6 1612.4,343.8 1613.1,340.3 1613.8,339.6 1614.5,344.2 1615.2,351.4 1615.9,344.2 1616.6,336.7 1617.3,347.8 1618.0,347.9 1618.7,342.4 1619.4,342.6 1620.1,342.2 1620.8,340.9 1621.5,342.3 1622.2,340.8 1622.9,337.8 1623.6,338.4 1624.3,342.0 1625.0,340.1 1625.7,342.9 1626.4,338.7 1627.1,342.7 1627.8,345.7 1628.5,340.7 1629.2,340.8 1629.9,339.2 1630.6,343.8 1631.3,333.3 1632.0,340.8 1632.7,333.6 1633.4,341.2 1634.1,337.9 1634.8,337.9 1635.5,340.1 1636.2,337.3 1636.9,335.4 1637.6,335.7 1638.3,332.0 1639.0,331.6 1639.7,335.1 1640.4,333.7 1641.1,333.2 1641.8,335.1 1642.5,334.3 1643.2,335.4 1643.9,334.6 1644.6,333.8 1645.3,337.6 1646.0,331.7 1646.7,322.3 1647.4,329.2 1648.1,334.8 1648.8,329.2 1649.5,331.5 1650.2,336.7 1650.9,330.9 1651.6,326.1 1652.3,326.6 1653.0,331.3 1653.7,330.3 1654.4,326.5 1655.1,331.7 1655.8,335.1 1656.5,330.8 1657.2,327.8 1657.9,332.7 1658.6,331.5 1659.3,333.8 1660.0,328.4 1660.7,330.5 1661.4,331.4 1662.1,328.3 1662.8,330.4 1663.5,327.1 1664.2,329.5 1664.9,328.7 1665.6,331.6 1666.3,330.0 1667.0,327.5 1667.7,333.7 1668.4,331.1 1669.1,329.4 1669.8,329.1 1670.5,329.3 1671.2,330.4 1671.9,332.3 1672.6,329.0 1673.3,332.3 1674.0,331.5 1674.7,334.2 1675.4,328.9 1676.1,334.0 1676.8,330.2 1677.5,326.6 1678.2,334.0 1678.9,326.9 1679.6,329.6 1680.3,329.3 1681.0,327.9 1681.7,324.5 1682.4,329.2 1683.1,332.9 1683.8,325.9 1684.5,325.8 1685.2,330.0 1685.9,325.1 1686.6,330.7 1687.3,330.2 1688.0,332.4 1688.7,328.4 1689.4,324.8 1690.1,327.9 1690.8,324.2 1691.5,323.8 1692.2,328.9 1692.9,327.1 1693.6,328.2 1694.3,329.4 1695.0,323.9 1695.7,327.1 1696.4,328.7 1697.1,327.7 1697.8,327.4 1698.5,324.4 1699.2,326.3 1699.9,325.1 1700.6,323.7 1701.3,321.1 1702.0,325.7 1702.7,325.1 1703.4,325.1 1704.1,323.4 1704.8,323.3 1705.5,320.8 1706.2,319.7 1706.9,323.7 1707.6,320.7 1708.3,323.3 1709.0,325.2 1709.7,323.7 1710.4,323.6 1711.1,320.2 1711.8,321.3 1712.5,315.2 1713.2,321.3 1713.9,318.4 1714.6,323.0 1715.3,316.0 1716.0,318.9 1716.7,318.1 1717.4,317.8 1718.1,321.0 1718.8,319.0 1719.5,320.8 1720.2,322.2 1720.9,318.8 1721.6,321.5 1722.3,319.3 1723.0,321.0 1723.7,318.5 1724.4,320.0 1725.1,318.2 1725.8,323.3 1726.5,317.3 1727.2,317.2 1727.9,326.0 1728.6,314.4 1729.3,315.8 1730.0,316.3 1730.7,317.9 1731.4,320.4 1732.1,316.7 1732.8,315.2 1733.5,316.9 1734.2,314.5 1734.9,314.7 1735.6,315.2 1736.3,314.1 1737.0,321.0 1737.7,310.9 1738.4,320.3 1739.1,319.2 1739.8,314.0 1740.5,321.4 1741.2,314.1 1741.9,318.3 1742.6,314.9 1743.3,314.5 1744.0,315.1 1744.7,310.2 1745.4,320.1 1746.1,314.7 1746.8,315.4 1747.5,314.0 1748.2,316.7 1748.9,314.3 1749.6,310.2 1750.3,311.8 1751.0,314.0 1751.7,315.5 1752.4,310.2 1753.1,317.6 1753.8,310.8 1754.5,311.1 1755.2,316.4 1755.9,310.2 1756.6,314.0 1757.3,313.7 1758.0,314.4 1758.7,317.1 1759.4,311.6 1760.1,312.5 1760.8,312.2 1761.5,315.9 1762.2,312.0 1762.9,309.4 1763.6,313.0 1764.3,312.5 1765.0,305.8 1765.7,309.8 1766.4,308.7 1767.1,305.4 1767.8,301.9 1768.5,310.9 1769.2,309.5 1769.9,308.1 1770.6,308.1 1771.3,304.0 1772.0,311.8 1772.7,304.4 1773.4,307.5 1774.1,307.8 1774.8,307.4 1775.5,304.0 1776.2,306.3 1776.9,307.5 1777.6,305.9 1778.3,304.2 1779.0,306.3 1779.7,308.5 1780.4,309.1 1781.1,306.4 1781.8,306.0 1782.5,307.7 1783.2,308.3 1783.9,300.9 1784.6,300.7 1785.3,307.8 1786.0,307.7 1786.7,305.2 1787.4,302.7 1788.1,303.6 1788.8,298.4 1789.5,300.9 1790.2,304.7 1790.9,298.7 1791.6,301.6 1792.3,301.1 1793.0,304.7 1793.7,300.9 1794.4,302.1 1795.1,303.5 1795.8,303.8 1796.5,302.9 1797.2,299.0 1797.9,301.5 1798.6,299.4 1799.3,300.3 1800.0,304.5 1800.7,301.0 1801.4,302.6 1802.1,301.6 1802.8,300.0 1803.5,300.7 1804.2,300.7 1804.9,300.1 1805.6,303.0 1806.3,301.9 1807.0,301.6 1807.7,300.8 1808.4,302.6 1809.1,305.6 1809.8,300.5 1810.5,300.5 1811.2,299.5 1811.9,298.4 1812.6,298.8 1813.3,302.3 1814.0,295.8 1814.7,298.3 1815.4,299.2 1816.1,297.6 1816.8,299.2 1817.5,303.9 1818.2,297.8 1818.9,299.0 1819.6,295.7 1820.3,301.9 1821.0,301.6 1821.7,298.4 1822.4,300.6 1823.1,297.8 1823.8,300.6 1824.5,297.3 1825.2,300.2 1825.9,297.5 1826.6,298.4 1827.3,299.1 1828.0,301.1 1828.7,287.3 1829.4,297.7 1830.1,295.8 1830.8,294.5 1831.5,297.5 1832.2,292.3 1832.9,296.2 1833.6,293.1 1834.3,291.9 1835.0,295.9 1835.7,295.2 1836.4,292.9 1837.1,293.7 1837.8,299.3 1838.5,307.7 1839.2,293.7 1839.9,302.4 1840.6,293.2 1841.3,298.7 1842.0,296.5 1842.7,298.5 1843.4,296.8 1844.1,293.7 1844.8,293.5 1845.5,301.6 1846.2,294.0 1846.9,300.9 1847.6,290.0 1848.3,300.1 1849.0,289.8 1849.7,290.2 1850.4,288.8 1851.1,291.0 1851.8,289.9 1852.5,291.6 1853.2,289.1 1853.9,289.8 1854.6,291.6 1855.3,289.0 1856.0,281.1 1856.7,293.2 1857.4,290.3 1858.1,288.9 1858.8,283.4 1859.5,283.1 1860.2,283.1 1860.9,287.3 1861.6,288.0 1862.3,283.8 1863.0,284.8 1863.7,289.6 1864.4,287.2 1865.1,283.4 1865.8,284.4 1866.5,287.1 1867.2,288.1 1867.9,280.1 1868.6,290.1 1869.3,285.3 1870.0,285.7 1870.7,284.3 1871.4,283.6 1872.1,281.9 1872.8,279.3 1873.5,282.4 1874.2,281.3 1874.9,281.7 1875.6,280.9 1876.3,282.0 1877.0,281.4 1877.7,283.6 1878.4,280.7 1879.1,279.1 1879.8,282.1 1880.5,278.6 1881.2,281.4 1881.9,280.0 1882.6,283.1 1883.3,276.2 1884.0,282.4 1884.7,283.8 1885.4,279.3 1886.1,290.1 1886.8,280.1 1887.5,278.5 1888.2,276.7 1888.9,280.1 1889.6,280.5 1890.3,282.1 1891.0,273.9 1891.7,271.7 1892.4,275.8 1893.1,283.1 1893.8,280.4 1894.5,280.1 1895.2,281.1 1895.9,280.5 1896.6,281.5 1897.3,278.2 1898.0,278.4 1898.7,272.5 1899.4,277.2 1900.1,276.8 1900.8,275.4 1901.5,276.6 1902.2,277.8 1902.9,272.7 1903.6,276.1 1904.3,277.2 1905.0,273.8 1905.7,273.6 1906.4,275.1 1907.1,280.5 1907.8,276.4 1908.5,273.1 1909.2,275.7 1909.9,276.4 1910.6,272.0 1911.3,279.6 1912.0,277.9 1912.7,274.1 1913.4,274.0 1914.1,281.7 1914.8,276.0 1915.5,277.9 1916.2,271.9 1916.9,270.4 1917.6,274.3 1918.3,271.5 1919.0,273.6 1919.7,276.0 1920.4,269.2 1921.1,275.9 1921.8,272.6 1922.5,273.3 1923.2,271.5 1923.9,273.0 1924.6,274.8 1925.3,274.9 1926.0,266.8 1926.7,272.8 1927.4,271.2 1928.1,268.0 1928.8,271.6 1929.5,270.0 1930.2,268.2 1930.9,276.1 1931.6,272.4 1932.3,268.7 1933.0,271.6 1933.7,267.7 1934.4,269.3 1935.1,279.0 1935.8,262.9 1936.5,268.3 1937.2,266.8 1937.9,275.9 1938.6,272.1 1939.3,266.4 1940.0,269.8 1940.7,269.4 1941.4,274.1 1942.1,269.3 1942.8,266.2 1943.5,266.3 1944.2,264.8 1944.9,269.3 1945.6,270.2 1946.3,268.4 1947.0,266.5 1947.7,270.5 1948.4,270.5 1949.1,269.9 1949.8,267.6 1950.5,268.3 1951.2,267.5 1951.9,269.6 1952.6,270.1 1953.3,266.8 1954.0,265.7 1954.7,269.9 1955.4,262.8 1956.1,267.5 1956.8,270.7 1957.5,265.2 1958.2,266.3 1958.9,267.1 1959.6,266.5 1960.3,265.3 1961.0,271.4 1961.7,271.0 1962.4,270.7 1963.1,265.9 1963.8,274.8 1964.5,267.6 1965.2,270.2 1965.9,270.6 1966.6,268.5 1967.3,265.6 1968.0,259.6 1968.7,264.8 1969.4,260.3 1970.1,261.7 1970.8,258.8 1971.5,258.3 1972.2,255.8 1972.9,257.0 1973.6,258.0 1974.3,255.5 1975.0,256.7 1975.7,254.2 1976.4,255.8 1977.1,249.7 1977.8,245.3 1978.5,250.6 1979.2,254.9 1979.9,258.2 1980.6,255.2 1981.3,254.6 1982.0,261.9 1982.7,250.8 1983.4,255.8 1984.1,252.2 1984.8,262.7 1985.5,256.3 1986.2,254.6 1986.9,257.5 1987.6,260.7 1988.3,255.9 1989.0,260.2 1989.7,261.7 1990.4,255.7 1991.1,259.3 1991.8,255.4 1992.5,255.5 1993.2,258.5 1993.9,256.9 1994.6,255.7 1995.3,252.5 1996.0,261.8 1996.7,257.2 1997.4,258.5 1998.1,255.8 1998.8,249.6 1999.5,257.0 2000.2,251.0 2000.9,252.5 2001.6,250.8 2002.3,251.6 2003.0,246.7 2003.7,244.7 2004.4,248.0 2005.1,253.6 2005.8,246.4 2006.5,248.5 2007.2,246.4 2007.9,247.1 2008.6,247.8 2009.3,247.3 2010.0,244.1 2010.7,250.7 2011.4,246.6 2012.1,251.4 2012.8,249.3 2013.5,238.3 2014.2,247.2 2014.9,246.1 2015.6,247.5 2016.3,245.2 2017.0,250.6 2017.7,247.1 2018.4,248.0 2019.1,247.6 2019.8,249.9 2020.5,245.8 2021.2,249.4 2021.9,248.3 2022.6,251.9 2023.3,246.9 2024.0,246.9 2024.7,246.5 2025.4,244.9 2026.1,249.1 2026.8,246.6 2027.5,244.0 2028.2,243.6 2028.9,245.0 2029.6,246.3 2030.3,247.0 2031.0,245.2 2031.7,241.8 2032.4,243.1 2033.1,242.5 2033.8,244.2 2034.5,241.6 2035.2,238.1 2035.9,237.6 2036.6,236.5 2037.3,243.0 2038.0,240.3 2038.7,241.2 2039.4,247.4 2040.1,241.9 2040.8,238.4 2041.5,244.3 2042.2,241.9 2042.9,243.5 2043.6,242.6 2044.3,233.4 2045.0,240.3 2045.7,243.6 2046.4,245.0 2047.1,236.1 2047.8,239.8 2048.5,237.5 2049.2,239.8 2049.9,235.6 2050.6,238.9 2051.3,242.4 2052.0,238.5 2052.7,234.6 2053.4,240.3 2054.1,231.8 2054.8,235.0 2055.5,234.3 2056.2,234.3 2056.9,235.1 2057.6,235.5 2058.3,236.7 2059.0,237.4 2059.7,237.9 2060.4,233.5 2061.1,234.3 2061.8,240.9 2062.5,243.5 2063.2,236.9 2063.9,232.8 2064.6,237.8 2065.3,240.0 2066.0,236.5 2066.7,239.0 2067.4,237.1 2068.1,237.3 2068.8,236.7 2069.5,240.5 2070.2,234.4 2070.9,237.5 2071.6,237.4 2072.3,235.6 2073.0,234.0 2073.7,237.0 2074.4,240.7 2075.1,237.4 2075.8,235.2 2076.5,236.5 2077.2,235.5 2077.9,234.6 2078.6,238.4 2079.3,239.2 2080.0,236.9 2080.7,240.2 2081.4,239.4 2082.1,236.5 2082.8,234.7 2083.5,237.6 2084.2,234.6 2084.9,235.1 2085.6,232.8 2086.3,231.0 2087.0,229.1 2087.7,231.7 2088.4,232.2 2089.1,232.4 2089.8,228.7 2090.5,231.5 2091.2,232.6 2091.9,232.3 2092.6,232.9 2093.3,233.9 2094.0,234.2 2094.7,231.6 2095.4,233.6 2096.1,231.2 2096.8,233.4 2097.5,235.0 2098.2,238.0 2098.9,233.0 2099.6,233.5 2100.3,228.5 2101.0,231.4 2101.7,233.3 2102.4,237.8 2103.1,225.5 2103.8,229.4 2104.5,230.4 2105.2,237.0 2105.9,224.4 2106.6,232.2 2107.3,228.3 2108.0,231.8 2108.7,232.8 2109.4,230.1 2110.1,227.4 2110.8,221.1 2111.5,223.0 2112.2,221.6 2112.9,218.3" fill="none" stroke="#000000" stroke-width="4.1" stroke-linejoin="round" />
</g>
<g font-family="'Liberation Sans', Arial, Helvetica, sans-serif" fill="#000">
<g font-size="54.3" text-anchor="end">
<text x="232.4" y="1401.3">0.00</text>
<text x="232.4" y="1097.9">0.02</text>
<text x="232.4" y="794.5">0.04</text>
<text x="232.4" y="491.0">0.06</text>
<text x="232.4" y="187.6">0.08</text>
</g>
<g font-size="54.3" text-anchor="middle">
<text x="262.6" y="1459">0</text>
<text x="673.1" y="1459">2000</text>
<text x="1085.2" y="1459">4000</text>
<text x="1497.3" y="1459">6000</text>
<text x="1909.4" y="1459">8000</text>
</g>
<text x="1187" y="1566.6" font-size="67.6" text-anchor="middle">t(min)</text>
<text transform="translate(77,751.7) rotate(-90)" font-size="67.5" text-anchor="middle">gas uptake(mol of water)</text>
</g>
<g shape-rendering="crispEdges" fill="none">
<line x1="438" y1="1027.4" x2="591.3" y2="1027.4" stroke="#ff0000" stroke-width="3"/>
<line x1="438" y1="1110.0" x2="591.3" y2="1110.0" stroke="#00ff00" stroke-width="4.6"/>
<line x1="438" y1="1192.5" x2="591.3" y2="1192.5" stroke="#00ffff" stroke-width="3"/>
<line x1="438" y1="1274.5" x2="591.3" y2="1274.5" stroke="#000" stroke-width="2.5"/>
</g>
<g font-family="'Liberation Serif', 'Times New Roman', Times, serif" fill="#000" stroke="#000" stroke-width="0.7" font-size="69">
<text transform="translate(605.6,1049.4) scale(0.95,1)">experiment 9</text>
<text transform="translate(605.6,1131.8) scale(0.95,1)">experiment 12a</text>
<text transform="translate(605.6,1214.2) scale(0.95,1)">experiment 12b</text>
<text transform="translate(605.6,1296.6) scale(0.95,1)">experiment 12c</text>
</g>
<g stroke="#000" fill="none" stroke-width="3.6">
<rect x="1195.5" y="604.4" width="875.2" height="657.7"/>
<g stroke-linecap="round">
<line x1="1370.5" y1="1262.1" x2="1370.5" y2="1249.3"/>
<line x1="1545.6" y1="1262.1" x2="1545.6" y2="1249.3"/>
<line x1="1720.6" y1="1262.1" x2="1720.6" y2="1249.3"/>
<line x1="1895.7" y1="1262.1" x2="1895.7" y2="1249.3"/>
<line x1="1283.0" y1="1262.1" x2="1283.0" y2="1256.1"/>
<line x1="1458.1" y1="1262.1" x2="1458.1" y2="1256.1"/>
<line x1="1633.1" y1="1262.1" x2="1633.1" y2="1256.1"/>
<line x1="1808.1" y1="1262.1" x2="1808.1" y2="1256.1"/>
<line x1="1983.2" y1="1262.1" x2="1983.2" y2="1256.1"/>
<line x1="1195.5" y1="933.2" x2="1206.5" y2="933.2"/>
<line x1="1195.5" y1="1097.7" x2="1200.8" y2="1097.7"/>
<line x1="1195.5" y1="768.8" x2="1200.8" y2="768.8"/>
</g></g>
<g shape-rendering="crispEdges" clip-path="url(#ci)">
<polyline points="1196.0,1262.0 1196.4,1250.0 1196.9,1262.0" fill="none" stroke="#00ff00" stroke-width="2.0" stroke-linejoin="round" />
<polyline points="1211.9,1262.5 1212.5,1235.1 1213.3,1262.5 1214.2,1252.1 1215.2,1262.5 1216.1,1251.1 1216.6,1226.6 1217.5,1186.0 1218.5,1216.2 1219.2,1183.2 1220.4,1220.0 1221.3,1208.7 1222.3,1172.8 1223.2,1227.5 1224.2,1180.4 1225.6,1202.1 1227.0,1148.3 1227.9,1186.0 1229.3,1132.3 1230.3,1148.3 1231.2,1164.3 1232.2,1170.9 1233.6,1191.7 1234.5,1137.0 1235.5,1129.4 1236.4,1170.9 1237.8,1141.7 1239.2,1163.4 1240.7,1129.4 1242.5,1182.3 1244.0,1142.6 1245.4,1120.0 1246.6,1128.0" fill="none" stroke="#00ff00" stroke-width="2.0" stroke-linejoin="round" />
<polyline points="1245.4,1109.5 1247.2,1120.1 1248.9,1104.2 1250.7,1111.4 1252.4,1109.6 1254.2,1090.3 1255.9,1090.5 1257.7,1089.7 1259.4,1087.7 1261.2,1094.1 1262.9,1082.6 1264.7,1073.0 1266.4,1087.8 1268.2,1069.0 1269.9,1082.0 1271.7,1086.9 1273.4,1078.5 1275.2,1071.9 1276.9,1078.4 1278.7,1062.2 1280.4,1076.7 1282.2,1063.8 1283.9,1079.4 1285.7,1064.6 1287.4,1067.9 1289.2,1061.5 1290.9,1059.1 1292.7,1052.2 1294.4,1024.2 1296.2,1037.7 1297.9,1053.3 1299.7,1040.1 1301.4,1046.8 1303.2,1021.5 1304.9,1051.7 1306.7,1026.8 1308.4,1029.9 1310.2,1040.0 1311.9,1028.1 1313.7,1028.7 1315.4,1038.9 1317.2,1030.1 1318.9,1028.8 1320.7,1027.9 1322.4,1026.0 1324.2,1037.4 1325.9,1007.0 1327.7,1041.4 1329.4,1038.6 1331.2,1085.0 1332.9,1046.5 1334.7,1037.7 1336.4,1038.5 1338.2,1078.0 1339.9,1031.7 1341.7,1060.3 1343.4,1080.0 1345.2,1035.2 1346.9,1021.2 1348.7,1026.8 1350.4,1018.0 1352.2,1027.5 1353.9,1008.2 1355.7,1019.8 1357.4,1014.7 1359.2,1022.1 1360.9,1011.4 1362.7,1015.0 1364.4,1016.4 1366.2,1018.4 1367.9,1034.2 1369.7,1082.0 1371.4,1037.7 1373.2,1021.5 1374.9,1019.5 1376.7,1008.2 1378.4,1010.5 1380.2,1014.7 1381.9,1001.1 1383.7,1001.5 1385.4,1016.9 1387.2,1042.4 1388.9,1004.1 1390.7,1016.1 1392.4,1052.0 1394.2,1004.6 1395.9,981.5 1397.7,1058.0 1399.4,1022.5 1401.2,1063.0 1402.9,997.6 1404.7,1009.1 1406.4,997.8 1408.2,1040.0 1409.9,999.3 1411.7,983.9 1413.4,994.0 1415.2,988.0 1416.9,997.0 1418.7,984.3 1420.4,992.6 1422.2,977.0 1423.9,991.4 1425.7,990.4 1427.4,977.7 1429.2,989.1 1430.9,986.4 1432.7,979.2 1434.4,999.4 1436.2,983.2 1437.9,999.5 1439.7,978.5 1441.4,989.9 1443.2,960.2 1444.9,988.7 1446.7,991.0 1448.4,987.5 1450.2,981.6 1451.9,978.4 1453.7,971.2 1455.4,988.2 1457.2,984.0 1458.9,981.5 1460.7,995.6 1462.4,971.1 1464.2,990.8 1465.9,985.9 1467.7,974.6 1469.4,992.8 1471.2,977.5 1472.9,988.0 1474.7,969.6 1476.4,972.5 1478.2,1012.5 1479.9,978.7 1481.7,992.3 1483.4,1010.0 1485.2,975.9 1486.9,989.5 1488.7,984.9 1490.4,989.3 1492.2,968.3 1493.9,983.8 1495.7,963.9 1497.4,965.5 1499.2,977.8 1500.9,978.9 1502.7,963.2 1504.4,957.8 1506.2,969.4 1507.9,1002.0 1509.7,964.0 1511.4,972.8 1513.2,966.9 1514.9,961.5 1516.7,983.6 1518.4,962.1 1520.2,977.1 1521.9,959.6 1523.7,981.6 1525.4,970.5 1527.2,963.9 1528.9,960.7 1530.7,960.1 1532.4,981.9 1534.2,960.8 1535.9,976.6 1537.7,963.4 1539.4,966.3 1541.2,977.8 1542.9,963.0 1544.7,958.5 1546.4,976.7 1548.2,956.4 1549.9,957.0 1551.7,949.9 1553.4,970.3 1555.2,957.8 1556.9,973.8 1558.7,960.8 1560.4,966.0 1562.2,965.7 1563.9,960.0 1565.7,970.0 1567.4,964.2 1569.2,971.5 1570.9,957.3 1572.7,968.7 1574.4,950.4 1576.2,951.9 1577.9,955.1 1579.7,990.0 1581.4,971.2 1583.2,951.6 1584.9,979.2 1586.7,958.6 1588.4,964.1 1590.2,956.0 1591.9,962.4 1593.7,953.4 1595.4,945.0 1597.2,958.3 1598.9,945.0 1600.7,955.2 1602.4,942.9 1604.2,944.2 1605.9,948.1 1607.7,942.9 1609.4,956.4 1611.2,954.2 1612.9,943.6 1614.7,963.3 1616.4,938.8 1618.2,961.8 1619.9,959.0 1621.7,947.1 1623.4,959.0 1625.2,948.6 1626.9,957.5 1628.7,941.8 1630.4,951.1 1632.2,960.5 1633.9,943.3 1635.7,954.0 1637.4,936.6 1639.2,980.0 1640.9,954.1 1642.7,941.9 1644.4,951.0 1646.2,935.5 1647.9,946.2 1649.7,935.2 1651.4,940.8 1653.2,965.9 1654.9,942.5 1656.7,950.5 1658.4,940.2 1660.2,946.5 1661.9,929.7 1663.7,950.7 1665.4,931.0 1667.2,948.0 1668.9,928.4 1670.7,941.9 1672.4,942.2 1674.2,933.4 1675.9,940.8 1677.7,938.4 1679.4,937.5 1681.2,912.9 1682.9,926.2 1684.7,926.9 1686.4,942.9 1688.2,924.5 1689.9,927.9 1691.7,939.3 1693.4,922.0 1695.2,930.8 1696.9,940.2 1698.7,906.5 1700.4,931.9 1702.2,940.1 1703.9,924.5 1705.7,937.7 1707.4,927.9 1709.2,942.2 1710.9,924.8 1712.7,942.6 1714.4,930.5 1716.2,942.8 1717.9,925.1 1719.7,938.2 1721.4,941.7 1723.2,941.8 1724.9,942.1 1726.7,924.3 1728.4,931.6 1730.2,942.7 1731.9,939.5 1733.7,940.1 1735.4,924.6 1737.2,939.3 1738.9,941.7 1740.7,925.3 1742.4,939.0 1744.2,922.7 1745.9,945.2 1747.7,925.0 1749.4,941.8 1751.2,938.9 1752.9,929.7 1754.7,919.8 1756.4,934.8 1758.2,936.1 1759.9,919.9 1761.7,920.7 1763.4,930.6 1765.2,928.6 1766.9,938.6 1768.7,930.6 1770.4,921.0 1772.2,930.8 1773.9,922.4 1775.7,938.9 1777.4,922.8 1779.2,933.8 1780.9,937.6 1782.7,925.5 1784.4,957.1 1786.2,934.6 1787.9,918.0 1789.7,929.8 1791.4,910.8 1793.2,914.5 1794.9,922.6 1796.7,918.3 1798.4,934.2 1800.2,919.3 1801.9,927.2 1803.7,920.1 1805.4,926.4 1807.2,924.1 1808.9,940.3 1810.7,914.5 1812.4,907.4 1814.2,932.2 1815.9,916.9 1817.7,937.2 1819.4,919.1 1821.2,922.3 1822.9,912.1 1824.7,929.3 1826.4,911.1 1828.2,928.0 1829.9,913.4 1831.7,918.0 1833.4,927.7 1835.2,917.5 1836.9,921.3 1838.7,912.0 1840.4,923.6 1842.2,913.5 1843.9,919.5 1845.7,910.8 1847.4,922.4 1849.2,914.0 1850.9,929.2 1852.7,920.9 1854.4,915.6 1856.2,927.4 1857.9,910.1 1859.7,911.1 1861.4,928.8 1863.2,930.1 1864.9,925.9 1866.7,917.0 1868.4,927.5 1870.2,930.3 1871.9,917.6 1873.7,929.2 1875.4,910.8 1877.2,912.7 1878.9,929.6 1880.7,918.1 1882.4,931.5 1884.2,916.5 1885.9,925.5 1887.7,911.6 1889.4,929.0 1891.2,932.0 1892.9,911.0 1894.7,925.2 1896.4,920.7 1898.2,925.2 1899.9,944.7 1901.7,909.9 1903.4,922.5 1905.2,914.2 1906.9,927.8 1908.7,913.6 1910.4,918.4 1912.2,903.5 1913.9,910.2 1915.7,910.6 1917.4,912.7 1919.2,923.8 1920.9,942.0 1922.7,912.0 1924.4,909.2 1926.2,880.9 1927.9,913.4 1929.7,914.0 1931.4,924.8 1933.2,904.7 1934.9,933.2 1936.7,917.3 1938.4,916.7 1940.2,930.4 1941.9,912.9 1943.7,925.7 1945.4,920.1 1947.2,936.7 1948.9,922.0 1950.7,931.2 1952.4,910.6 1954.2,921.8 1955.9,921.8 1957.7,931.5 1959.4,906.6 1961.2,926.2 1962.9,919.6 1964.7,913.2 1966.4,923.1 1968.2,908.8 1969.9,919.4 1971.7,905.5 1973.4,919.3 1975.2,920.5 1976.9,906.4 1978.7,919.4 1980.4,907.0 1982.2,911.9 1983.9,916.6 1985.7,902.1 1987.4,911.6 1989.2,909.1 1990.9,911.8 1992.7,923.4 1994.4,903.1 1996.2,914.6 1997.9,922.8 1999.7,902.1 2001.4,913.4 2003.2,955.0 2004.9,908.3 2006.7,893.8 2008.4,890.2 2010.2,871.3 2011.9,893.1 2013.7,899.7 2015.4,892.5 2017.2,899.2 2018.9,901.9 2020.7,903.8 2022.4,902.3 2024.2,889.0 2025.9,884.1 2027.7,878.2 2029.4,906.3 2031.2,892.9 2032.9,899.2 2034.7,895.5 2036.4,889.0 2038.2,911.1 2039.9,891.9 2041.7,903.5 2043.4,891.8 2045.2,903.7 2046.9,896.0 2048.7,902.0 2050.4,898.6 2052.2,897.3 2053.9,886.3 2055.7,899.8 2057.4,899.6 2059.2,883.0 2060.9,878.1 2062.7,896.9 2064.4,879.5 2066.2,894.2 2067.9,876.4" fill="none" stroke="#00ff00" stroke-width="2.0" stroke-linejoin="round" />
<polyline points="1196.3,1225.0 1196.8,1192.0 1197.3,1228.0 1197.8,1190.0 1198.3,1226.0 1198.8,1180.0 1199.3,1222.0 1199.8,1174.0 1200.3,1226.0 1200.8,1180.0 1201.3,1246.0 1201.6,1200.0 1201.9,1262.0" fill="none" stroke="#ff0000" stroke-width="2.2" stroke-linejoin="round" />
<polyline points="1223.0,1261.0 1232.1,1169.0 1241.1,1107.9 1250.2,1053.6 1260.8,1037.3 1270.6,1048.6 1280.3,1029.1 1288.7,1037.0 1298.9,1015.1 1307.9,977.1 1311.0,979.0 1317.4,987.9 1327.2,967.5 1336.2,950.6 1346.4,956.2 1356.1,934.8 1365.6,936.4 1374.0,938.6 1383.8,916.0 1393.9,916.0 1401.9,905.8 1414.3,893.4 1421.8,882.0 1431.3,883.2 1450.5,883.2 1460.3,885.4 1478.8,835.0 1487.9,849.9 1497.0,849.9 1507.1,836.3 1517.3,838.6 1526.4,823.2 1536.6,825.4 1553.6,827.7 1563.7,813.4 1573.9,814.8 1583.0,813.4 1592.5,802.1 1603.4,802.1 1610.2,803.9 1621.0,803.9 1630.2,814.1 1639.9,803.9 1649.4,801.7 1668.7,776.1 1677.3,789.2 1687.5,776.1 1696.5,803.9 1706.0,776.1 1715.8,776.1 1725.3,789.2 1743.4,763.6 1754.0,790.8 1762.6,777.9 1771.7,766.1 1781.2,765.5 1791.6,751.2 1801.1,765.5 1810.6,763.6 1820.4,765.9 1838.5,765.9 1848.0,763.6 1857.7,777.9 1866.8,768.9 1877.0,753.0 1886.7,750.7 1895.1,736.0 1903.0,733.8 1914.3,736.0 1924.5,731.0 1933.6,731.0 1943.1,743.9 1952.8,719.0 1961.9,758.7 1970.9,733.8 1980.0,733.8 1990.2,723.1 1999.2,725.2 2018.9,725.2 2029.3,714.1 2038.8,712.3 2056.9,712.3 2066.0,700.9 2070.5,716.8" fill="none" stroke="#ff0000" stroke-width="2.2" stroke-linejoin="round" />
<polyline points="1200.4,1258.3 1202.2,1224.5 1203.9,1192.5 1205.7,1171.8 1207.4,1159.5 1209.2,1138.0 1210.9,1148.3 1212.7,1117.0 1214.4,1117.6 1216.2,1098.0 1217.9,1092.6 1219.7,1093.8 1221.4,1077.4 1223.2,1075.0 1224.9,1089.6 1226.7,1067.7 1228.4,1081.7 1230.2,1058.0 1231.9,1056.5 1233.7,1062.3 1235.4,1096.0 1237.2,1053.8 1238.9,1055.0 1240.7,1044.3 1242.4,1045.9 1244.2,1033.6 1245.9,1048.5 1247.7,1027.2 1249.4,1030.8 1251.2,1041.4 1252.9,1020.2 1254.7,1027.3 1256.4,1017.0 1258.2,1027.2 1259.9,1020.7 1261.7,1015.1 1263.4,1028.6 1265.2,1018.4 1266.9,1031.6 1268.7,999.5 1270.4,1030.3 1272.2,1018.9 1273.9,1028.6 1275.7,1023.1 1277.4,1012.6 1279.2,1017.0 1280.9,1008.8 1282.7,1010.2 1284.4,1002.3 1286.2,1008.1 1287.9,996.1 1289.7,998.3 1291.4,997.4 1293.2,997.3 1294.9,986.2 1296.7,1009.2 1298.4,995.5 1300.2,1000.8 1301.9,992.8 1303.7,991.7 1305.4,997.1 1307.2,980.8 1308.9,991.2 1310.7,983.4 1312.4,990.2 1314.2,977.0 1315.9,1018.0 1317.7,980.3 1319.4,1022.0 1321.2,986.6 1322.9,990.4 1324.7,1028.0 1326.4,978.1 1328.2,973.0 1329.9,981.0 1331.7,973.6 1333.4,982.0 1335.2,968.3 1336.9,969.5 1338.7,962.1 1340.4,959.1 1342.2,966.8 1343.9,957.8 1345.7,955.1 1347.4,952.1 1349.2,964.1 1350.9,968.4 1352.7,950.6 1354.4,964.3 1356.2,946.5 1357.9,955.3 1359.7,939.6 1361.4,953.0 1363.2,951.0 1364.9,943.2 1366.7,954.1 1368.4,937.8 1370.2,959.6 1371.9,940.9 1373.7,954.1 1375.4,968.0 1377.2,957.4 1378.9,942.6 1380.7,951.6 1382.4,936.7 1384.2,937.1 1385.9,954.8 1387.7,934.7 1389.4,944.6 1391.2,966.0 1392.9,953.0 1394.7,950.1 1396.4,931.0 1398.2,944.1 1399.9,931.1 1401.7,926.1 1403.4,935.8 1405.2,927.3 1406.9,922.3 1408.7,955.2 1410.4,927.2 1412.2,938.0 1413.9,920.5 1415.7,923.8 1417.4,936.0 1419.2,923.0 1420.9,932.8 1422.7,927.0 1424.4,948.0 1426.2,922.4 1427.9,934.1 1429.7,920.0 1431.4,938.8 1433.2,936.6 1434.9,922.3 1436.7,933.2 1438.4,923.8 1440.2,931.6 1441.9,915.8 1443.7,914.3 1445.4,932.0 1447.2,915.3 1448.9,931.9 1450.7,915.5 1452.4,931.8 1454.2,911.3 1455.9,915.5 1457.7,922.4 1459.4,907.2 1461.2,920.3 1462.9,905.8 1464.7,924.0 1466.4,910.3 1468.2,919.0 1469.9,904.7 1471.7,926.5 1473.4,905.9 1475.2,938.4 1476.9,894.9 1478.7,913.6 1480.4,902.7 1482.2,909.1 1483.9,905.5 1485.7,900.6 1487.4,915.4 1489.2,900.9 1490.9,915.6 1492.7,905.6 1494.4,911.3 1496.2,900.2 1497.9,913.2 1499.7,897.4 1501.4,911.5 1503.2,898.3 1504.9,899.7 1506.7,914.3 1508.4,896.4 1510.2,905.5 1511.9,898.2 1513.7,906.3 1515.4,917.4 1517.2,911.3 1518.9,897.4 1520.7,901.6 1522.4,905.2 1524.2,910.3 1525.9,897.9 1527.7,906.1 1529.4,905.9 1531.2,902.5 1532.9,911.3 1534.7,891.0 1536.4,907.8 1538.2,887.9 1539.9,903.1 1541.7,885.6 1543.4,905.9 1545.2,874.2 1546.9,895.2 1548.7,885.2 1550.4,901.0 1552.2,898.0 1553.9,896.5 1555.7,888.4 1557.4,893.3 1559.2,882.6 1560.9,902.9 1562.7,874.6 1564.4,897.9 1566.2,888.2 1567.9,887.9 1569.7,871.6 1571.4,907.6 1573.2,855.1 1574.9,889.5 1576.7,874.4 1578.4,876.9 1580.2,880.3 1581.9,873.4 1583.7,882.2 1585.4,887.4 1587.2,870.7 1588.9,890.5 1590.7,887.4 1592.4,877.1 1594.2,879.6 1595.9,899.8 1597.7,882.8 1599.4,878.3 1601.2,873.3 1602.9,881.0 1604.7,869.1 1606.4,879.0 1608.2,873.9 1609.9,882.2 1611.7,862.6 1613.4,850.0 1615.2,856.0 1616.9,882.4 1618.7,860.0 1620.4,880.0 1622.2,865.6 1623.9,872.5 1625.7,861.7 1627.4,869.6 1629.2,866.4 1630.9,875.9 1632.7,862.4 1634.4,877.7 1636.2,863.6 1637.9,869.3 1639.7,859.2 1641.4,872.5 1643.2,857.2 1644.9,872.9 1646.7,867.2 1648.4,873.5 1650.2,863.0 1651.9,863.2 1653.7,872.2 1655.4,859.3 1657.2,883.7 1658.9,860.0 1660.7,875.5 1662.4,858.6 1664.2,868.6 1665.9,862.5 1667.7,857.8 1669.4,876.0 1671.2,859.6 1672.9,881.0 1674.7,854.3 1676.4,869.3 1678.2,850.2 1679.9,869.6 1681.7,855.1 1683.4,862.4 1685.2,857.3 1686.9,871.7 1688.7,865.1 1690.4,892.0 1692.2,861.4 1693.9,858.7 1695.7,871.6 1697.4,850.2 1699.2,860.0 1700.9,855.3 1702.7,852.2 1704.4,863.7 1706.2,843.9 1707.9,848.7 1709.7,851.0 1711.4,868.1 1713.2,858.8 1714.9,865.7 1716.7,854.0 1718.4,890.0 1720.2,857.8 1721.9,847.0 1723.7,858.0 1725.4,851.1 1727.2,847.9 1728.9,862.7 1730.7,848.7 1732.4,859.6 1734.2,856.6 1735.9,845.0 1737.7,859.6 1739.4,840.5 1741.2,861.1 1742.9,844.5 1744.7,858.8 1746.4,848.6 1748.2,844.5 1749.9,846.3 1751.7,839.7 1753.4,851.0 1755.2,844.3 1756.9,836.9 1758.7,854.1 1760.4,849.1 1762.2,847.9 1763.9,862.5 1765.7,854.4 1767.4,847.4 1769.2,845.3 1770.9,853.1 1772.7,842.8 1774.4,862.2 1776.2,838.5 1777.9,848.1 1779.7,841.6 1781.4,842.6 1783.2,854.9 1784.9,844.0 1786.7,857.8 1788.4,844.5 1790.2,849.4 1791.9,841.2 1793.7,847.9 1795.4,838.1 1797.2,853.4 1798.9,853.9 1800.7,837.8 1802.4,851.7 1804.2,847.8 1805.9,842.0 1807.7,850.3 1809.4,846.6 1811.2,836.2 1812.9,848.3 1814.7,836.8 1816.4,855.2 1818.2,833.7 1819.9,846.3 1821.7,835.8 1823.4,839.2 1825.2,848.5 1826.9,850.2 1828.7,831.7 1830.4,847.8 1832.2,847.3 1833.9,843.9 1835.7,839.6 1837.4,840.0 1839.2,852.3 1840.9,832.0 1842.7,849.3 1844.4,847.8 1846.2,836.5 1847.9,848.8 1849.7,849.2 1851.4,834.3 1853.2,850.7 1854.9,831.5 1856.7,844.2 1858.4,815.2 1860.2,847.0 1861.9,847.5 1863.7,841.0 1865.4,844.4 1867.2,833.6 1868.9,844.7 1870.7,832.6 1872.4,834.4 1874.2,842.3 1875.9,834.8 1877.7,830.7 1879.4,841.4 1881.2,850.0 1882.9,830.2 1884.7,839.9 1886.4,834.6 1888.2,845.9 1889.9,842.8 1891.7,843.7 1893.4,862.0 1895.2,830.9 1896.9,844.3 1898.7,829.8 1900.4,844.3 1902.2,848.5 1903.9,840.1 1905.7,832.6 1907.4,862.0 1909.2,820.4 1910.9,839.4 1912.7,825.5 1914.4,835.3 1916.2,829.2 1917.9,840.8 1919.7,822.2 1921.4,819.8 1923.2,831.4 1924.9,815.4 1926.7,826.8 1928.4,830.5 1930.2,820.8 1931.9,824.1 1933.7,833.0 1935.4,826.8 1937.2,832.0 1938.9,811.2 1940.7,821.3 1942.4,837.8 1944.2,834.2 1945.9,823.2 1947.7,835.5 1949.4,822.7 1951.2,818.5 1952.9,822.1 1954.7,839.6 1956.4,822.2 1958.2,825.2 1959.9,824.0 1961.7,833.8 1963.4,824.3 1965.2,830.4 1966.9,820.0 1968.7,831.2 1970.4,832.8 1972.2,827.8 1973.9,817.1 1975.7,834.1 1977.4,831.3 1979.2,822.7 1980.9,838.0 1982.7,812.0 1984.4,829.6 1986.2,821.8 1987.9,813.8 1989.7,829.8 1991.4,815.4 1993.2,816.5 1994.9,822.3 1996.7,812.3 1998.4,828.2 2000.2,817.1 2001.9,817.7 2003.7,825.4 2005.4,815.0 2007.2,823.9 2008.9,813.8 2010.7,803.8 2012.4,827.8 2014.2,813.3 2015.9,816.4 2017.7,826.4 2019.4,812.1 2021.2,831.5 2022.9,830.4 2024.7,834.9 2026.4,815.1 2028.2,824.9 2029.9,831.7 2031.7,825.9 2033.4,818.2 2035.2,826.9 2036.9,812.7 2038.7,813.1 2040.4,827.3 2042.2,815.5 2043.9,832.3 2045.7,825.2 2047.4,819.3 2049.2,853.7 2050.9,819.8 2052.7,827.7 2054.4,818.7 2056.2,827.2 2057.9,820.7 2059.7,814.3 2061.4,838.7 2063.2,820.1 2064.9,823.7 2066.7,803.3 2068.4,823.7" fill="none" stroke="#00ffff" stroke-width="2.0" stroke-linejoin="round" />
<polyline points="1196.5,1098.0 1197.0,1096.6 1202.6,1051.3 1208.3,1006.0 1214.0,960.8 1216.2,945.4 1220.8,916.0 1226.4,891.1 1236.6,873.0 1245.7,866.2 1254.7,843.6 1264.9,836.8 1272.8,807.8 1282.6,801.7 1292.1,814.6 1301.8,811.9 1312.4,792.6 1320.4,784.7 1329.4,790.8 1339.6,771.8 1349.3,771.8 1358.9,764.3 1366.8,757.1 1376.5,743.0 1386.5,756.4 1395.1,745.8 1405.3,758.0 1414.8,742.8 1424.1,745.8 1434.0,728.6 1442.2,728.6 1452.4,742.1 1461.9,728.6 1471.6,715.7 1480.0,719.0 1489.0,728.6 1499.2,742.1 1508.7,716.3 1517.8,743.0 1526.8,706.6 1537.0,719.0 1545.6,706.6 1555.1,719.0 1564.9,706.6 1573.9,706.6 1584.1,719.0 1592.5,706.6 1602.2,719.0 1611.3,706.6 1621.0,693.0 1630.1,693.0 1640.4,706.6 1649.0,709.5 1658.5,707.0 1667.5,707.0 1677.3,689.6 1687.9,700.3 1696.5,702.5 1705.6,686.9 1724.1,686.9 1733.9,674.2 1762.2,674.2 1771.7,688.9 1780.7,693.0 1800.0,667.4 1819.2,693.0 1827.8,680.1 1837.3,693.0 1847.1,693.0 1856.6,680.1 1874.7,680.1 1884.2,693.0 1893.9,667.4 1903.0,667.4 1912.1,679.4 1922.2,667.4 1931.3,670.4 1940.4,667.4 1950.5,667.4 1959.6,670.4 1968.7,667.4 1978.8,670.4 1987.9,667.4 1996.3,667.4 2006.5,654.1 2015.7,665.8 2026.4,654.1 2034.3,656.8 2043.8,669.9 2054.0,643.9 2063.3,654.1 2069.4,654.1" fill="none" stroke="#000" stroke-width="2.0" stroke-linejoin="round" />
</g>
<g font-family="'Liberation Sans', Arial, Helvetica, sans-serif" fill="#000">
<g font-size="25.3" text-anchor="end">
<text x="1180.3" y="1269.1">0.00</text>
<text x="1180.3" y="940.2">0.01</text>
<text x="1180.3" y="611.4">0.02</text>
</g>
<g font-size="25.3" text-anchor="middle">
<text x="1195.2" y="1296.3">0</text>
<text x="1370.2" y="1296.3">20</text>
<text x="1545.3" y="1296.3">40</text>
<text x="1720.3" y="1296.3">60</text>
<text x="1895.4" y="1296.3">80</text>
<text x="2070.4" y="1296.3">100</text>
</g>
<text x="1632.3" y="1347.2" font-size="31.8" text-anchor="middle">t(min)</text>
<text transform="translate(1108.2,958.8) rotate(-90)" font-size="31.75" text-anchor="middle">gas uptake(mol of water)</text>
</g>
<g shape-rendering="crispEdges" fill="none">
<line x1="1750.1" y1="1068.0" x2="1822.9" y2="1068.0" stroke="#ff0000" stroke-width="2"/>
<line x1="1750.1" y1="1108.0" x2="1822.9" y2="1108.0" stroke="#00ff00" stroke-width="2"/>
<line x1="1750.1" y1="1147.1" x2="1822.9" y2="1147.1" stroke="#00ffff" stroke-width="2"/>
<line x1="1750.1" y1="1187.3" x2="1822.9" y2="1187.3" stroke="#000" stroke-width="1.2"/>
</g>
<g font-family="'Liberation Serif', 'Times New Roman', Times, serif" fill="#000" stroke="#000" stroke-width="0.3" font-size="31.0">
<text x="1830" y="1078.8">experiment 9</text>
<text x="1830" y="1118.8">experiment 12a</text>
<text x="1830" y="1158.8">experiment 12b</text>
<text x="1830" y="1198.8">experiment 12c</text>
</g>
</svg>
</body></html>
